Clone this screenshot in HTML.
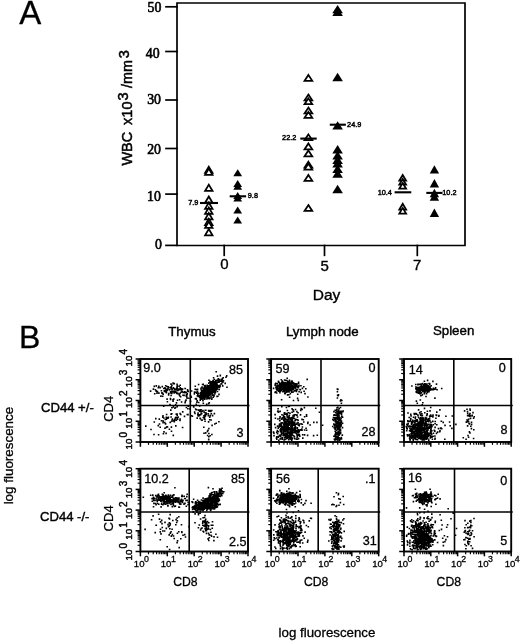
<!DOCTYPE html>
<html><head><meta charset="utf-8"><style>
html,body{margin:0;padding:0;background:#fff;}
svg{display:block;will-change:transform;}
text{fill:#000;stroke:#000;font-family:"Liberation Sans",sans-serif;}
text.sf{font-family:"Liberation Serif",serif;}
</style></head><body>
<svg width="520" height="643" viewBox="0 0 520 643">
<rect width="520" height="643" fill="#fff"/>
<text x="19.3" y="23.8" font-size="33" stroke-width="0.3">A</text>
<g stroke="#000" fill="none" stroke-linecap="square">
<path d="M177,3 H465 V245.5 H177 Z" stroke-width="1.7"/>
<line x1="166" y1="6.8" x2="177" y2="6.8" stroke-width="1.7"/>
<line x1="166" y1="51.5" x2="177" y2="51.5" stroke-width="1.7"/>
<line x1="166" y1="100" x2="177" y2="100" stroke-width="1.7"/>
<line x1="166" y1="148.5" x2="177" y2="148.5" stroke-width="1.7"/>
<line x1="166" y1="194.1" x2="177" y2="194.1" stroke-width="1.7"/>
<line x1="166" y1="245.4" x2="177" y2="245.4" stroke-width="1.7"/>
<line x1="224.2" y1="245.5" x2="224.2" y2="255.3" stroke-width="1.7"/>
<line x1="324.5" y1="245.5" x2="324.5" y2="255.3" stroke-width="1.7"/>
<line x1="417.3" y1="245.5" x2="417.3" y2="255.3" stroke-width="1.7"/>
</g>
<text x="161.3" y="11.6" font-size="13.8" text-anchor="end" class="sf" stroke-width="0.6">50</text>
<text x="159.6" y="57.7" font-size="13.8" text-anchor="end" class="sf" stroke-width="0.6">40</text>
<text x="161" y="103.6" font-size="13.8" text-anchor="end" class="sf" stroke-width="0.6">30</text>
<text x="161" y="153.6" font-size="13.8" text-anchor="end" class="sf" stroke-width="0.6">20</text>
<text x="160.8" y="200.8" font-size="13.8" text-anchor="end" class="sf" stroke-width="0.6">10</text>
<text x="161.8" y="248.5" font-size="13.8" text-anchor="end" class="sf" stroke-width="0.6">0</text>
<text x="224.5" y="268.8" font-size="15" text-anchor="middle" stroke-width="0.35">0</text>
<text x="324.6" y="270.8" font-size="15" text-anchor="middle" stroke-width="0.35">5</text>
<text x="417.2" y="270.4" font-size="15" text-anchor="middle" stroke-width="0.35">7</text>
<text x="326.5" y="300.2" font-size="15.5" text-anchor="middle" stroke-width="0.35">Day</text>
<text transform="translate(132.2,165.6) rotate(-90)" font-size="14.5" stroke-width="0.5">WBC</text>
<text transform="translate(132.2,124.9) rotate(-90)" font-size="14.5" stroke-width="0.5">x10</text>
<text transform="translate(128.3,100.4) rotate(-90)" font-size="14.5" stroke-width="0.5">3</text>
<text transform="translate(132.2,88) rotate(-90)" font-size="14.5" stroke-width="0.5">/mm</text>
<text transform="translate(128.6,58.2) rotate(-90)" font-size="14.5" stroke-width="0.5">3</text>
<path d="M208.8,166.66 L212.53,172.93 L205.07,172.93 Z" fill="#fff" stroke="#000" stroke-width="1.75"/>
<path d="M208.8,168.66 L212.53,174.93 L205.07,174.93 Z" fill="#fff" stroke="#000" stroke-width="1.75"/>
<path d="M208.8,184.66 L212.53,190.93 L205.07,190.93 Z" fill="#fff" stroke="#000" stroke-width="1.75"/>
<path d="M208.8,196.46 L212.53,202.73 L205.07,202.73 Z" fill="#fff" stroke="#000" stroke-width="1.75"/>
<path d="M208.8,202.56 L212.53,208.83 L205.07,208.83 Z" fill="#fff" stroke="#000" stroke-width="1.75"/>
<path d="M208.8,207.56 L212.53,213.83 L205.07,213.83 Z" fill="#fff" stroke="#000" stroke-width="1.75"/>
<path d="M208.8,213.06 L212.53,219.33 L205.07,219.33 Z" fill="#fff" stroke="#000" stroke-width="1.75"/>
<path d="M208.8,218.76 L212.53,225.03 L205.07,225.03 Z" fill="#fff" stroke="#000" stroke-width="1.75"/>
<path d="M208.8,221.66 L212.53,227.93 L205.07,227.93 Z" fill="#fff" stroke="#000" stroke-width="1.75"/>
<path d="M208.8,229.06 L212.53,235.33 L205.07,235.33 Z" fill="#fff" stroke="#000" stroke-width="1.75"/>
<path d="M237.7,169.2 L242.1,176.2 L233.3,176.2 Z" fill="#000"/>
<path d="M237.7,179.9 L242.1,186.9 L233.3,186.9 Z" fill="#000"/>
<path d="M237.7,182.7 L242.1,189.7 L233.3,189.7 Z" fill="#000"/>
<path d="M237.7,192 L242.1,199 L233.3,199 Z" fill="#000"/>
<path d="M237.7,194.5 L242.1,201.5 L233.3,201.5 Z" fill="#000"/>
<path d="M237.7,206.5 L242.1,213.5 L233.3,213.5 Z" fill="#000"/>
<path d="M237.7,216.4 L242.1,223.4 L233.3,223.4 Z" fill="#000"/>
<path d="M308.4,74.96 L312.27,80.83 L304.52,80.83 Z" fill="#fff" stroke="#000" stroke-width="1.75"/>
<path d="M308.4,94.56 L312.27,100.43 L304.52,100.43 Z" fill="#fff" stroke="#000" stroke-width="1.75"/>
<path d="M308.4,98.36 L312.27,104.23 L304.52,104.23 Z" fill="#fff" stroke="#000" stroke-width="1.75"/>
<path d="M308.4,107.56 L312.27,113.43 L304.52,113.43 Z" fill="#fff" stroke="#000" stroke-width="1.75"/>
<path d="M308.4,111.96 L312.27,117.83 L304.52,117.83 Z" fill="#fff" stroke="#000" stroke-width="1.75"/>
<path d="M308.4,134.36 L312.27,140.22 L304.52,140.22 Z" fill="#fff" stroke="#000" stroke-width="1.75"/>
<path d="M308.4,143.46 L312.27,149.33 L304.52,149.33 Z" fill="#fff" stroke="#000" stroke-width="1.75"/>
<path d="M308.4,150.46 L312.27,156.33 L304.52,156.33 Z" fill="#fff" stroke="#000" stroke-width="1.75"/>
<path d="M308.4,161.66 L312.27,167.53 L304.52,167.53 Z" fill="#fff" stroke="#000" stroke-width="1.75"/>
<path d="M308.4,163.66 L312.27,169.53 L304.52,169.53 Z" fill="#fff" stroke="#000" stroke-width="1.75"/>
<path d="M308.4,174.96 L312.27,180.83 L304.52,180.83 Z" fill="#fff" stroke="#000" stroke-width="1.75"/>
<path d="M308.4,205.06 L312.27,210.93 L304.52,210.93 Z" fill="#fff" stroke="#000" stroke-width="1.75"/>
<path d="M337.6,4.9 L342.9,13.3 L332.3,13.3 Z" fill="#000"/>
<path d="M337.6,7.7 L342.9,16.1 L332.3,16.1 Z" fill="#000"/>
<path d="M337.6,72.8 L342.9,81.2 L332.3,81.2 Z" fill="#000"/>
<path d="M337.6,121.2 L342.9,129.6 L332.3,129.6 Z" fill="#000"/>
<path d="M337.6,145.1 L342.9,153.5 L332.3,153.5 Z" fill="#000"/>
<path d="M337.6,151.2 L342.9,159.6 L332.3,159.6 Z" fill="#000"/>
<path d="M337.6,155.5 L342.9,163.9 L332.3,163.9 Z" fill="#000"/>
<path d="M337.6,159.1 L342.9,167.5 L332.3,167.5 Z" fill="#000"/>
<path d="M337.6,164.7 L342.9,173.1 L332.3,173.1 Z" fill="#000"/>
<path d="M337.6,169.4 L342.9,177.8 L332.3,177.8 Z" fill="#000"/>
<path d="M337.6,184.8 L342.9,193.2 L332.3,193.2 Z" fill="#000"/>
<path d="M402.7,174.96 L406.12,180.73 L399.27,180.73 Z" fill="#fff" stroke="#000" stroke-width="1.75"/>
<path d="M402.7,178.96 L406.12,184.73 L399.27,184.73 Z" fill="#fff" stroke="#000" stroke-width="1.75"/>
<path d="M402.7,182.96 L406.12,188.73 L399.27,188.73 Z" fill="#fff" stroke="#000" stroke-width="1.75"/>
<path d="M402.7,203.76 L406.12,209.53 L399.27,209.53 Z" fill="#fff" stroke="#000" stroke-width="1.75"/>
<path d="M402.7,207.86 L406.12,213.62 L399.27,213.62 Z" fill="#fff" stroke="#000" stroke-width="1.75"/>
<path d="M434.4,165.2 L439.1,173.6 L429.7,173.6 Z" fill="#000"/>
<path d="M434.4,179 L439.1,187.4 L429.7,187.4 Z" fill="#000"/>
<path d="M434.4,188.8 L439.1,197.2 L429.7,197.2 Z" fill="#000"/>
<path d="M434.4,192.3 L439.1,200.7 L429.7,200.7 Z" fill="#000"/>
<path d="M434.4,208.5 L439.1,216.9 L429.7,216.9 Z" fill="#000"/>
<g stroke="#000">
<line x1="200" y1="203" x2="218" y2="203" stroke-width="2.1"/>
<line x1="229.7" y1="196.3" x2="246.1" y2="196.3" stroke-width="2.1"/>
<line x1="300.3" y1="138.6" x2="316.7" y2="138.6" stroke-width="2.1"/>
<line x1="329.8" y1="124.7" x2="345.9" y2="124.7" stroke-width="2.1"/>
<line x1="394.6" y1="192.3" x2="411.3" y2="192.3" stroke-width="2.1"/>
<line x1="426.3" y1="192.9" x2="442.5" y2="192.9" stroke-width="2.1"/>
</g>
<text x="198.4" y="204.7" font-size="7.3" text-anchor="end" stroke-width="0.45">7.9</text>
<text x="247.8" y="198.2" font-size="7.3" stroke-width="0.45">9.8</text>
<text x="296.3" y="139.8" font-size="7.3" text-anchor="end" stroke-width="0.45">22.2</text>
<text x="347.1" y="126.6" font-size="7.3" stroke-width="0.45">24.9</text>
<text x="391.9" y="195.3" font-size="7.3" text-anchor="end" stroke-width="0.45">10.4</text>
<text x="442.3" y="195.3" font-size="7.3" stroke-width="0.45">10.2</text>
<text x="19" y="348.3" font-size="32" stroke-width="0.3">B</text>
<text x="191.9" y="336.1" font-size="13.3" text-anchor="middle" stroke-width="0.4">Thymus</text>
<text x="322.3" y="335.7" font-size="13.3" text-anchor="middle" stroke-width="0.4">Lymph node</text>
<text x="453.6" y="335.4" font-size="13.3" text-anchor="middle" stroke-width="0.4">Spleen</text>
<text x="41" y="412.3" font-size="13.1" stroke-width="0.4">CD44 +/-</text>
<text x="40" y="521.3" font-size="13.1" stroke-width="0.4">CD44 -/-</text>
<text transform="translate(13.1,455.6) rotate(-90)" font-size="13.4" text-anchor="middle" stroke-width="0.3">log fluorescence</text>
<text x="327" y="636.6" font-size="13.3" text-anchor="middle" stroke-width="0.3">log fluorescence</text>
<g stroke="#000" fill="none">
<rect x="140.4" y="359" width="107.6" height="83" stroke-width="1.9"/>
<line x1="190.3" y1="359" x2="190.3" y2="442" stroke-width="1.6"/>
<line x1="140.4" y1="405.5" x2="249.5" y2="405.5" stroke-width="1.6"/>
<line x1="135.6" y1="442" x2="140.4" y2="442" stroke-width="1.5"/>
<line x1="137.6" y1="435.75" x2="140.4" y2="435.75" stroke-width="1.2"/>
<line x1="137.6" y1="432.1" x2="140.4" y2="432.1" stroke-width="1.2"/>
<line x1="137.6" y1="429.51" x2="140.4" y2="429.51" stroke-width="1.2"/>
<line x1="137.6" y1="427.5" x2="140.4" y2="427.5" stroke-width="1.2"/>
<line x1="137.6" y1="425.85" x2="140.4" y2="425.85" stroke-width="1.2"/>
<line x1="137.6" y1="424.46" x2="140.4" y2="424.46" stroke-width="1.2"/>
<line x1="137.6" y1="423.26" x2="140.4" y2="423.26" stroke-width="1.2"/>
<line x1="137.6" y1="422.2" x2="140.4" y2="422.2" stroke-width="1.2"/>
<line x1="135.6" y1="421.25" x2="140.4" y2="421.25" stroke-width="1.5"/>
<line x1="137.6" y1="415" x2="140.4" y2="415" stroke-width="1.2"/>
<line x1="137.6" y1="411.35" x2="140.4" y2="411.35" stroke-width="1.2"/>
<line x1="137.6" y1="408.76" x2="140.4" y2="408.76" stroke-width="1.2"/>
<line x1="137.6" y1="406.75" x2="140.4" y2="406.75" stroke-width="1.2"/>
<line x1="137.6" y1="405.1" x2="140.4" y2="405.1" stroke-width="1.2"/>
<line x1="137.6" y1="403.71" x2="140.4" y2="403.71" stroke-width="1.2"/>
<line x1="137.6" y1="402.51" x2="140.4" y2="402.51" stroke-width="1.2"/>
<line x1="137.6" y1="401.45" x2="140.4" y2="401.45" stroke-width="1.2"/>
<line x1="135.6" y1="400.5" x2="140.4" y2="400.5" stroke-width="1.5"/>
<line x1="137.6" y1="394.25" x2="140.4" y2="394.25" stroke-width="1.2"/>
<line x1="137.6" y1="390.6" x2="140.4" y2="390.6" stroke-width="1.2"/>
<line x1="137.6" y1="388.01" x2="140.4" y2="388.01" stroke-width="1.2"/>
<line x1="137.6" y1="386" x2="140.4" y2="386" stroke-width="1.2"/>
<line x1="137.6" y1="384.35" x2="140.4" y2="384.35" stroke-width="1.2"/>
<line x1="137.6" y1="382.96" x2="140.4" y2="382.96" stroke-width="1.2"/>
<line x1="137.6" y1="381.76" x2="140.4" y2="381.76" stroke-width="1.2"/>
<line x1="137.6" y1="380.7" x2="140.4" y2="380.7" stroke-width="1.2"/>
<line x1="135.6" y1="379.75" x2="140.4" y2="379.75" stroke-width="1.5"/>
<line x1="137.6" y1="373.5" x2="140.4" y2="373.5" stroke-width="1.2"/>
<line x1="137.6" y1="369.85" x2="140.4" y2="369.85" stroke-width="1.2"/>
<line x1="137.6" y1="367.26" x2="140.4" y2="367.26" stroke-width="1.2"/>
<line x1="137.6" y1="365.25" x2="140.4" y2="365.25" stroke-width="1.2"/>
<line x1="137.6" y1="363.6" x2="140.4" y2="363.6" stroke-width="1.2"/>
<line x1="137.6" y1="362.21" x2="140.4" y2="362.21" stroke-width="1.2"/>
<line x1="137.6" y1="361.01" x2="140.4" y2="361.01" stroke-width="1.2"/>
<line x1="137.6" y1="359.95" x2="140.4" y2="359.95" stroke-width="1.2"/>
<line x1="135.6" y1="359" x2="140.4" y2="359" stroke-width="1.5"/>
<line x1="140.4" y1="442" x2="140.4" y2="446.8" stroke-width="1.5"/>
<line x1="148.5" y1="442" x2="148.5" y2="444.8" stroke-width="1.2"/>
<line x1="153.23" y1="442" x2="153.23" y2="444.8" stroke-width="1.2"/>
<line x1="156.6" y1="442" x2="156.6" y2="444.8" stroke-width="1.2"/>
<line x1="159.2" y1="442" x2="159.2" y2="444.8" stroke-width="1.2"/>
<line x1="161.33" y1="442" x2="161.33" y2="444.8" stroke-width="1.2"/>
<line x1="163.13" y1="442" x2="163.13" y2="444.8" stroke-width="1.2"/>
<line x1="164.69" y1="442" x2="164.69" y2="444.8" stroke-width="1.2"/>
<line x1="166.07" y1="442" x2="166.07" y2="444.8" stroke-width="1.2"/>
<line x1="167.3" y1="442" x2="167.3" y2="446.8" stroke-width="1.5"/>
<line x1="175.4" y1="442" x2="175.4" y2="444.8" stroke-width="1.2"/>
<line x1="180.13" y1="442" x2="180.13" y2="444.8" stroke-width="1.2"/>
<line x1="183.5" y1="442" x2="183.5" y2="444.8" stroke-width="1.2"/>
<line x1="186.1" y1="442" x2="186.1" y2="444.8" stroke-width="1.2"/>
<line x1="188.23" y1="442" x2="188.23" y2="444.8" stroke-width="1.2"/>
<line x1="190.03" y1="442" x2="190.03" y2="444.8" stroke-width="1.2"/>
<line x1="191.59" y1="442" x2="191.59" y2="444.8" stroke-width="1.2"/>
<line x1="192.97" y1="442" x2="192.97" y2="444.8" stroke-width="1.2"/>
<line x1="194.2" y1="442" x2="194.2" y2="446.8" stroke-width="1.5"/>
<line x1="202.3" y1="442" x2="202.3" y2="444.8" stroke-width="1.2"/>
<line x1="207.03" y1="442" x2="207.03" y2="444.8" stroke-width="1.2"/>
<line x1="210.4" y1="442" x2="210.4" y2="444.8" stroke-width="1.2"/>
<line x1="213" y1="442" x2="213" y2="444.8" stroke-width="1.2"/>
<line x1="215.13" y1="442" x2="215.13" y2="444.8" stroke-width="1.2"/>
<line x1="216.93" y1="442" x2="216.93" y2="444.8" stroke-width="1.2"/>
<line x1="218.49" y1="442" x2="218.49" y2="444.8" stroke-width="1.2"/>
<line x1="219.87" y1="442" x2="219.87" y2="444.8" stroke-width="1.2"/>
<line x1="221.1" y1="442" x2="221.1" y2="446.8" stroke-width="1.5"/>
<line x1="229.2" y1="442" x2="229.2" y2="444.8" stroke-width="1.2"/>
<line x1="233.93" y1="442" x2="233.93" y2="444.8" stroke-width="1.2"/>
<line x1="237.3" y1="442" x2="237.3" y2="444.8" stroke-width="1.2"/>
<line x1="239.9" y1="442" x2="239.9" y2="444.8" stroke-width="1.2"/>
<line x1="242.03" y1="442" x2="242.03" y2="444.8" stroke-width="1.2"/>
<line x1="243.83" y1="442" x2="243.83" y2="444.8" stroke-width="1.2"/>
<line x1="245.39" y1="442" x2="245.39" y2="444.8" stroke-width="1.2"/>
<line x1="246.77" y1="442" x2="246.77" y2="444.8" stroke-width="1.2"/>
<line x1="248" y1="442" x2="248" y2="446.8" stroke-width="1.5"/>
</g>
<g stroke="#000" fill="none">
<rect x="271.1" y="359" width="107.6" height="83" stroke-width="1.9"/>
<line x1="321" y1="359" x2="321" y2="442" stroke-width="1.6"/>
<line x1="271.1" y1="405.5" x2="380.2" y2="405.5" stroke-width="1.6"/>
<line x1="266.3" y1="442" x2="271.1" y2="442" stroke-width="1.5"/>
<line x1="268.3" y1="435.75" x2="271.1" y2="435.75" stroke-width="1.2"/>
<line x1="268.3" y1="432.1" x2="271.1" y2="432.1" stroke-width="1.2"/>
<line x1="268.3" y1="429.51" x2="271.1" y2="429.51" stroke-width="1.2"/>
<line x1="268.3" y1="427.5" x2="271.1" y2="427.5" stroke-width="1.2"/>
<line x1="268.3" y1="425.85" x2="271.1" y2="425.85" stroke-width="1.2"/>
<line x1="268.3" y1="424.46" x2="271.1" y2="424.46" stroke-width="1.2"/>
<line x1="268.3" y1="423.26" x2="271.1" y2="423.26" stroke-width="1.2"/>
<line x1="268.3" y1="422.2" x2="271.1" y2="422.2" stroke-width="1.2"/>
<line x1="266.3" y1="421.25" x2="271.1" y2="421.25" stroke-width="1.5"/>
<line x1="268.3" y1="415" x2="271.1" y2="415" stroke-width="1.2"/>
<line x1="268.3" y1="411.35" x2="271.1" y2="411.35" stroke-width="1.2"/>
<line x1="268.3" y1="408.76" x2="271.1" y2="408.76" stroke-width="1.2"/>
<line x1="268.3" y1="406.75" x2="271.1" y2="406.75" stroke-width="1.2"/>
<line x1="268.3" y1="405.1" x2="271.1" y2="405.1" stroke-width="1.2"/>
<line x1="268.3" y1="403.71" x2="271.1" y2="403.71" stroke-width="1.2"/>
<line x1="268.3" y1="402.51" x2="271.1" y2="402.51" stroke-width="1.2"/>
<line x1="268.3" y1="401.45" x2="271.1" y2="401.45" stroke-width="1.2"/>
<line x1="266.3" y1="400.5" x2="271.1" y2="400.5" stroke-width="1.5"/>
<line x1="268.3" y1="394.25" x2="271.1" y2="394.25" stroke-width="1.2"/>
<line x1="268.3" y1="390.6" x2="271.1" y2="390.6" stroke-width="1.2"/>
<line x1="268.3" y1="388.01" x2="271.1" y2="388.01" stroke-width="1.2"/>
<line x1="268.3" y1="386" x2="271.1" y2="386" stroke-width="1.2"/>
<line x1="268.3" y1="384.35" x2="271.1" y2="384.35" stroke-width="1.2"/>
<line x1="268.3" y1="382.96" x2="271.1" y2="382.96" stroke-width="1.2"/>
<line x1="268.3" y1="381.76" x2="271.1" y2="381.76" stroke-width="1.2"/>
<line x1="268.3" y1="380.7" x2="271.1" y2="380.7" stroke-width="1.2"/>
<line x1="266.3" y1="379.75" x2="271.1" y2="379.75" stroke-width="1.5"/>
<line x1="268.3" y1="373.5" x2="271.1" y2="373.5" stroke-width="1.2"/>
<line x1="268.3" y1="369.85" x2="271.1" y2="369.85" stroke-width="1.2"/>
<line x1="268.3" y1="367.26" x2="271.1" y2="367.26" stroke-width="1.2"/>
<line x1="268.3" y1="365.25" x2="271.1" y2="365.25" stroke-width="1.2"/>
<line x1="268.3" y1="363.6" x2="271.1" y2="363.6" stroke-width="1.2"/>
<line x1="268.3" y1="362.21" x2="271.1" y2="362.21" stroke-width="1.2"/>
<line x1="268.3" y1="361.01" x2="271.1" y2="361.01" stroke-width="1.2"/>
<line x1="268.3" y1="359.95" x2="271.1" y2="359.95" stroke-width="1.2"/>
<line x1="266.3" y1="359" x2="271.1" y2="359" stroke-width="1.5"/>
<line x1="271.1" y1="442" x2="271.1" y2="446.8" stroke-width="1.5"/>
<line x1="279.2" y1="442" x2="279.2" y2="444.8" stroke-width="1.2"/>
<line x1="283.93" y1="442" x2="283.93" y2="444.8" stroke-width="1.2"/>
<line x1="287.3" y1="442" x2="287.3" y2="444.8" stroke-width="1.2"/>
<line x1="289.9" y1="442" x2="289.9" y2="444.8" stroke-width="1.2"/>
<line x1="292.03" y1="442" x2="292.03" y2="444.8" stroke-width="1.2"/>
<line x1="293.83" y1="442" x2="293.83" y2="444.8" stroke-width="1.2"/>
<line x1="295.39" y1="442" x2="295.39" y2="444.8" stroke-width="1.2"/>
<line x1="296.77" y1="442" x2="296.77" y2="444.8" stroke-width="1.2"/>
<line x1="298" y1="442" x2="298" y2="446.8" stroke-width="1.5"/>
<line x1="306.1" y1="442" x2="306.1" y2="444.8" stroke-width="1.2"/>
<line x1="310.83" y1="442" x2="310.83" y2="444.8" stroke-width="1.2"/>
<line x1="314.2" y1="442" x2="314.2" y2="444.8" stroke-width="1.2"/>
<line x1="316.8" y1="442" x2="316.8" y2="444.8" stroke-width="1.2"/>
<line x1="318.93" y1="442" x2="318.93" y2="444.8" stroke-width="1.2"/>
<line x1="320.73" y1="442" x2="320.73" y2="444.8" stroke-width="1.2"/>
<line x1="322.29" y1="442" x2="322.29" y2="444.8" stroke-width="1.2"/>
<line x1="323.67" y1="442" x2="323.67" y2="444.8" stroke-width="1.2"/>
<line x1="324.9" y1="442" x2="324.9" y2="446.8" stroke-width="1.5"/>
<line x1="333" y1="442" x2="333" y2="444.8" stroke-width="1.2"/>
<line x1="337.73" y1="442" x2="337.73" y2="444.8" stroke-width="1.2"/>
<line x1="341.1" y1="442" x2="341.1" y2="444.8" stroke-width="1.2"/>
<line x1="343.7" y1="442" x2="343.7" y2="444.8" stroke-width="1.2"/>
<line x1="345.83" y1="442" x2="345.83" y2="444.8" stroke-width="1.2"/>
<line x1="347.63" y1="442" x2="347.63" y2="444.8" stroke-width="1.2"/>
<line x1="349.19" y1="442" x2="349.19" y2="444.8" stroke-width="1.2"/>
<line x1="350.57" y1="442" x2="350.57" y2="444.8" stroke-width="1.2"/>
<line x1="351.8" y1="442" x2="351.8" y2="446.8" stroke-width="1.5"/>
<line x1="359.9" y1="442" x2="359.9" y2="444.8" stroke-width="1.2"/>
<line x1="364.63" y1="442" x2="364.63" y2="444.8" stroke-width="1.2"/>
<line x1="368" y1="442" x2="368" y2="444.8" stroke-width="1.2"/>
<line x1="370.6" y1="442" x2="370.6" y2="444.8" stroke-width="1.2"/>
<line x1="372.73" y1="442" x2="372.73" y2="444.8" stroke-width="1.2"/>
<line x1="374.53" y1="442" x2="374.53" y2="444.8" stroke-width="1.2"/>
<line x1="376.09" y1="442" x2="376.09" y2="444.8" stroke-width="1.2"/>
<line x1="377.47" y1="442" x2="377.47" y2="444.8" stroke-width="1.2"/>
<line x1="378.7" y1="442" x2="378.7" y2="446.8" stroke-width="1.5"/>
</g>
<g stroke="#000" fill="none">
<rect x="404" y="359" width="107.2" height="83" stroke-width="1.9"/>
<line x1="453.8" y1="359" x2="453.8" y2="442" stroke-width="1.6"/>
<line x1="404" y1="405.5" x2="512.7" y2="405.5" stroke-width="1.6"/>
<line x1="399.2" y1="442" x2="404" y2="442" stroke-width="1.5"/>
<line x1="401.2" y1="435.75" x2="404" y2="435.75" stroke-width="1.2"/>
<line x1="401.2" y1="432.1" x2="404" y2="432.1" stroke-width="1.2"/>
<line x1="401.2" y1="429.51" x2="404" y2="429.51" stroke-width="1.2"/>
<line x1="401.2" y1="427.5" x2="404" y2="427.5" stroke-width="1.2"/>
<line x1="401.2" y1="425.85" x2="404" y2="425.85" stroke-width="1.2"/>
<line x1="401.2" y1="424.46" x2="404" y2="424.46" stroke-width="1.2"/>
<line x1="401.2" y1="423.26" x2="404" y2="423.26" stroke-width="1.2"/>
<line x1="401.2" y1="422.2" x2="404" y2="422.2" stroke-width="1.2"/>
<line x1="399.2" y1="421.25" x2="404" y2="421.25" stroke-width="1.5"/>
<line x1="401.2" y1="415" x2="404" y2="415" stroke-width="1.2"/>
<line x1="401.2" y1="411.35" x2="404" y2="411.35" stroke-width="1.2"/>
<line x1="401.2" y1="408.76" x2="404" y2="408.76" stroke-width="1.2"/>
<line x1="401.2" y1="406.75" x2="404" y2="406.75" stroke-width="1.2"/>
<line x1="401.2" y1="405.1" x2="404" y2="405.1" stroke-width="1.2"/>
<line x1="401.2" y1="403.71" x2="404" y2="403.71" stroke-width="1.2"/>
<line x1="401.2" y1="402.51" x2="404" y2="402.51" stroke-width="1.2"/>
<line x1="401.2" y1="401.45" x2="404" y2="401.45" stroke-width="1.2"/>
<line x1="399.2" y1="400.5" x2="404" y2="400.5" stroke-width="1.5"/>
<line x1="401.2" y1="394.25" x2="404" y2="394.25" stroke-width="1.2"/>
<line x1="401.2" y1="390.6" x2="404" y2="390.6" stroke-width="1.2"/>
<line x1="401.2" y1="388.01" x2="404" y2="388.01" stroke-width="1.2"/>
<line x1="401.2" y1="386" x2="404" y2="386" stroke-width="1.2"/>
<line x1="401.2" y1="384.35" x2="404" y2="384.35" stroke-width="1.2"/>
<line x1="401.2" y1="382.96" x2="404" y2="382.96" stroke-width="1.2"/>
<line x1="401.2" y1="381.76" x2="404" y2="381.76" stroke-width="1.2"/>
<line x1="401.2" y1="380.7" x2="404" y2="380.7" stroke-width="1.2"/>
<line x1="399.2" y1="379.75" x2="404" y2="379.75" stroke-width="1.5"/>
<line x1="401.2" y1="373.5" x2="404" y2="373.5" stroke-width="1.2"/>
<line x1="401.2" y1="369.85" x2="404" y2="369.85" stroke-width="1.2"/>
<line x1="401.2" y1="367.26" x2="404" y2="367.26" stroke-width="1.2"/>
<line x1="401.2" y1="365.25" x2="404" y2="365.25" stroke-width="1.2"/>
<line x1="401.2" y1="363.6" x2="404" y2="363.6" stroke-width="1.2"/>
<line x1="401.2" y1="362.21" x2="404" y2="362.21" stroke-width="1.2"/>
<line x1="401.2" y1="361.01" x2="404" y2="361.01" stroke-width="1.2"/>
<line x1="401.2" y1="359.95" x2="404" y2="359.95" stroke-width="1.2"/>
<line x1="399.2" y1="359" x2="404" y2="359" stroke-width="1.5"/>
<line x1="404" y1="442" x2="404" y2="446.8" stroke-width="1.5"/>
<line x1="412.07" y1="442" x2="412.07" y2="444.8" stroke-width="1.2"/>
<line x1="416.79" y1="442" x2="416.79" y2="444.8" stroke-width="1.2"/>
<line x1="420.14" y1="442" x2="420.14" y2="444.8" stroke-width="1.2"/>
<line x1="422.73" y1="442" x2="422.73" y2="444.8" stroke-width="1.2"/>
<line x1="424.85" y1="442" x2="424.85" y2="444.8" stroke-width="1.2"/>
<line x1="426.65" y1="442" x2="426.65" y2="444.8" stroke-width="1.2"/>
<line x1="428.2" y1="442" x2="428.2" y2="444.8" stroke-width="1.2"/>
<line x1="429.57" y1="442" x2="429.57" y2="444.8" stroke-width="1.2"/>
<line x1="430.8" y1="442" x2="430.8" y2="446.8" stroke-width="1.5"/>
<line x1="438.87" y1="442" x2="438.87" y2="444.8" stroke-width="1.2"/>
<line x1="443.59" y1="442" x2="443.59" y2="444.8" stroke-width="1.2"/>
<line x1="446.94" y1="442" x2="446.94" y2="444.8" stroke-width="1.2"/>
<line x1="449.53" y1="442" x2="449.53" y2="444.8" stroke-width="1.2"/>
<line x1="451.65" y1="442" x2="451.65" y2="444.8" stroke-width="1.2"/>
<line x1="453.45" y1="442" x2="453.45" y2="444.8" stroke-width="1.2"/>
<line x1="455" y1="442" x2="455" y2="444.8" stroke-width="1.2"/>
<line x1="456.37" y1="442" x2="456.37" y2="444.8" stroke-width="1.2"/>
<line x1="457.6" y1="442" x2="457.6" y2="446.8" stroke-width="1.5"/>
<line x1="465.67" y1="442" x2="465.67" y2="444.8" stroke-width="1.2"/>
<line x1="470.39" y1="442" x2="470.39" y2="444.8" stroke-width="1.2"/>
<line x1="473.74" y1="442" x2="473.74" y2="444.8" stroke-width="1.2"/>
<line x1="476.33" y1="442" x2="476.33" y2="444.8" stroke-width="1.2"/>
<line x1="478.45" y1="442" x2="478.45" y2="444.8" stroke-width="1.2"/>
<line x1="480.25" y1="442" x2="480.25" y2="444.8" stroke-width="1.2"/>
<line x1="481.8" y1="442" x2="481.8" y2="444.8" stroke-width="1.2"/>
<line x1="483.17" y1="442" x2="483.17" y2="444.8" stroke-width="1.2"/>
<line x1="484.4" y1="442" x2="484.4" y2="446.8" stroke-width="1.5"/>
<line x1="492.47" y1="442" x2="492.47" y2="444.8" stroke-width="1.2"/>
<line x1="497.19" y1="442" x2="497.19" y2="444.8" stroke-width="1.2"/>
<line x1="500.54" y1="442" x2="500.54" y2="444.8" stroke-width="1.2"/>
<line x1="503.13" y1="442" x2="503.13" y2="444.8" stroke-width="1.2"/>
<line x1="505.25" y1="442" x2="505.25" y2="444.8" stroke-width="1.2"/>
<line x1="507.05" y1="442" x2="507.05" y2="444.8" stroke-width="1.2"/>
<line x1="508.6" y1="442" x2="508.6" y2="444.8" stroke-width="1.2"/>
<line x1="509.97" y1="442" x2="509.97" y2="444.8" stroke-width="1.2"/>
<line x1="511.2" y1="442" x2="511.2" y2="446.8" stroke-width="1.5"/>
</g>
<g stroke="#000" fill="none">
<rect x="140.4" y="468.7" width="107.6" height="82.8" stroke-width="1.9"/>
<line x1="189.2" y1="468.7" x2="189.2" y2="551.5" stroke-width="1.6"/>
<line x1="140.4" y1="512" x2="249.5" y2="512" stroke-width="1.6"/>
<line x1="135.6" y1="551.5" x2="140.4" y2="551.5" stroke-width="1.5"/>
<line x1="137.6" y1="545.27" x2="140.4" y2="545.27" stroke-width="1.2"/>
<line x1="137.6" y1="541.62" x2="140.4" y2="541.62" stroke-width="1.2"/>
<line x1="137.6" y1="539.04" x2="140.4" y2="539.04" stroke-width="1.2"/>
<line x1="137.6" y1="537.03" x2="140.4" y2="537.03" stroke-width="1.2"/>
<line x1="137.6" y1="535.39" x2="140.4" y2="535.39" stroke-width="1.2"/>
<line x1="137.6" y1="534.01" x2="140.4" y2="534.01" stroke-width="1.2"/>
<line x1="137.6" y1="532.81" x2="140.4" y2="532.81" stroke-width="1.2"/>
<line x1="137.6" y1="531.75" x2="140.4" y2="531.75" stroke-width="1.2"/>
<line x1="135.6" y1="530.8" x2="140.4" y2="530.8" stroke-width="1.5"/>
<line x1="137.6" y1="524.57" x2="140.4" y2="524.57" stroke-width="1.2"/>
<line x1="137.6" y1="520.92" x2="140.4" y2="520.92" stroke-width="1.2"/>
<line x1="137.6" y1="518.34" x2="140.4" y2="518.34" stroke-width="1.2"/>
<line x1="137.6" y1="516.33" x2="140.4" y2="516.33" stroke-width="1.2"/>
<line x1="137.6" y1="514.69" x2="140.4" y2="514.69" stroke-width="1.2"/>
<line x1="137.6" y1="513.31" x2="140.4" y2="513.31" stroke-width="1.2"/>
<line x1="137.6" y1="512.11" x2="140.4" y2="512.11" stroke-width="1.2"/>
<line x1="137.6" y1="511.05" x2="140.4" y2="511.05" stroke-width="1.2"/>
<line x1="135.6" y1="510.1" x2="140.4" y2="510.1" stroke-width="1.5"/>
<line x1="137.6" y1="503.87" x2="140.4" y2="503.87" stroke-width="1.2"/>
<line x1="137.6" y1="500.22" x2="140.4" y2="500.22" stroke-width="1.2"/>
<line x1="137.6" y1="497.64" x2="140.4" y2="497.64" stroke-width="1.2"/>
<line x1="137.6" y1="495.63" x2="140.4" y2="495.63" stroke-width="1.2"/>
<line x1="137.6" y1="493.99" x2="140.4" y2="493.99" stroke-width="1.2"/>
<line x1="137.6" y1="492.61" x2="140.4" y2="492.61" stroke-width="1.2"/>
<line x1="137.6" y1="491.41" x2="140.4" y2="491.41" stroke-width="1.2"/>
<line x1="137.6" y1="490.35" x2="140.4" y2="490.35" stroke-width="1.2"/>
<line x1="135.6" y1="489.4" x2="140.4" y2="489.4" stroke-width="1.5"/>
<line x1="137.6" y1="483.17" x2="140.4" y2="483.17" stroke-width="1.2"/>
<line x1="137.6" y1="479.52" x2="140.4" y2="479.52" stroke-width="1.2"/>
<line x1="137.6" y1="476.94" x2="140.4" y2="476.94" stroke-width="1.2"/>
<line x1="137.6" y1="474.93" x2="140.4" y2="474.93" stroke-width="1.2"/>
<line x1="137.6" y1="473.29" x2="140.4" y2="473.29" stroke-width="1.2"/>
<line x1="137.6" y1="471.91" x2="140.4" y2="471.91" stroke-width="1.2"/>
<line x1="137.6" y1="470.71" x2="140.4" y2="470.71" stroke-width="1.2"/>
<line x1="137.6" y1="469.65" x2="140.4" y2="469.65" stroke-width="1.2"/>
<line x1="135.6" y1="468.7" x2="140.4" y2="468.7" stroke-width="1.5"/>
<line x1="140.4" y1="551.5" x2="140.4" y2="556.3" stroke-width="1.5"/>
<line x1="148.5" y1="551.5" x2="148.5" y2="554.3" stroke-width="1.2"/>
<line x1="153.23" y1="551.5" x2="153.23" y2="554.3" stroke-width="1.2"/>
<line x1="156.6" y1="551.5" x2="156.6" y2="554.3" stroke-width="1.2"/>
<line x1="159.2" y1="551.5" x2="159.2" y2="554.3" stroke-width="1.2"/>
<line x1="161.33" y1="551.5" x2="161.33" y2="554.3" stroke-width="1.2"/>
<line x1="163.13" y1="551.5" x2="163.13" y2="554.3" stroke-width="1.2"/>
<line x1="164.69" y1="551.5" x2="164.69" y2="554.3" stroke-width="1.2"/>
<line x1="166.07" y1="551.5" x2="166.07" y2="554.3" stroke-width="1.2"/>
<line x1="167.3" y1="551.5" x2="167.3" y2="556.3" stroke-width="1.5"/>
<line x1="175.4" y1="551.5" x2="175.4" y2="554.3" stroke-width="1.2"/>
<line x1="180.13" y1="551.5" x2="180.13" y2="554.3" stroke-width="1.2"/>
<line x1="183.5" y1="551.5" x2="183.5" y2="554.3" stroke-width="1.2"/>
<line x1="186.1" y1="551.5" x2="186.1" y2="554.3" stroke-width="1.2"/>
<line x1="188.23" y1="551.5" x2="188.23" y2="554.3" stroke-width="1.2"/>
<line x1="190.03" y1="551.5" x2="190.03" y2="554.3" stroke-width="1.2"/>
<line x1="191.59" y1="551.5" x2="191.59" y2="554.3" stroke-width="1.2"/>
<line x1="192.97" y1="551.5" x2="192.97" y2="554.3" stroke-width="1.2"/>
<line x1="194.2" y1="551.5" x2="194.2" y2="556.3" stroke-width="1.5"/>
<line x1="202.3" y1="551.5" x2="202.3" y2="554.3" stroke-width="1.2"/>
<line x1="207.03" y1="551.5" x2="207.03" y2="554.3" stroke-width="1.2"/>
<line x1="210.4" y1="551.5" x2="210.4" y2="554.3" stroke-width="1.2"/>
<line x1="213" y1="551.5" x2="213" y2="554.3" stroke-width="1.2"/>
<line x1="215.13" y1="551.5" x2="215.13" y2="554.3" stroke-width="1.2"/>
<line x1="216.93" y1="551.5" x2="216.93" y2="554.3" stroke-width="1.2"/>
<line x1="218.49" y1="551.5" x2="218.49" y2="554.3" stroke-width="1.2"/>
<line x1="219.87" y1="551.5" x2="219.87" y2="554.3" stroke-width="1.2"/>
<line x1="221.1" y1="551.5" x2="221.1" y2="556.3" stroke-width="1.5"/>
<line x1="229.2" y1="551.5" x2="229.2" y2="554.3" stroke-width="1.2"/>
<line x1="233.93" y1="551.5" x2="233.93" y2="554.3" stroke-width="1.2"/>
<line x1="237.3" y1="551.5" x2="237.3" y2="554.3" stroke-width="1.2"/>
<line x1="239.9" y1="551.5" x2="239.9" y2="554.3" stroke-width="1.2"/>
<line x1="242.03" y1="551.5" x2="242.03" y2="554.3" stroke-width="1.2"/>
<line x1="243.83" y1="551.5" x2="243.83" y2="554.3" stroke-width="1.2"/>
<line x1="245.39" y1="551.5" x2="245.39" y2="554.3" stroke-width="1.2"/>
<line x1="246.77" y1="551.5" x2="246.77" y2="554.3" stroke-width="1.2"/>
<line x1="248" y1="551.5" x2="248" y2="556.3" stroke-width="1.5"/>
</g>
<g stroke="#000" fill="none">
<rect x="271.1" y="468.7" width="107.6" height="82.8" stroke-width="1.9"/>
<line x1="318.2" y1="468.7" x2="318.2" y2="551.5" stroke-width="1.6"/>
<line x1="271.1" y1="512" x2="380.2" y2="512" stroke-width="1.6"/>
<line x1="266.3" y1="551.5" x2="271.1" y2="551.5" stroke-width="1.5"/>
<line x1="268.3" y1="545.27" x2="271.1" y2="545.27" stroke-width="1.2"/>
<line x1="268.3" y1="541.62" x2="271.1" y2="541.62" stroke-width="1.2"/>
<line x1="268.3" y1="539.04" x2="271.1" y2="539.04" stroke-width="1.2"/>
<line x1="268.3" y1="537.03" x2="271.1" y2="537.03" stroke-width="1.2"/>
<line x1="268.3" y1="535.39" x2="271.1" y2="535.39" stroke-width="1.2"/>
<line x1="268.3" y1="534.01" x2="271.1" y2="534.01" stroke-width="1.2"/>
<line x1="268.3" y1="532.81" x2="271.1" y2="532.81" stroke-width="1.2"/>
<line x1="268.3" y1="531.75" x2="271.1" y2="531.75" stroke-width="1.2"/>
<line x1="266.3" y1="530.8" x2="271.1" y2="530.8" stroke-width="1.5"/>
<line x1="268.3" y1="524.57" x2="271.1" y2="524.57" stroke-width="1.2"/>
<line x1="268.3" y1="520.92" x2="271.1" y2="520.92" stroke-width="1.2"/>
<line x1="268.3" y1="518.34" x2="271.1" y2="518.34" stroke-width="1.2"/>
<line x1="268.3" y1="516.33" x2="271.1" y2="516.33" stroke-width="1.2"/>
<line x1="268.3" y1="514.69" x2="271.1" y2="514.69" stroke-width="1.2"/>
<line x1="268.3" y1="513.31" x2="271.1" y2="513.31" stroke-width="1.2"/>
<line x1="268.3" y1="512.11" x2="271.1" y2="512.11" stroke-width="1.2"/>
<line x1="268.3" y1="511.05" x2="271.1" y2="511.05" stroke-width="1.2"/>
<line x1="266.3" y1="510.1" x2="271.1" y2="510.1" stroke-width="1.5"/>
<line x1="268.3" y1="503.87" x2="271.1" y2="503.87" stroke-width="1.2"/>
<line x1="268.3" y1="500.22" x2="271.1" y2="500.22" stroke-width="1.2"/>
<line x1="268.3" y1="497.64" x2="271.1" y2="497.64" stroke-width="1.2"/>
<line x1="268.3" y1="495.63" x2="271.1" y2="495.63" stroke-width="1.2"/>
<line x1="268.3" y1="493.99" x2="271.1" y2="493.99" stroke-width="1.2"/>
<line x1="268.3" y1="492.61" x2="271.1" y2="492.61" stroke-width="1.2"/>
<line x1="268.3" y1="491.41" x2="271.1" y2="491.41" stroke-width="1.2"/>
<line x1="268.3" y1="490.35" x2="271.1" y2="490.35" stroke-width="1.2"/>
<line x1="266.3" y1="489.4" x2="271.1" y2="489.4" stroke-width="1.5"/>
<line x1="268.3" y1="483.17" x2="271.1" y2="483.17" stroke-width="1.2"/>
<line x1="268.3" y1="479.52" x2="271.1" y2="479.52" stroke-width="1.2"/>
<line x1="268.3" y1="476.94" x2="271.1" y2="476.94" stroke-width="1.2"/>
<line x1="268.3" y1="474.93" x2="271.1" y2="474.93" stroke-width="1.2"/>
<line x1="268.3" y1="473.29" x2="271.1" y2="473.29" stroke-width="1.2"/>
<line x1="268.3" y1="471.91" x2="271.1" y2="471.91" stroke-width="1.2"/>
<line x1="268.3" y1="470.71" x2="271.1" y2="470.71" stroke-width="1.2"/>
<line x1="268.3" y1="469.65" x2="271.1" y2="469.65" stroke-width="1.2"/>
<line x1="266.3" y1="468.7" x2="271.1" y2="468.7" stroke-width="1.5"/>
<line x1="271.1" y1="551.5" x2="271.1" y2="556.3" stroke-width="1.5"/>
<line x1="279.2" y1="551.5" x2="279.2" y2="554.3" stroke-width="1.2"/>
<line x1="283.93" y1="551.5" x2="283.93" y2="554.3" stroke-width="1.2"/>
<line x1="287.3" y1="551.5" x2="287.3" y2="554.3" stroke-width="1.2"/>
<line x1="289.9" y1="551.5" x2="289.9" y2="554.3" stroke-width="1.2"/>
<line x1="292.03" y1="551.5" x2="292.03" y2="554.3" stroke-width="1.2"/>
<line x1="293.83" y1="551.5" x2="293.83" y2="554.3" stroke-width="1.2"/>
<line x1="295.39" y1="551.5" x2="295.39" y2="554.3" stroke-width="1.2"/>
<line x1="296.77" y1="551.5" x2="296.77" y2="554.3" stroke-width="1.2"/>
<line x1="298" y1="551.5" x2="298" y2="556.3" stroke-width="1.5"/>
<line x1="306.1" y1="551.5" x2="306.1" y2="554.3" stroke-width="1.2"/>
<line x1="310.83" y1="551.5" x2="310.83" y2="554.3" stroke-width="1.2"/>
<line x1="314.2" y1="551.5" x2="314.2" y2="554.3" stroke-width="1.2"/>
<line x1="316.8" y1="551.5" x2="316.8" y2="554.3" stroke-width="1.2"/>
<line x1="318.93" y1="551.5" x2="318.93" y2="554.3" stroke-width="1.2"/>
<line x1="320.73" y1="551.5" x2="320.73" y2="554.3" stroke-width="1.2"/>
<line x1="322.29" y1="551.5" x2="322.29" y2="554.3" stroke-width="1.2"/>
<line x1="323.67" y1="551.5" x2="323.67" y2="554.3" stroke-width="1.2"/>
<line x1="324.9" y1="551.5" x2="324.9" y2="556.3" stroke-width="1.5"/>
<line x1="333" y1="551.5" x2="333" y2="554.3" stroke-width="1.2"/>
<line x1="337.73" y1="551.5" x2="337.73" y2="554.3" stroke-width="1.2"/>
<line x1="341.1" y1="551.5" x2="341.1" y2="554.3" stroke-width="1.2"/>
<line x1="343.7" y1="551.5" x2="343.7" y2="554.3" stroke-width="1.2"/>
<line x1="345.83" y1="551.5" x2="345.83" y2="554.3" stroke-width="1.2"/>
<line x1="347.63" y1="551.5" x2="347.63" y2="554.3" stroke-width="1.2"/>
<line x1="349.19" y1="551.5" x2="349.19" y2="554.3" stroke-width="1.2"/>
<line x1="350.57" y1="551.5" x2="350.57" y2="554.3" stroke-width="1.2"/>
<line x1="351.8" y1="551.5" x2="351.8" y2="556.3" stroke-width="1.5"/>
<line x1="359.9" y1="551.5" x2="359.9" y2="554.3" stroke-width="1.2"/>
<line x1="364.63" y1="551.5" x2="364.63" y2="554.3" stroke-width="1.2"/>
<line x1="368" y1="551.5" x2="368" y2="554.3" stroke-width="1.2"/>
<line x1="370.6" y1="551.5" x2="370.6" y2="554.3" stroke-width="1.2"/>
<line x1="372.73" y1="551.5" x2="372.73" y2="554.3" stroke-width="1.2"/>
<line x1="374.53" y1="551.5" x2="374.53" y2="554.3" stroke-width="1.2"/>
<line x1="376.09" y1="551.5" x2="376.09" y2="554.3" stroke-width="1.2"/>
<line x1="377.47" y1="551.5" x2="377.47" y2="554.3" stroke-width="1.2"/>
<line x1="378.7" y1="551.5" x2="378.7" y2="556.3" stroke-width="1.5"/>
</g>
<g stroke="#000" fill="none">
<rect x="404" y="468.7" width="107.2" height="82.8" stroke-width="1.9"/>
<line x1="454.5" y1="468.7" x2="454.5" y2="551.5" stroke-width="1.6"/>
<line x1="404" y1="512" x2="512.7" y2="512" stroke-width="1.6"/>
<line x1="399.2" y1="551.5" x2="404" y2="551.5" stroke-width="1.5"/>
<line x1="401.2" y1="545.27" x2="404" y2="545.27" stroke-width="1.2"/>
<line x1="401.2" y1="541.62" x2="404" y2="541.62" stroke-width="1.2"/>
<line x1="401.2" y1="539.04" x2="404" y2="539.04" stroke-width="1.2"/>
<line x1="401.2" y1="537.03" x2="404" y2="537.03" stroke-width="1.2"/>
<line x1="401.2" y1="535.39" x2="404" y2="535.39" stroke-width="1.2"/>
<line x1="401.2" y1="534.01" x2="404" y2="534.01" stroke-width="1.2"/>
<line x1="401.2" y1="532.81" x2="404" y2="532.81" stroke-width="1.2"/>
<line x1="401.2" y1="531.75" x2="404" y2="531.75" stroke-width="1.2"/>
<line x1="399.2" y1="530.8" x2="404" y2="530.8" stroke-width="1.5"/>
<line x1="401.2" y1="524.57" x2="404" y2="524.57" stroke-width="1.2"/>
<line x1="401.2" y1="520.92" x2="404" y2="520.92" stroke-width="1.2"/>
<line x1="401.2" y1="518.34" x2="404" y2="518.34" stroke-width="1.2"/>
<line x1="401.2" y1="516.33" x2="404" y2="516.33" stroke-width="1.2"/>
<line x1="401.2" y1="514.69" x2="404" y2="514.69" stroke-width="1.2"/>
<line x1="401.2" y1="513.31" x2="404" y2="513.31" stroke-width="1.2"/>
<line x1="401.2" y1="512.11" x2="404" y2="512.11" stroke-width="1.2"/>
<line x1="401.2" y1="511.05" x2="404" y2="511.05" stroke-width="1.2"/>
<line x1="399.2" y1="510.1" x2="404" y2="510.1" stroke-width="1.5"/>
<line x1="401.2" y1="503.87" x2="404" y2="503.87" stroke-width="1.2"/>
<line x1="401.2" y1="500.22" x2="404" y2="500.22" stroke-width="1.2"/>
<line x1="401.2" y1="497.64" x2="404" y2="497.64" stroke-width="1.2"/>
<line x1="401.2" y1="495.63" x2="404" y2="495.63" stroke-width="1.2"/>
<line x1="401.2" y1="493.99" x2="404" y2="493.99" stroke-width="1.2"/>
<line x1="401.2" y1="492.61" x2="404" y2="492.61" stroke-width="1.2"/>
<line x1="401.2" y1="491.41" x2="404" y2="491.41" stroke-width="1.2"/>
<line x1="401.2" y1="490.35" x2="404" y2="490.35" stroke-width="1.2"/>
<line x1="399.2" y1="489.4" x2="404" y2="489.4" stroke-width="1.5"/>
<line x1="401.2" y1="483.17" x2="404" y2="483.17" stroke-width="1.2"/>
<line x1="401.2" y1="479.52" x2="404" y2="479.52" stroke-width="1.2"/>
<line x1="401.2" y1="476.94" x2="404" y2="476.94" stroke-width="1.2"/>
<line x1="401.2" y1="474.93" x2="404" y2="474.93" stroke-width="1.2"/>
<line x1="401.2" y1="473.29" x2="404" y2="473.29" stroke-width="1.2"/>
<line x1="401.2" y1="471.91" x2="404" y2="471.91" stroke-width="1.2"/>
<line x1="401.2" y1="470.71" x2="404" y2="470.71" stroke-width="1.2"/>
<line x1="401.2" y1="469.65" x2="404" y2="469.65" stroke-width="1.2"/>
<line x1="399.2" y1="468.7" x2="404" y2="468.7" stroke-width="1.5"/>
<line x1="404" y1="551.5" x2="404" y2="556.3" stroke-width="1.5"/>
<line x1="412.07" y1="551.5" x2="412.07" y2="554.3" stroke-width="1.2"/>
<line x1="416.79" y1="551.5" x2="416.79" y2="554.3" stroke-width="1.2"/>
<line x1="420.14" y1="551.5" x2="420.14" y2="554.3" stroke-width="1.2"/>
<line x1="422.73" y1="551.5" x2="422.73" y2="554.3" stroke-width="1.2"/>
<line x1="424.85" y1="551.5" x2="424.85" y2="554.3" stroke-width="1.2"/>
<line x1="426.65" y1="551.5" x2="426.65" y2="554.3" stroke-width="1.2"/>
<line x1="428.2" y1="551.5" x2="428.2" y2="554.3" stroke-width="1.2"/>
<line x1="429.57" y1="551.5" x2="429.57" y2="554.3" stroke-width="1.2"/>
<line x1="430.8" y1="551.5" x2="430.8" y2="556.3" stroke-width="1.5"/>
<line x1="438.87" y1="551.5" x2="438.87" y2="554.3" stroke-width="1.2"/>
<line x1="443.59" y1="551.5" x2="443.59" y2="554.3" stroke-width="1.2"/>
<line x1="446.94" y1="551.5" x2="446.94" y2="554.3" stroke-width="1.2"/>
<line x1="449.53" y1="551.5" x2="449.53" y2="554.3" stroke-width="1.2"/>
<line x1="451.65" y1="551.5" x2="451.65" y2="554.3" stroke-width="1.2"/>
<line x1="453.45" y1="551.5" x2="453.45" y2="554.3" stroke-width="1.2"/>
<line x1="455" y1="551.5" x2="455" y2="554.3" stroke-width="1.2"/>
<line x1="456.37" y1="551.5" x2="456.37" y2="554.3" stroke-width="1.2"/>
<line x1="457.6" y1="551.5" x2="457.6" y2="556.3" stroke-width="1.5"/>
<line x1="465.67" y1="551.5" x2="465.67" y2="554.3" stroke-width="1.2"/>
<line x1="470.39" y1="551.5" x2="470.39" y2="554.3" stroke-width="1.2"/>
<line x1="473.74" y1="551.5" x2="473.74" y2="554.3" stroke-width="1.2"/>
<line x1="476.33" y1="551.5" x2="476.33" y2="554.3" stroke-width="1.2"/>
<line x1="478.45" y1="551.5" x2="478.45" y2="554.3" stroke-width="1.2"/>
<line x1="480.25" y1="551.5" x2="480.25" y2="554.3" stroke-width="1.2"/>
<line x1="481.8" y1="551.5" x2="481.8" y2="554.3" stroke-width="1.2"/>
<line x1="483.17" y1="551.5" x2="483.17" y2="554.3" stroke-width="1.2"/>
<line x1="484.4" y1="551.5" x2="484.4" y2="556.3" stroke-width="1.5"/>
<line x1="492.47" y1="551.5" x2="492.47" y2="554.3" stroke-width="1.2"/>
<line x1="497.19" y1="551.5" x2="497.19" y2="554.3" stroke-width="1.2"/>
<line x1="500.54" y1="551.5" x2="500.54" y2="554.3" stroke-width="1.2"/>
<line x1="503.13" y1="551.5" x2="503.13" y2="554.3" stroke-width="1.2"/>
<line x1="505.25" y1="551.5" x2="505.25" y2="554.3" stroke-width="1.2"/>
<line x1="507.05" y1="551.5" x2="507.05" y2="554.3" stroke-width="1.2"/>
<line x1="508.6" y1="551.5" x2="508.6" y2="554.3" stroke-width="1.2"/>
<line x1="509.97" y1="551.5" x2="509.97" y2="554.3" stroke-width="1.2"/>
<line x1="511.2" y1="551.5" x2="511.2" y2="556.3" stroke-width="1.5"/>
</g>
<text transform="translate(131.9,444) rotate(-90)" font-size="9.8" text-anchor="middle" stroke-width="0.45">10</text>
<text transform="translate(126.6,437.4) rotate(-90)" font-size="10" stroke-width="0.45">0</text>
<text transform="translate(131.9,423.25) rotate(-90)" font-size="9.8" text-anchor="middle" stroke-width="0.45">10</text>
<text transform="translate(126.6,416.65) rotate(-90)" font-size="10" stroke-width="0.45">1</text>
<text transform="translate(131.9,402.5) rotate(-90)" font-size="9.8" text-anchor="middle" stroke-width="0.45">10</text>
<text transform="translate(126.6,395.9) rotate(-90)" font-size="10" stroke-width="0.45">2</text>
<text transform="translate(131.9,381.75) rotate(-90)" font-size="9.8" text-anchor="middle" stroke-width="0.45">10</text>
<text transform="translate(126.6,375.15) rotate(-90)" font-size="10" stroke-width="0.45">3</text>
<text transform="translate(131.9,361) rotate(-90)" font-size="9.8" text-anchor="middle" stroke-width="0.45">10</text>
<text transform="translate(126.6,354.4) rotate(-90)" font-size="10" stroke-width="0.45">4</text>
<text transform="translate(112.7,421.8) rotate(-90)" font-size="13" stroke-width="0.25">CD4</text>
<text transform="translate(131.9,555) rotate(-90)" font-size="9.8" text-anchor="middle" stroke-width="0.45">10</text>
<text transform="translate(126.6,548.4) rotate(-90)" font-size="10" stroke-width="0.45">0</text>
<text transform="translate(131.9,534.3) rotate(-90)" font-size="9.8" text-anchor="middle" stroke-width="0.45">10</text>
<text transform="translate(126.6,527.7) rotate(-90)" font-size="10" stroke-width="0.45">1</text>
<text transform="translate(131.9,513.6) rotate(-90)" font-size="9.8" text-anchor="middle" stroke-width="0.45">10</text>
<text transform="translate(126.6,507) rotate(-90)" font-size="10" stroke-width="0.45">2</text>
<text transform="translate(131.9,492.9) rotate(-90)" font-size="9.8" text-anchor="middle" stroke-width="0.45">10</text>
<text transform="translate(126.6,486.3) rotate(-90)" font-size="10" stroke-width="0.45">3</text>
<text transform="translate(131.9,472.2) rotate(-90)" font-size="9.8" text-anchor="middle" stroke-width="0.45">10</text>
<text transform="translate(126.6,465.6) rotate(-90)" font-size="10" stroke-width="0.45">4</text>
<text transform="translate(112.7,531.4) rotate(-90)" font-size="13" stroke-width="0.25">CD4</text>
<text x="139.2" y="567.4" font-size="9.6" text-anchor="middle" stroke-width="0.3">10</text>
<text x="144" y="562.4" font-size="8.8" stroke-width="0.3">0</text>
<text x="166.1" y="567.4" font-size="9.6" text-anchor="middle" stroke-width="0.3">10</text>
<text x="170.9" y="562.4" font-size="8.8" stroke-width="0.3">1</text>
<text x="193" y="567.4" font-size="9.6" text-anchor="middle" stroke-width="0.3">10</text>
<text x="197.8" y="562.4" font-size="8.8" stroke-width="0.3">2</text>
<text x="219.9" y="567.4" font-size="9.6" text-anchor="middle" stroke-width="0.3">10</text>
<text x="224.7" y="562.4" font-size="8.8" stroke-width="0.3">3</text>
<text x="246.8" y="567.4" font-size="9.6" text-anchor="middle" stroke-width="0.3">10</text>
<text x="251.6" y="562.4" font-size="8.8" stroke-width="0.3">4</text>
<text x="185.4" y="585.6" font-size="12.2" text-anchor="middle" stroke-width="0.3">CD8</text>
<text x="269.9" y="567.4" font-size="9.6" text-anchor="middle" stroke-width="0.3">10</text>
<text x="274.7" y="562.4" font-size="8.8" stroke-width="0.3">0</text>
<text x="296.8" y="567.4" font-size="9.6" text-anchor="middle" stroke-width="0.3">10</text>
<text x="301.6" y="562.4" font-size="8.8" stroke-width="0.3">1</text>
<text x="323.7" y="567.4" font-size="9.6" text-anchor="middle" stroke-width="0.3">10</text>
<text x="328.5" y="562.4" font-size="8.8" stroke-width="0.3">2</text>
<text x="350.6" y="567.4" font-size="9.6" text-anchor="middle" stroke-width="0.3">10</text>
<text x="355.4" y="562.4" font-size="8.8" stroke-width="0.3">3</text>
<text x="377.5" y="567.4" font-size="9.6" text-anchor="middle" stroke-width="0.3">10</text>
<text x="382.3" y="562.4" font-size="8.8" stroke-width="0.3">4</text>
<text x="316.1" y="585.6" font-size="12.2" text-anchor="middle" stroke-width="0.3">CD8</text>
<text x="402.8" y="567.4" font-size="9.6" text-anchor="middle" stroke-width="0.3">10</text>
<text x="407.6" y="562.4" font-size="8.8" stroke-width="0.3">0</text>
<text x="429.6" y="567.4" font-size="9.6" text-anchor="middle" stroke-width="0.3">10</text>
<text x="434.4" y="562.4" font-size="8.8" stroke-width="0.3">1</text>
<text x="456.4" y="567.4" font-size="9.6" text-anchor="middle" stroke-width="0.3">10</text>
<text x="461.2" y="562.4" font-size="8.8" stroke-width="0.3">2</text>
<text x="483.2" y="567.4" font-size="9.6" text-anchor="middle" stroke-width="0.3">10</text>
<text x="488" y="562.4" font-size="8.8" stroke-width="0.3">3</text>
<text x="510" y="567.4" font-size="9.6" text-anchor="middle" stroke-width="0.3">10</text>
<text x="514.8" y="562.4" font-size="8.8" stroke-width="0.3">4</text>
<text x="448.8" y="585.6" font-size="12.2" text-anchor="middle" stroke-width="0.3">CD8</text>
<text x="143.2" y="372.3" font-size="12.6" stroke-width="0.3">9.0</text>
<text x="243" y="373.9" font-size="12.6" text-anchor="end" stroke-width="0.3">85</text>
<text x="243.6" y="437" font-size="12.6" text-anchor="end" stroke-width="0.3">3</text>
<text x="275.4" y="372.7" font-size="12.6" stroke-width="0.3">59</text>
<text x="375.4" y="371.5" font-size="12.6" text-anchor="end" stroke-width="0.3">0</text>
<text x="375.6" y="436.1" font-size="12.6" text-anchor="end" stroke-width="0.3">28</text>
<text x="408.8" y="373.5" font-size="12.6" stroke-width="0.3">14</text>
<text x="505.8" y="372.3" font-size="12.6" text-anchor="end" stroke-width="0.3">0</text>
<text x="507.6" y="434" font-size="12.6" text-anchor="end" stroke-width="0.3">8</text>
<text x="144.2" y="482.8" font-size="12.6" stroke-width="0.3">10.2</text>
<text x="245" y="482.8" font-size="12.6" text-anchor="end" stroke-width="0.3">85</text>
<text x="246.6" y="546.4" font-size="12.6" text-anchor="end" stroke-width="0.3">2.5</text>
<text x="275.9" y="482.5" font-size="12.6" stroke-width="0.3">56</text>
<text x="375.6" y="483" font-size="12.6" text-anchor="end" stroke-width="0.3">.1</text>
<text x="376.7" y="545" font-size="12.6" text-anchor="end" stroke-width="0.3">31</text>
<text x="408" y="482.3" font-size="12.6" stroke-width="0.3">16</text>
<text x="507.2" y="484.9" font-size="12.6" text-anchor="end" stroke-width="0.3">0</text>
<text x="507.2" y="544.6" font-size="12.6" text-anchor="end" stroke-width="0.3">5</text>
<path d="M202.7,395.3h1.6v1.6h-1.6zM212.9,384.0h1.6v1.6h-1.6zM201.4,394.8h1.6v1.6h-1.6zM212.9,389.6h1.6v1.6h-1.6zM199.9,391.8h1.6v1.6h-1.6zM213.0,387.3h1.6v1.6h-1.6zM218.3,384.8h1.6v1.6h-1.6zM207.5,389.2h1.6v1.6h-1.6zM221.6,377.7h1.6v1.6h-1.6zM202.4,390.3h1.6v1.6h-1.6zM209.3,389.2h1.6v1.6h-1.6zM206.6,390.6h1.6v1.6h-1.6zM211.1,389.6h1.6v1.6h-1.6zM214.7,385.1h1.6v1.6h-1.6zM200.2,398.4h1.6v1.6h-1.6zM200.7,395.0h1.6v1.6h-1.6zM200.7,395.6h1.6v1.6h-1.6zM204.7,393.1h1.6v1.6h-1.6zM225.9,375.1h1.6v1.6h-1.6zM210.7,382.9h1.6v1.6h-1.6zM208.1,391.9h1.6v1.6h-1.6zM208.6,390.5h1.6v1.6h-1.6zM207.3,386.7h1.6v1.6h-1.6zM210.1,385.2h1.6v1.6h-1.6zM217.5,380.2h1.6v1.6h-1.6zM212.1,386.4h1.6v1.6h-1.6zM212.5,384.0h1.6v1.6h-1.6zM213.6,384.8h1.6v1.6h-1.6zM216.2,385.2h1.6v1.6h-1.6zM207.9,387.1h1.6v1.6h-1.6zM213.4,387.0h1.6v1.6h-1.6zM216.5,381.5h1.6v1.6h-1.6zM212.3,388.0h1.6v1.6h-1.6zM210.4,388.5h1.6v1.6h-1.6zM208.4,387.3h1.6v1.6h-1.6zM202.5,392.8h1.6v1.6h-1.6zM214.2,389.9h1.6v1.6h-1.6zM215.5,387.3h1.6v1.6h-1.6zM213.8,387.4h1.6v1.6h-1.6zM210.8,390.1h1.6v1.6h-1.6zM217.3,381.0h1.6v1.6h-1.6zM208.2,396.4h1.6v1.6h-1.6zM211.4,390.3h1.6v1.6h-1.6zM211.2,383.2h1.6v1.6h-1.6zM224.4,382.6h1.6v1.6h-1.6zM210.7,390.1h1.6v1.6h-1.6zM207.7,386.9h1.6v1.6h-1.6zM208.5,390.6h1.6v1.6h-1.6zM215.6,386.0h1.6v1.6h-1.6zM211.1,391.9h1.6v1.6h-1.6zM205.8,394.2h1.6v1.6h-1.6zM213.9,383.9h1.6v1.6h-1.6zM197.5,395.1h1.6v1.6h-1.6zM210.6,389.4h1.6v1.6h-1.6zM215.0,380.6h1.6v1.6h-1.6zM209.6,390.7h1.6v1.6h-1.6zM203.6,385.0h1.6v1.6h-1.6zM216.7,390.7h1.6v1.6h-1.6zM212.3,383.1h1.6v1.6h-1.6zM206.7,391.5h1.6v1.6h-1.6zM222.7,380.0h1.6v1.6h-1.6zM211.7,392.1h1.6v1.6h-1.6zM211.2,393.6h1.6v1.6h-1.6zM204.1,391.2h1.6v1.6h-1.6zM214.7,389.2h1.6v1.6h-1.6zM212.5,387.1h1.6v1.6h-1.6zM197.7,395.6h1.6v1.6h-1.6zM204.4,390.8h1.6v1.6h-1.6zM211.0,386.1h1.6v1.6h-1.6zM212.8,386.1h1.6v1.6h-1.6zM206.9,391.0h1.6v1.6h-1.6zM212.2,389.3h1.6v1.6h-1.6zM205.6,390.9h1.6v1.6h-1.6zM204.0,398.5h1.6v1.6h-1.6zM215.9,382.7h1.6v1.6h-1.6zM203.9,388.8h1.6v1.6h-1.6zM209.7,389.0h1.6v1.6h-1.6zM220.5,380.5h1.6v1.6h-1.6zM200.2,387.5h1.6v1.6h-1.6zM216.3,383.7h1.6v1.6h-1.6zM200.3,396.6h1.6v1.6h-1.6zM205.9,403.5h1.6v1.6h-1.6zM215.4,385.7h1.6v1.6h-1.6zM203.9,385.6h1.6v1.6h-1.6zM205.2,386.6h1.6v1.6h-1.6zM208.0,382.3h1.6v1.6h-1.6zM205.8,395.7h1.6v1.6h-1.6zM215.2,379.8h1.6v1.6h-1.6zM201.9,397.7h1.6v1.6h-1.6zM211.3,383.6h1.6v1.6h-1.6zM203.7,390.8h1.6v1.6h-1.6zM201.1,393.0h1.6v1.6h-1.6zM216.3,385.4h1.6v1.6h-1.6zM219.2,380.3h1.6v1.6h-1.6zM206.1,387.8h1.6v1.6h-1.6zM205.6,387.1h1.6v1.6h-1.6zM200.3,398.4h1.6v1.6h-1.6zM217.5,384.9h1.6v1.6h-1.6zM216.0,384.1h1.6v1.6h-1.6zM204.8,392.6h1.6v1.6h-1.6zM204.6,388.6h1.6v1.6h-1.6zM197.0,393.4h1.6v1.6h-1.6zM208.7,389.6h1.6v1.6h-1.6zM208.4,394.3h1.6v1.6h-1.6zM210.4,389.8h1.6v1.6h-1.6zM213.6,382.4h1.6v1.6h-1.6zM199.4,399.3h1.6v1.6h-1.6zM207.1,395.0h1.6v1.6h-1.6zM212.0,390.0h1.6v1.6h-1.6zM209.0,381.7h1.6v1.6h-1.6zM211.2,384.8h1.6v1.6h-1.6zM203.8,391.6h1.6v1.6h-1.6zM214.1,387.9h1.6v1.6h-1.6zM211.0,381.5h1.6v1.6h-1.6zM201.3,386.8h1.6v1.6h-1.6zM209.0,391.0h1.6v1.6h-1.6zM204.9,393.1h1.6v1.6h-1.6zM211.4,390.4h1.6v1.6h-1.6zM202.7,391.1h1.6v1.6h-1.6zM207.4,396.2h1.6v1.6h-1.6zM214.1,384.4h1.6v1.6h-1.6zM209.9,388.6h1.6v1.6h-1.6zM209.2,388.0h1.6v1.6h-1.6zM204.6,388.1h1.6v1.6h-1.6zM207.9,395.5h1.6v1.6h-1.6zM211.4,387.1h1.6v1.6h-1.6zM207.5,390.4h1.6v1.6h-1.6zM209.3,386.4h1.6v1.6h-1.6zM209.9,389.0h1.6v1.6h-1.6zM203.2,390.8h1.6v1.6h-1.6zM201.4,391.3h1.6v1.6h-1.6zM209.2,380.5h1.6v1.6h-1.6zM206.1,389.2h1.6v1.6h-1.6zM205.4,392.2h1.6v1.6h-1.6zM214.6,384.6h1.6v1.6h-1.6zM206.7,388.6h1.6v1.6h-1.6zM209.4,391.8h1.6v1.6h-1.6zM204.5,388.6h1.6v1.6h-1.6zM199.9,392.4h1.6v1.6h-1.6zM203.0,397.6h1.6v1.6h-1.6zM210.0,387.3h1.6v1.6h-1.6zM215.1,381.7h1.6v1.6h-1.6zM213.8,387.8h1.6v1.6h-1.6zM197.7,392.6h1.6v1.6h-1.6zM205.1,395.2h1.6v1.6h-1.6zM213.3,381.2h1.6v1.6h-1.6zM213.4,384.0h1.6v1.6h-1.6zM205.5,389.8h1.6v1.6h-1.6zM203.7,386.9h1.6v1.6h-1.6zM201.1,391.0h1.6v1.6h-1.6zM214.6,391.6h1.6v1.6h-1.6zM222.4,376.9h1.6v1.6h-1.6zM198.7,395.8h1.6v1.6h-1.6zM206.9,397.5h1.6v1.6h-1.6zM210.3,385.3h1.6v1.6h-1.6zM214.4,386.4h1.6v1.6h-1.6zM199.0,395.1h1.6v1.6h-1.6zM207.3,390.4h1.6v1.6h-1.6zM208.6,388.0h1.6v1.6h-1.6zM208.5,387.3h1.6v1.6h-1.6zM206.3,396.3h1.6v1.6h-1.6zM211.1,388.7h1.6v1.6h-1.6zM199.8,395.8h1.6v1.6h-1.6zM210.6,383.1h1.6v1.6h-1.6zM213.6,383.8h1.6v1.6h-1.6zM210.4,387.3h1.6v1.6h-1.6zM211.7,390.9h1.6v1.6h-1.6zM209.0,394.3h1.6v1.6h-1.6zM202.8,390.7h1.6v1.6h-1.6zM210.4,384.0h1.6v1.6h-1.6zM208.1,392.8h1.6v1.6h-1.6zM211.9,380.4h1.6v1.6h-1.6zM214.4,391.1h1.6v1.6h-1.6zM214.4,383.7h1.6v1.6h-1.6zM204.8,391.2h1.6v1.6h-1.6zM202.0,393.7h1.6v1.6h-1.6zM207.3,389.8h1.6v1.6h-1.6zM214.4,383.8h1.6v1.6h-1.6zM202.6,397.7h1.6v1.6h-1.6zM202.1,392.9h1.6v1.6h-1.6zM207.2,389.1h1.6v1.6h-1.6zM202.8,393.1h1.6v1.6h-1.6zM219.0,378.7h1.6v1.6h-1.6zM209.7,392.2h1.6v1.6h-1.6zM213.7,387.7h1.6v1.6h-1.6zM209.7,381.5h1.6v1.6h-1.6zM204.1,393.3h1.6v1.6h-1.6zM213.3,389.9h1.6v1.6h-1.6zM210.6,386.8h1.6v1.6h-1.6zM208.3,388.7h1.6v1.6h-1.6zM211.0,389.7h1.6v1.6h-1.6zM205.3,389.0h1.6v1.6h-1.6zM205.8,395.3h1.6v1.6h-1.6zM217.0,385.9h1.6v1.6h-1.6zM214.4,387.4h1.6v1.6h-1.6zM209.6,390.7h1.6v1.6h-1.6zM202.6,393.4h1.6v1.6h-1.6zM205.9,394.0h1.6v1.6h-1.6zM205.2,391.6h1.6v1.6h-1.6zM212.9,390.4h1.6v1.6h-1.6zM202.7,390.7h1.6v1.6h-1.6zM210.9,383.5h1.6v1.6h-1.6zM209.9,386.2h1.6v1.6h-1.6zM204.8,385.9h1.6v1.6h-1.6zM211.4,385.2h1.6v1.6h-1.6zM207.3,397.5h1.6v1.6h-1.6zM218.2,393.6h1.6v1.6h-1.6zM210.1,386.8h1.6v1.6h-1.6zM211.8,392.2h1.6v1.6h-1.6zM209.1,390.4h1.6v1.6h-1.6zM209.7,385.2h1.6v1.6h-1.6zM208.3,387.7h1.6v1.6h-1.6zM203.4,396.5h1.6v1.6h-1.6zM212.1,386.6h1.6v1.6h-1.6zM200.3,389.0h1.6v1.6h-1.6zM210.9,387.0h1.6v1.6h-1.6zM199.5,396.4h1.6v1.6h-1.6zM200.4,395.7h1.6v1.6h-1.6zM209.9,389.4h1.6v1.6h-1.6zM209.9,388.7h1.6v1.6h-1.6zM201.8,393.4h1.6v1.6h-1.6zM205.4,391.0h1.6v1.6h-1.6zM211.0,389.4h1.6v1.6h-1.6zM212.8,376.9h1.6v1.6h-1.6zM210.3,387.2h1.6v1.6h-1.6zM222.1,381.5h1.6v1.6h-1.6zM200.4,397.2h1.6v1.6h-1.6zM207.4,393.6h1.6v1.6h-1.6zM202.7,393.6h1.6v1.6h-1.6zM207.6,389.7h1.6v1.6h-1.6zM202.3,387.9h1.6v1.6h-1.6zM212.6,389.4h1.6v1.6h-1.6zM206.4,387.5h1.6v1.6h-1.6zM210.5,389.6h1.6v1.6h-1.6zM207.5,390.0h1.6v1.6h-1.6zM214.0,380.9h1.6v1.6h-1.6zM202.3,387.7h1.6v1.6h-1.6zM203.5,390.7h1.6v1.6h-1.6zM202.2,391.9h1.6v1.6h-1.6zM217.7,381.2h1.6v1.6h-1.6zM211.6,394.4h1.6v1.6h-1.6zM205.2,385.9h1.6v1.6h-1.6zM209.0,385.6h1.6v1.6h-1.6zM215.0,379.7h1.6v1.6h-1.6zM202.7,388.4h1.6v1.6h-1.6zM207.3,386.8h1.6v1.6h-1.6zM207.5,388.8h1.6v1.6h-1.6zM206.9,393.9h1.6v1.6h-1.6zM213.6,385.4h1.6v1.6h-1.6zM201.9,390.9h1.6v1.6h-1.6zM214.0,393.2h1.6v1.6h-1.6zM204.8,389.6h1.6v1.6h-1.6zM203.0,390.0h1.6v1.6h-1.6zM203.0,393.0h1.6v1.6h-1.6zM216.1,383.2h1.6v1.6h-1.6zM203.1,388.1h1.6v1.6h-1.6zM209.6,388.3h1.6v1.6h-1.6zM200.2,392.3h1.6v1.6h-1.6zM210.0,391.6h1.6v1.6h-1.6zM212.2,387.1h1.6v1.6h-1.6zM207.3,391.4h1.6v1.6h-1.6zM212.1,393.9h1.6v1.6h-1.6zM201.9,393.4h1.6v1.6h-1.6zM214.8,383.3h1.6v1.6h-1.6zM216.0,383.1h1.6v1.6h-1.6zM208.6,387.9h1.6v1.6h-1.6zM199.6,393.2h1.6v1.6h-1.6zM221.3,381.2h1.6v1.6h-1.6zM213.3,388.7h1.6v1.6h-1.6zM213.2,389.0h1.6v1.6h-1.6zM206.7,390.0h1.6v1.6h-1.6zM213.1,384.4h1.6v1.6h-1.6zM201.1,394.5h1.6v1.6h-1.6zM206.7,392.9h1.6v1.6h-1.6zM202.9,390.2h1.6v1.6h-1.6zM209.4,394.0h1.6v1.6h-1.6zM208.5,389.8h1.6v1.6h-1.6zM209.1,389.9h1.6v1.6h-1.6zM215.8,388.3h1.6v1.6h-1.6zM202.1,399.2h1.6v1.6h-1.6zM207.9,388.6h1.6v1.6h-1.6zM220.9,378.7h1.6v1.6h-1.6zM220.4,383.0h1.6v1.6h-1.6zM203.9,394.7h1.6v1.6h-1.6zM212.2,385.9h1.6v1.6h-1.6zM195.6,398.5h1.6v1.6h-1.6zM205.6,387.8h1.6v1.6h-1.6zM217.7,381.0h1.6v1.6h-1.6zM205.9,390.4h1.6v1.6h-1.6zM203.0,391.0h1.6v1.6h-1.6zM209.5,389.6h1.6v1.6h-1.6zM205.7,391.3h1.6v1.6h-1.6zM202.0,396.3h1.6v1.6h-1.6zM204.9,393.0h1.6v1.6h-1.6zM202.8,392.1h1.6v1.6h-1.6zM207.6,385.8h1.6v1.6h-1.6zM221.5,378.7h1.6v1.6h-1.6zM206.9,388.1h1.6v1.6h-1.6zM219.3,385.4h1.6v1.6h-1.6zM207.8,385.1h1.6v1.6h-1.6zM206.9,392.7h1.6v1.6h-1.6zM203.8,389.0h1.6v1.6h-1.6zM200.9,392.8h1.6v1.6h-1.6zM207.5,387.9h1.6v1.6h-1.6zM213.3,395.1h1.6v1.6h-1.6zM216.1,379.5h1.6v1.6h-1.6zM210.5,388.0h1.6v1.6h-1.6zM209.5,392.1h1.6v1.6h-1.6zM206.2,390.0h1.6v1.6h-1.6zM206.3,390.7h1.6v1.6h-1.6zM216.6,385.4h1.6v1.6h-1.6zM200.7,394.1h1.6v1.6h-1.6zM205.7,394.4h1.6v1.6h-1.6zM211.2,390.2h1.6v1.6h-1.6zM204.9,385.6h1.6v1.6h-1.6zM211.3,387.8h1.6v1.6h-1.6zM209.0,384.4h1.6v1.6h-1.6zM207.8,387.5h1.6v1.6h-1.6zM205.5,393.0h1.6v1.6h-1.6zM208.8,385.9h1.6v1.6h-1.6zM195.2,391.4h1.6v1.6h-1.6zM207.4,394.1h1.6v1.6h-1.6zM204.4,384.8h1.6v1.6h-1.6zM204.7,393.9h1.6v1.6h-1.6zM219.3,384.6h1.6v1.6h-1.6zM210.8,388.1h1.6v1.6h-1.6zM202.1,392.9h1.6v1.6h-1.6zM205.4,389.1h1.6v1.6h-1.6zM208.2,388.2h1.6v1.6h-1.6zM212.7,390.9h1.6v1.6h-1.6zM213.1,387.0h1.6v1.6h-1.6zM204.6,387.1h1.6v1.6h-1.6zM208.8,390.9h1.6v1.6h-1.6zM205.3,396.2h1.6v1.6h-1.6zM207.4,391.5h1.6v1.6h-1.6zM204.6,388.1h1.6v1.6h-1.6zM217.5,378.0h1.6v1.6h-1.6zM212.4,384.2h1.6v1.6h-1.6zM208.6,386.4h1.6v1.6h-1.6zM207.9,393.0h1.6v1.6h-1.6zM217.3,379.2h1.6v1.6h-1.6zM210.2,391.2h1.6v1.6h-1.6zM206.4,393.5h1.6v1.6h-1.6zM205.4,393.9h1.6v1.6h-1.6zM212.9,390.0h1.6v1.6h-1.6zM208.4,385.2h1.6v1.6h-1.6zM210.1,384.1h1.6v1.6h-1.6zM215.0,389.3h1.6v1.6h-1.6zM210.7,385.6h1.6v1.6h-1.6zM215.1,384.6h1.6v1.6h-1.6zM201.3,393.9h1.6v1.6h-1.6zM215.5,382.6h1.6v1.6h-1.6zM208.6,388.1h1.6v1.6h-1.6zM198.7,395.4h1.6v1.6h-1.6zM210.7,388.2h1.6v1.6h-1.6zM204.0,385.6h1.6v1.6h-1.6zM216.2,385.6h1.6v1.6h-1.6zM216.1,387.7h1.6v1.6h-1.6zM205.1,389.9h1.6v1.6h-1.6zM213.0,391.5h1.6v1.6h-1.6zM199.2,396.0h1.6v1.6h-1.6zM205.7,393.5h1.6v1.6h-1.6zM215.7,382.4h1.6v1.6h-1.6zM202.0,394.7h1.6v1.6h-1.6zM204.4,387.3h1.6v1.6h-1.6zM212.3,384.4h1.6v1.6h-1.6zM209.9,383.6h1.6v1.6h-1.6zM211.9,381.6h1.6v1.6h-1.6zM211.0,381.0h1.6v1.6h-1.6zM215.2,382.6h1.6v1.6h-1.6zM199.9,395.5h1.6v1.6h-1.6zM208.6,385.8h1.6v1.6h-1.6zM206.3,392.0h1.6v1.6h-1.6zM202.4,383.6h1.6v1.6h-1.6zM207.0,392.0h1.6v1.6h-1.6zM211.8,390.1h1.6v1.6h-1.6zM209.2,397.6h1.6v1.6h-1.6zM213.3,386.5h1.6v1.6h-1.6zM215.9,386.7h1.6v1.6h-1.6zM208.0,387.6h1.6v1.6h-1.6zM214.6,385.8h1.6v1.6h-1.6zM196.6,395.1h1.6v1.6h-1.6zM211.2,387.5h1.6v1.6h-1.6zM211.1,389.5h1.6v1.6h-1.6zM212.0,392.0h1.6v1.6h-1.6zM204.7,391.0h1.6v1.6h-1.6zM211.5,389.5h1.6v1.6h-1.6zM215.2,389.1h1.6v1.6h-1.6zM208.0,393.8h1.6v1.6h-1.6zM209.2,385.1h1.6v1.6h-1.6zM211.3,394.3h1.6v1.6h-1.6zM211.9,385.0h1.6v1.6h-1.6zM194.6,398.0h1.6v1.6h-1.6zM204.9,392.5h1.6v1.6h-1.6zM222.0,381.0h1.6v1.6h-1.6zM208.6,386.0h1.6v1.6h-1.6zM201.9,393.9h1.6v1.6h-1.6zM211.1,397.6h1.6v1.6h-1.6zM205.3,389.7h1.6v1.6h-1.6zM214.6,384.6h1.6v1.6h-1.6zM204.2,397.3h1.6v1.6h-1.6zM204.6,387.8h1.6v1.6h-1.6zM211.0,389.0h1.6v1.6h-1.6zM207.9,392.2h1.6v1.6h-1.6zM211.3,383.9h1.6v1.6h-1.6zM193.6,393.1h1.6v1.6h-1.6zM209.9,392.4h1.6v1.6h-1.6zM216.2,387.9h1.6v1.6h-1.6zM218.3,381.4h1.6v1.6h-1.6zM211.5,381.6h1.6v1.6h-1.6zM212.8,387.2h1.6v1.6h-1.6zM207.3,388.8h1.6v1.6h-1.6zM202.8,394.4h1.6v1.6h-1.6zM214.6,383.1h1.6v1.6h-1.6zM210.2,385.6h1.6v1.6h-1.6zM208.1,386.1h1.6v1.6h-1.6zM210.1,387.2h1.6v1.6h-1.6zM209.1,386.7h1.6v1.6h-1.6zM201.7,393.6h1.6v1.6h-1.6zM216.7,388.2h1.6v1.6h-1.6zM208.1,392.4h1.6v1.6h-1.6zM213.2,386.9h1.6v1.6h-1.6zM200.8,396.6h1.6v1.6h-1.6zM205.4,395.9h1.6v1.6h-1.6zM213.7,387.2h1.6v1.6h-1.6zM196.1,401.4h1.6v1.6h-1.6zM210.0,383.6h1.6v1.6h-1.6zM213.8,385.3h1.6v1.6h-1.6zM206.3,388.6h1.6v1.6h-1.6zM202.4,392.7h1.6v1.6h-1.6zM225.2,376.5h1.6v1.6h-1.6zM208.5,387.0h1.6v1.6h-1.6zM204.3,390.8h1.6v1.6h-1.6zM205.3,394.9h1.6v1.6h-1.6zM208.5,392.3h1.6v1.6h-1.6zM204.0,396.2h1.6v1.6h-1.6zM209.5,390.8h1.6v1.6h-1.6zM206.4,387.9h1.6v1.6h-1.6zM214.2,383.2h1.6v1.6h-1.6zM206.2,388.1h1.6v1.6h-1.6zM208.9,387.6h1.6v1.6h-1.6zM210.6,388.8h1.6v1.6h-1.6zM202.5,389.3h1.6v1.6h-1.6zM212.3,389.4h1.6v1.6h-1.6zM210.2,383.9h1.6v1.6h-1.6zM212.4,387.5h1.6v1.6h-1.6zM210.7,389.0h1.6v1.6h-1.6zM207.2,391.1h1.6v1.6h-1.6zM212.5,384.3h1.6v1.6h-1.6zM200.7,395.2h1.6v1.6h-1.6zM206.4,384.6h1.6v1.6h-1.6zM205.9,393.4h1.6v1.6h-1.6zM207.9,390.1h1.6v1.6h-1.6zM203.4,396.6h1.6v1.6h-1.6zM217.4,381.4h1.6v1.6h-1.6zM202.7,390.0h1.6v1.6h-1.6zM213.4,385.7h1.6v1.6h-1.6zM206.4,395.2h1.6v1.6h-1.6zM213.6,387.3h1.6v1.6h-1.6zM199.0,396.6h1.6v1.6h-1.6zM209.7,384.1h1.6v1.6h-1.6zM215.8,388.3h1.6v1.6h-1.6zM212.7,383.4h1.6v1.6h-1.6zM206.4,394.3h1.6v1.6h-1.6zM215.8,387.6h1.6v1.6h-1.6zM214.7,384.0h1.6v1.6h-1.6zM203.2,387.2h1.6v1.6h-1.6zM216.5,390.7h1.6v1.6h-1.6zM205.2,390.3h1.6v1.6h-1.6zM212.6,387.3h1.6v1.6h-1.6zM200.0,393.7h1.6v1.6h-1.6zM206.1,398.2h1.6v1.6h-1.6zM206.2,394.2h1.6v1.6h-1.6zM221.9,385.1h1.6v1.6h-1.6zM218.8,386.6h1.6v1.6h-1.6zM201.4,393.9h1.6v1.6h-1.6zM204.2,391.8h1.6v1.6h-1.6zM219.5,374.6h1.6v1.6h-1.6zM209.4,384.3h1.6v1.6h-1.6zM217.8,386.3h1.6v1.6h-1.6zM208.5,401.9h1.6v1.6h-1.6zM210.2,396.0h1.6v1.6h-1.6zM206.5,387.3h1.6v1.6h-1.6zM203.2,392.2h1.6v1.6h-1.6zM210.4,388.7h1.6v1.6h-1.6zM221.0,379.5h1.6v1.6h-1.6zM200.9,390.1h1.6v1.6h-1.6zM196.8,388.6h1.6v1.6h-1.6zM202.1,399.2h1.6v1.6h-1.6zM205.9,390.0h1.6v1.6h-1.6zM211.3,393.8h1.6v1.6h-1.6zM212.2,391.4h1.6v1.6h-1.6zM201.6,392.4h1.6v1.6h-1.6zM200.6,394.1h1.6v1.6h-1.6zM199.5,393.2h1.6v1.6h-1.6zM204.2,390.9h1.6v1.6h-1.6zM202.9,390.2h1.6v1.6h-1.6zM213.7,383.7h1.6v1.6h-1.6zM199.9,396.4h1.6v1.6h-1.6zM195.8,391.5h1.6v1.6h-1.6zM201.8,383.7h1.6v1.6h-1.6zM185.6,406.7h1.6v1.6h-1.6zM208.1,379.4h1.6v1.6h-1.6zM201.7,397.4h1.6v1.6h-1.6zM190.4,396.4h1.6v1.6h-1.6zM197.5,395.6h1.6v1.6h-1.6zM195.5,403.6h1.6v1.6h-1.6zM205.9,392.9h1.6v1.6h-1.6zM197.8,383.7h1.6v1.6h-1.6zM201.2,386.2h1.6v1.6h-1.6zM203.7,387.4h1.6v1.6h-1.6zM203.3,391.6h1.6v1.6h-1.6zM213.3,390.7h1.6v1.6h-1.6zM199.3,395.5h1.6v1.6h-1.6zM217.0,386.4h1.6v1.6h-1.6zM200.8,393.8h1.6v1.6h-1.6zM206.4,396.5h1.6v1.6h-1.6zM207.3,392.4h1.6v1.6h-1.6zM216.7,375.3h1.6v1.6h-1.6zM194.4,388.4h1.6v1.6h-1.6zM197.9,401.7h1.6v1.6h-1.6zM212.5,396.4h1.6v1.6h-1.6zM190.5,396.3h1.6v1.6h-1.6zM218.4,388.7h1.6v1.6h-1.6zM214.3,390.6h1.6v1.6h-1.6zM206.2,390.8h1.6v1.6h-1.6zM208.6,394.3h1.6v1.6h-1.6zM205.8,393.1h1.6v1.6h-1.6zM212.4,379.8h1.6v1.6h-1.6zM202.6,396.7h1.6v1.6h-1.6zM203.8,391.5h1.6v1.6h-1.6zM221.0,383.2h1.6v1.6h-1.6zM206.3,397.4h1.6v1.6h-1.6zM219.5,375.0h1.6v1.6h-1.6zM201.9,394.5h1.6v1.6h-1.6zM207.9,402.8h1.6v1.6h-1.6zM208.3,387.0h1.6v1.6h-1.6zM207.0,385.5h1.6v1.6h-1.6zM202.3,394.2h1.6v1.6h-1.6zM215.4,370.9h1.6v1.6h-1.6zM212.6,394.7h1.6v1.6h-1.6zM216.3,395.6h1.6v1.6h-1.6zM209.4,389.6h1.6v1.6h-1.6zM202.7,388.1h1.6v1.6h-1.6zM213.5,378.7h1.6v1.6h-1.6zM203.7,389.4h1.6v1.6h-1.6zM194.5,385.4h1.6v1.6h-1.6zM203.9,393.3h1.6v1.6h-1.6zM209.3,393.8h1.6v1.6h-1.6zM203.1,389.1h1.6v1.6h-1.6zM209.9,392.4h1.6v1.6h-1.6zM195.7,388.8h1.6v1.6h-1.6zM202.2,400.0h1.6v1.6h-1.6zM210.1,382.8h1.6v1.6h-1.6zM209.1,394.0h1.6v1.6h-1.6zM212.9,382.3h1.6v1.6h-1.6zM208.4,397.9h1.6v1.6h-1.6zM226.2,386.4h1.6v1.6h-1.6zM199.7,398.0h1.6v1.6h-1.6zM203.9,392.1h1.6v1.6h-1.6zM200.3,392.0h1.6v1.6h-1.6zM211.0,398.5h1.6v1.6h-1.6zM211.8,389.6h1.6v1.6h-1.6zM204.1,387.8h1.6v1.6h-1.6zM208.0,397.1h1.6v1.6h-1.6zM217.0,395.4h1.6v1.6h-1.6zM207.7,389.7h1.6v1.6h-1.6zM196.4,400.0h1.6v1.6h-1.6zM198.9,405.1h1.6v1.6h-1.6zM201.8,393.8h1.6v1.6h-1.6zM157.5,386.9h1.6v1.6h-1.6zM161.1,392.1h1.6v1.6h-1.6zM171.1,384.7h1.6v1.6h-1.6zM152.6,388.3h1.6v1.6h-1.6zM164.9,384.9h1.6v1.6h-1.6zM174.0,387.9h1.6v1.6h-1.6zM169.9,386.6h1.6v1.6h-1.6zM164.2,387.0h1.6v1.6h-1.6zM155.4,390.5h1.6v1.6h-1.6zM172.4,383.0h1.6v1.6h-1.6zM169.9,392.2h1.6v1.6h-1.6zM171.0,392.6h1.6v1.6h-1.6zM166.7,388.5h1.6v1.6h-1.6zM158.0,385.6h1.6v1.6h-1.6zM153.5,385.6h1.6v1.6h-1.6zM171.1,390.2h1.6v1.6h-1.6zM178.9,388.9h1.6v1.6h-1.6zM160.6,389.9h1.6v1.6h-1.6zM167.8,394.2h1.6v1.6h-1.6zM185.6,391.6h1.6v1.6h-1.6zM159.3,386.8h1.6v1.6h-1.6zM170.6,386.2h1.6v1.6h-1.6zM173.5,390.7h1.6v1.6h-1.6zM176.1,389.2h1.6v1.6h-1.6zM161.5,385.8h1.6v1.6h-1.6zM168.0,392.7h1.6v1.6h-1.6zM182.4,391.6h1.6v1.6h-1.6zM172.1,390.7h1.6v1.6h-1.6zM176.0,392.6h1.6v1.6h-1.6zM176.3,383.6h1.6v1.6h-1.6zM177.1,389.7h1.6v1.6h-1.6zM165.1,390.2h1.6v1.6h-1.6zM171.5,388.3h1.6v1.6h-1.6zM154.6,388.9h1.6v1.6h-1.6zM173.7,388.3h1.6v1.6h-1.6zM155.5,390.0h1.6v1.6h-1.6zM175.1,389.1h1.6v1.6h-1.6zM172.6,387.4h1.6v1.6h-1.6zM163.4,390.2h1.6v1.6h-1.6zM166.0,389.1h1.6v1.6h-1.6zM196.7,390.8h1.6v1.6h-1.6zM170.2,383.3h1.6v1.6h-1.6zM169.8,390.9h1.6v1.6h-1.6zM163.0,387.7h1.6v1.6h-1.6zM149.8,390.3h1.6v1.6h-1.6zM163.9,390.7h1.6v1.6h-1.6zM180.6,388.0h1.6v1.6h-1.6zM177.4,389.3h1.6v1.6h-1.6zM167.3,387.6h1.6v1.6h-1.6zM161.8,392.6h1.6v1.6h-1.6zM176.5,385.3h1.6v1.6h-1.6zM176.2,386.2h1.6v1.6h-1.6zM156.2,392.3h1.6v1.6h-1.6zM158.1,392.3h1.6v1.6h-1.6zM170.7,391.4h1.6v1.6h-1.6zM173.3,392.2h1.6v1.6h-1.6zM172.0,390.4h1.6v1.6h-1.6zM171.1,392.0h1.6v1.6h-1.6zM165.7,391.8h1.6v1.6h-1.6zM181.8,388.3h1.6v1.6h-1.6zM172.7,386.9h1.6v1.6h-1.6zM166.5,389.3h1.6v1.6h-1.6zM166.1,385.7h1.6v1.6h-1.6zM168.7,389.1h1.6v1.6h-1.6zM171.7,390.8h1.6v1.6h-1.6zM153.9,393.0h1.6v1.6h-1.6zM167.5,386.0h1.6v1.6h-1.6zM165.8,389.9h1.6v1.6h-1.6zM176.4,387.3h1.6v1.6h-1.6zM170.3,383.4h1.6v1.6h-1.6zM170.4,388.1h1.6v1.6h-1.6zM165.3,391.3h1.6v1.6h-1.6zM184.2,391.8h1.6v1.6h-1.6zM162.4,393.4h1.6v1.6h-1.6zM166.2,388.4h1.6v1.6h-1.6zM164.1,390.0h1.6v1.6h-1.6zM173.7,389.0h1.6v1.6h-1.6zM167.2,388.0h1.6v1.6h-1.6zM165.6,391.6h1.6v1.6h-1.6zM164.6,388.0h1.6v1.6h-1.6zM179.5,387.0h1.6v1.6h-1.6zM179.4,384.5h1.6v1.6h-1.6zM183.9,391.3h1.6v1.6h-1.6zM178.9,394.8h1.6v1.6h-1.6zM175.3,391.4h1.6v1.6h-1.6zM184.3,387.7h1.6v1.6h-1.6zM179.3,392.5h1.6v1.6h-1.6zM181.4,390.5h1.6v1.6h-1.6zM190.8,390.2h1.6v1.6h-1.6zM169.3,387.0h1.6v1.6h-1.6zM186.8,389.1h1.6v1.6h-1.6zM173.5,382.8h1.6v1.6h-1.6zM183.3,394.6h1.6v1.6h-1.6zM172.3,382.2h1.6v1.6h-1.6zM184.5,387.7h1.6v1.6h-1.6zM179.0,388.4h1.6v1.6h-1.6zM174.7,391.0h1.6v1.6h-1.6zM187.4,390.7h1.6v1.6h-1.6zM177.1,393.0h1.6v1.6h-1.6zM180.2,391.5h1.6v1.6h-1.6zM174.5,391.7h1.6v1.6h-1.6zM186.2,393.9h1.6v1.6h-1.6zM181.2,391.0h1.6v1.6h-1.6zM177.0,392.5h1.6v1.6h-1.6zM186.4,393.1h1.6v1.6h-1.6zM178.3,385.4h1.6v1.6h-1.6zM180.5,388.8h1.6v1.6h-1.6zM175.8,391.5h1.6v1.6h-1.6zM186.3,397.4h1.6v1.6h-1.6zM188.1,397.4h1.6v1.6h-1.6zM165.4,391.5h1.6v1.6h-1.6zM172.2,399.1h1.6v1.6h-1.6zM186.0,395.8h1.6v1.6h-1.6zM187.0,390.1h1.6v1.6h-1.6zM174.8,403.9h1.6v1.6h-1.6zM180.8,401.2h1.6v1.6h-1.6zM155.5,385.1h1.6v1.6h-1.6zM166.6,401.0h1.6v1.6h-1.6zM193.7,391.3h1.6v1.6h-1.6zM165.3,389.0h1.6v1.6h-1.6zM166.3,398.3h1.6v1.6h-1.6zM172.6,406.1h1.6v1.6h-1.6zM183.9,391.0h1.6v1.6h-1.6zM178.6,394.1h1.6v1.6h-1.6zM184.6,400.4h1.6v1.6h-1.6zM172.3,400.3h1.6v1.6h-1.6zM182.2,394.5h1.6v1.6h-1.6zM178.8,399.0h1.6v1.6h-1.6zM172.6,391.0h1.6v1.6h-1.6zM189.8,395.0h1.6v1.6h-1.6zM169.6,397.7h1.6v1.6h-1.6zM160.1,395.3h1.6v1.6h-1.6zM161.3,392.5h1.6v1.6h-1.6zM156.7,390.8h1.6v1.6h-1.6zM185.7,393.9h1.6v1.6h-1.6zM162.9,405.3h1.6v1.6h-1.6zM169.2,403.8h1.6v1.6h-1.6zM170.4,386.4h1.6v1.6h-1.6zM196.0,392.5h1.6v1.6h-1.6zM184.3,402.0h1.6v1.6h-1.6zM161.9,395.5h1.6v1.6h-1.6zM169.8,398.6h1.6v1.6h-1.6zM175.9,387.6h1.6v1.6h-1.6zM176.7,399.5h1.6v1.6h-1.6zM172.9,398.3h1.6v1.6h-1.6zM170.3,394.7h1.6v1.6h-1.6zM179.8,395.9h1.6v1.6h-1.6zM189.8,400.6h1.6v1.6h-1.6zM185.2,399.3h1.6v1.6h-1.6zM177.7,388.2h1.6v1.6h-1.6zM187.5,405.3h1.6v1.6h-1.6zM178.5,393.5h1.6v1.6h-1.6zM175.7,402.1h1.6v1.6h-1.6zM170.3,413.3h1.6v1.6h-1.6zM166.2,417.0h1.6v1.6h-1.6zM165.5,416.5h1.6v1.6h-1.6zM165.3,432.6h1.6v1.6h-1.6zM176.4,405.8h1.6v1.6h-1.6zM158.7,423.2h1.6v1.6h-1.6zM162.2,415.1h1.6v1.6h-1.6zM174.7,406.7h1.6v1.6h-1.6zM179.2,419.7h1.6v1.6h-1.6zM164.5,418.7h1.6v1.6h-1.6zM171.1,420.4h1.6v1.6h-1.6zM145.0,425.3h1.6v1.6h-1.6zM175.3,416.4h1.6v1.6h-1.6zM163.0,417.2h1.6v1.6h-1.6zM160.7,420.0h1.6v1.6h-1.6zM195.3,397.8h1.6v1.6h-1.6zM187.2,413.8h1.6v1.6h-1.6zM172.9,419.8h1.6v1.6h-1.6zM170.7,430.4h1.6v1.6h-1.6zM175.3,417.0h1.6v1.6h-1.6zM169.4,421.7h1.6v1.6h-1.6zM157.5,424.8h1.6v1.6h-1.6zM165.4,426.7h1.6v1.6h-1.6zM171.1,407.0h1.6v1.6h-1.6zM170.6,426.3h1.6v1.6h-1.6zM153.5,421.2h1.6v1.6h-1.6zM180.0,413.7h1.6v1.6h-1.6zM162.0,416.3h1.6v1.6h-1.6zM170.3,416.2h1.6v1.6h-1.6zM173.5,421.0h1.6v1.6h-1.6zM176.4,414.4h1.6v1.6h-1.6zM164.8,423.1h1.6v1.6h-1.6zM169.6,421.4h1.6v1.6h-1.6zM164.0,421.8h1.6v1.6h-1.6zM162.4,420.3h1.6v1.6h-1.6zM175.0,425.1h1.6v1.6h-1.6zM166.2,426.0h1.6v1.6h-1.6zM174.0,418.6h1.6v1.6h-1.6zM175.5,413.3h1.6v1.6h-1.6zM176.8,418.4h1.6v1.6h-1.6zM181.8,426.7h1.6v1.6h-1.6zM159.4,426.5h1.6v1.6h-1.6zM171.0,413.0h1.6v1.6h-1.6zM183.7,415.6h1.6v1.6h-1.6zM158.5,418.3h1.6v1.6h-1.6zM172.5,434.6h1.6v1.6h-1.6zM185.4,395.1h1.6v1.6h-1.6zM153.2,433.7h1.6v1.6h-1.6zM167.2,417.3h1.6v1.6h-1.6zM176.6,417.1h1.6v1.6h-1.6zM173.8,419.7h1.6v1.6h-1.6zM162.6,432.9h1.6v1.6h-1.6zM168.6,428.4h1.6v1.6h-1.6zM177.3,416.3h1.6v1.6h-1.6zM171.4,419.0h1.6v1.6h-1.6zM150.2,428.7h1.6v1.6h-1.6zM170.0,409.3h1.6v1.6h-1.6zM157.8,434.0h1.6v1.6h-1.6zM174.1,407.4h1.6v1.6h-1.6zM174.7,417.1h1.6v1.6h-1.6zM179.3,412.8h1.6v1.6h-1.6zM165.7,417.4h1.6v1.6h-1.6zM171.6,418.3h1.6v1.6h-1.6zM162.3,421.9h1.6v1.6h-1.6zM164.1,427.5h1.6v1.6h-1.6zM155.0,417.8h1.6v1.6h-1.6zM163.2,431.1h1.6v1.6h-1.6zM166.7,426.2h1.6v1.6h-1.6zM176.3,413.2h1.6v1.6h-1.6zM179.3,418.3h1.6v1.6h-1.6zM167.6,416.6h1.6v1.6h-1.6zM165.8,413.7h1.6v1.6h-1.6zM165.6,418.5h1.6v1.6h-1.6zM175.6,419.3h1.6v1.6h-1.6zM197.4,415.1h1.6v1.6h-1.6zM209.5,414.8h1.6v1.6h-1.6zM197.0,413.8h1.6v1.6h-1.6zM187.1,407.9h1.6v1.6h-1.6zM204.3,420.5h1.6v1.6h-1.6zM196.4,417.3h1.6v1.6h-1.6zM215.4,422.4h1.6v1.6h-1.6zM186.5,413.7h1.6v1.6h-1.6zM202.5,416.7h1.6v1.6h-1.6zM201.3,410.7h1.6v1.6h-1.6zM199.6,417.8h1.6v1.6h-1.6zM207.5,413.1h1.6v1.6h-1.6zM203.8,416.4h1.6v1.6h-1.6zM205.6,413.6h1.6v1.6h-1.6zM198.4,409.7h1.6v1.6h-1.6zM199.7,410.6h1.6v1.6h-1.6zM193.0,406.2h1.6v1.6h-1.6zM208.3,410.3h1.6v1.6h-1.6zM193.8,411.2h1.6v1.6h-1.6zM210.3,419.2h1.6v1.6h-1.6zM200.1,409.0h1.6v1.6h-1.6zM199.3,409.2h1.6v1.6h-1.6zM198.2,413.9h1.6v1.6h-1.6zM195.8,409.0h1.6v1.6h-1.6zM200.4,412.6h1.6v1.6h-1.6zM197.7,409.3h1.6v1.6h-1.6zM195.4,409.0h1.6v1.6h-1.6zM205.5,412.9h1.6v1.6h-1.6zM181.9,411.1h1.6v1.6h-1.6zM202.2,410.0h1.6v1.6h-1.6zM202.5,402.4h1.6v1.6h-1.6zM190.7,414.9h1.6v1.6h-1.6zM214.0,423.2h1.6v1.6h-1.6zM197.3,412.2h1.6v1.6h-1.6zM207.8,409.8h1.6v1.6h-1.6zM213.6,412.8h1.6v1.6h-1.6zM205.0,409.5h1.6v1.6h-1.6zM204.3,413.4h1.6v1.6h-1.6zM209.7,410.5h1.6v1.6h-1.6zM200.7,419.2h1.6v1.6h-1.6zM194.2,412.7h1.6v1.6h-1.6zM205.1,411.9h1.6v1.6h-1.6zM199.3,417.5h1.6v1.6h-1.6zM208.9,416.4h1.6v1.6h-1.6zM204.5,409.5h1.6v1.6h-1.6zM201.3,419.3h1.6v1.6h-1.6zM209.6,409.7h1.6v1.6h-1.6zM189.3,408.1h1.6v1.6h-1.6zM203.4,411.3h1.6v1.6h-1.6zM199.8,413.8h1.6v1.6h-1.6zM207.6,414.9h1.6v1.6h-1.6zM211.0,409.7h1.6v1.6h-1.6zM204.7,415.1h1.6v1.6h-1.6zM191.6,415.4h1.6v1.6h-1.6zM192.8,406.0h1.6v1.6h-1.6zM218.1,420.9h1.6v1.6h-1.6zM203.5,418.1h1.6v1.6h-1.6zM210.1,410.6h1.6v1.6h-1.6zM204.1,418.4h1.6v1.6h-1.6zM200.9,413.0h1.6v1.6h-1.6zM198.5,414.9h1.6v1.6h-1.6zM198.9,410.3h1.6v1.6h-1.6zM194.8,408.2h1.6v1.6h-1.6zM203.1,414.9h1.6v1.6h-1.6zM200.3,408.9h1.6v1.6h-1.6zM203.9,414.7h1.6v1.6h-1.6zM210.5,412.9h1.6v1.6h-1.6zM199.0,414.2h1.6v1.6h-1.6zM211.8,414.8h1.6v1.6h-1.6zM202.1,409.7h1.6v1.6h-1.6zM208.1,432.7h1.6v1.6h-1.6zM211.1,433.7h1.6v1.6h-1.6zM204.9,432.1h1.6v1.6h-1.6zM206.7,430.6h1.6v1.6h-1.6zM203.0,426.4h1.6v1.6h-1.6zM206.8,434.7h1.6v1.6h-1.6zM209.3,434.9h1.6v1.6h-1.6zM207.9,438.9h1.6v1.6h-1.6zM207.9,438.5h1.6v1.6h-1.6zM207.8,421.1h1.6v1.6h-1.6zM211.3,424.6h1.6v1.6h-1.6zM208.9,418.9h1.6v1.6h-1.6zM208.1,427.7h1.6v1.6h-1.6zM207.2,429.4h1.6v1.6h-1.6zM203.2,432.4h1.6v1.6h-1.6zM208.0,435.9h1.6v1.6h-1.6zM217.0,494.2h1.6v1.6h-1.6zM211.0,506.1h1.6v1.6h-1.6zM198.1,503.9h1.6v1.6h-1.6zM216.6,506.1h1.6v1.6h-1.6zM216.4,493.8h1.6v1.6h-1.6zM196.3,506.9h1.6v1.6h-1.6zM213.0,498.4h1.6v1.6h-1.6zM213.9,500.5h1.6v1.6h-1.6zM206.3,506.3h1.6v1.6h-1.6zM200.9,503.0h1.6v1.6h-1.6zM218.5,499.2h1.6v1.6h-1.6zM206.8,504.9h1.6v1.6h-1.6zM216.8,494.2h1.6v1.6h-1.6zM208.5,502.7h1.6v1.6h-1.6zM205.3,503.7h1.6v1.6h-1.6zM214.6,506.4h1.6v1.6h-1.6zM198.0,507.6h1.6v1.6h-1.6zM212.8,506.8h1.6v1.6h-1.6zM208.6,505.8h1.6v1.6h-1.6zM213.9,496.3h1.6v1.6h-1.6zM204.9,501.2h1.6v1.6h-1.6zM218.0,498.0h1.6v1.6h-1.6zM217.5,504.1h1.6v1.6h-1.6zM220.9,492.8h1.6v1.6h-1.6zM204.9,501.9h1.6v1.6h-1.6zM206.6,504.1h1.6v1.6h-1.6zM192.6,511.4h1.6v1.6h-1.6zM206.5,501.3h1.6v1.6h-1.6zM201.3,508.8h1.6v1.6h-1.6zM211.2,498.8h1.6v1.6h-1.6zM199.7,507.2h1.6v1.6h-1.6zM210.0,498.9h1.6v1.6h-1.6zM211.3,500.4h1.6v1.6h-1.6zM217.4,499.6h1.6v1.6h-1.6zM203.9,506.5h1.6v1.6h-1.6zM198.8,504.8h1.6v1.6h-1.6zM211.2,496.5h1.6v1.6h-1.6zM200.6,508.2h1.6v1.6h-1.6zM202.8,501.3h1.6v1.6h-1.6zM208.0,499.3h1.6v1.6h-1.6zM210.4,501.1h1.6v1.6h-1.6zM194.0,508.7h1.6v1.6h-1.6zM211.7,502.6h1.6v1.6h-1.6zM219.4,503.6h1.6v1.6h-1.6zM211.2,506.5h1.6v1.6h-1.6zM207.8,504.6h1.6v1.6h-1.6zM204.3,506.1h1.6v1.6h-1.6zM213.0,494.0h1.6v1.6h-1.6zM208.6,494.9h1.6v1.6h-1.6zM201.1,501.7h1.6v1.6h-1.6zM211.0,502.1h1.6v1.6h-1.6zM216.1,499.3h1.6v1.6h-1.6zM217.1,494.4h1.6v1.6h-1.6zM212.5,501.4h1.6v1.6h-1.6zM210.5,492.7h1.6v1.6h-1.6zM204.7,503.2h1.6v1.6h-1.6zM215.5,505.0h1.6v1.6h-1.6zM211.9,496.3h1.6v1.6h-1.6zM212.2,498.9h1.6v1.6h-1.6zM212.8,507.1h1.6v1.6h-1.6zM205.7,505.1h1.6v1.6h-1.6zM213.8,500.4h1.6v1.6h-1.6zM209.8,503.8h1.6v1.6h-1.6zM207.1,506.7h1.6v1.6h-1.6zM215.7,501.7h1.6v1.6h-1.6zM211.2,507.8h1.6v1.6h-1.6zM214.4,494.7h1.6v1.6h-1.6zM205.6,506.3h1.6v1.6h-1.6zM215.8,494.6h1.6v1.6h-1.6zM207.1,506.5h1.6v1.6h-1.6zM206.6,500.8h1.6v1.6h-1.6zM218.4,490.2h1.6v1.6h-1.6zM209.2,503.4h1.6v1.6h-1.6zM210.3,501.5h1.6v1.6h-1.6zM217.8,500.6h1.6v1.6h-1.6zM216.1,492.2h1.6v1.6h-1.6zM197.5,503.3h1.6v1.6h-1.6zM206.7,503.3h1.6v1.6h-1.6zM205.6,504.1h1.6v1.6h-1.6zM216.7,503.0h1.6v1.6h-1.6zM213.7,498.1h1.6v1.6h-1.6zM203.1,500.4h1.6v1.6h-1.6zM213.7,508.1h1.6v1.6h-1.6zM207.3,504.7h1.6v1.6h-1.6zM203.1,506.5h1.6v1.6h-1.6zM218.2,494.0h1.6v1.6h-1.6zM213.3,494.1h1.6v1.6h-1.6zM212.2,496.3h1.6v1.6h-1.6zM219.2,489.3h1.6v1.6h-1.6zM207.2,507.3h1.6v1.6h-1.6zM199.5,505.4h1.6v1.6h-1.6zM210.3,496.9h1.6v1.6h-1.6zM210.5,496.4h1.6v1.6h-1.6zM205.9,498.3h1.6v1.6h-1.6zM202.6,508.6h1.6v1.6h-1.6zM222.0,492.6h1.6v1.6h-1.6zM195.4,505.4h1.6v1.6h-1.6zM201.2,506.8h1.6v1.6h-1.6zM212.6,499.7h1.6v1.6h-1.6zM207.0,498.5h1.6v1.6h-1.6zM195.6,506.1h1.6v1.6h-1.6zM201.5,504.6h1.6v1.6h-1.6zM203.1,503.4h1.6v1.6h-1.6zM197.9,503.3h1.6v1.6h-1.6zM211.6,501.3h1.6v1.6h-1.6zM211.9,502.2h1.6v1.6h-1.6zM214.3,503.7h1.6v1.6h-1.6zM199.3,506.4h1.6v1.6h-1.6zM213.7,505.1h1.6v1.6h-1.6zM211.3,505.2h1.6v1.6h-1.6zM201.3,505.7h1.6v1.6h-1.6zM207.3,500.9h1.6v1.6h-1.6zM211.6,507.0h1.6v1.6h-1.6zM208.2,497.0h1.6v1.6h-1.6zM192.6,507.5h1.6v1.6h-1.6zM201.0,506.0h1.6v1.6h-1.6zM207.5,499.0h1.6v1.6h-1.6zM212.8,497.3h1.6v1.6h-1.6zM204.4,500.2h1.6v1.6h-1.6zM221.4,490.6h1.6v1.6h-1.6zM214.1,496.0h1.6v1.6h-1.6zM213.2,508.1h1.6v1.6h-1.6zM202.0,505.6h1.6v1.6h-1.6zM204.5,503.7h1.6v1.6h-1.6zM196.7,507.5h1.6v1.6h-1.6zM205.5,503.1h1.6v1.6h-1.6zM215.6,496.7h1.6v1.6h-1.6zM214.7,507.0h1.6v1.6h-1.6zM219.4,492.7h1.6v1.6h-1.6zM202.4,504.5h1.6v1.6h-1.6zM195.6,504.8h1.6v1.6h-1.6zM209.4,507.7h1.6v1.6h-1.6zM215.2,505.7h1.6v1.6h-1.6zM196.7,509.5h1.6v1.6h-1.6zM197.7,506.6h1.6v1.6h-1.6zM213.9,497.6h1.6v1.6h-1.6zM199.1,508.5h1.6v1.6h-1.6zM217.2,495.1h1.6v1.6h-1.6zM210.3,500.3h1.6v1.6h-1.6zM215.7,499.3h1.6v1.6h-1.6zM214.3,505.0h1.6v1.6h-1.6zM211.0,504.9h1.6v1.6h-1.6zM203.4,501.5h1.6v1.6h-1.6zM213.6,495.6h1.6v1.6h-1.6zM209.3,507.2h1.6v1.6h-1.6zM206.8,497.7h1.6v1.6h-1.6zM202.3,509.9h1.6v1.6h-1.6zM216.5,500.9h1.6v1.6h-1.6zM216.6,496.9h1.6v1.6h-1.6zM206.6,498.2h1.6v1.6h-1.6zM200.4,507.7h1.6v1.6h-1.6zM213.8,496.2h1.6v1.6h-1.6zM217.1,499.9h1.6v1.6h-1.6zM215.0,498.3h1.6v1.6h-1.6zM203.1,504.7h1.6v1.6h-1.6zM204.6,499.5h1.6v1.6h-1.6zM220.5,490.1h1.6v1.6h-1.6zM217.7,492.5h1.6v1.6h-1.6zM214.0,492.4h1.6v1.6h-1.6zM202.8,507.7h1.6v1.6h-1.6zM219.7,488.6h1.6v1.6h-1.6zM213.5,500.1h1.6v1.6h-1.6zM213.0,494.7h1.6v1.6h-1.6zM200.6,503.2h1.6v1.6h-1.6zM204.2,498.3h1.6v1.6h-1.6zM211.9,500.1h1.6v1.6h-1.6zM214.5,501.5h1.6v1.6h-1.6zM211.5,502.5h1.6v1.6h-1.6zM211.0,501.0h1.6v1.6h-1.6zM214.2,493.6h1.6v1.6h-1.6zM203.2,506.9h1.6v1.6h-1.6zM206.2,501.0h1.6v1.6h-1.6zM211.3,506.6h1.6v1.6h-1.6zM220.6,493.9h1.6v1.6h-1.6zM206.3,503.4h1.6v1.6h-1.6zM216.3,499.8h1.6v1.6h-1.6zM213.6,500.7h1.6v1.6h-1.6zM211.5,507.6h1.6v1.6h-1.6zM206.8,500.7h1.6v1.6h-1.6zM207.5,504.6h1.6v1.6h-1.6zM211.7,496.7h1.6v1.6h-1.6zM208.3,506.9h1.6v1.6h-1.6zM216.0,500.1h1.6v1.6h-1.6zM212.4,502.0h1.6v1.6h-1.6zM208.3,497.1h1.6v1.6h-1.6zM198.5,505.7h1.6v1.6h-1.6zM202.8,504.6h1.6v1.6h-1.6zM217.1,493.7h1.6v1.6h-1.6zM209.5,507.2h1.6v1.6h-1.6zM206.7,499.1h1.6v1.6h-1.6zM210.1,497.8h1.6v1.6h-1.6zM215.2,500.5h1.6v1.6h-1.6zM201.9,508.5h1.6v1.6h-1.6zM214.4,498.8h1.6v1.6h-1.6zM218.6,491.0h1.6v1.6h-1.6zM211.5,500.6h1.6v1.6h-1.6zM216.0,502.0h1.6v1.6h-1.6zM217.4,497.3h1.6v1.6h-1.6zM214.8,494.8h1.6v1.6h-1.6zM217.3,494.3h1.6v1.6h-1.6zM199.0,501.2h1.6v1.6h-1.6zM217.1,498.3h1.6v1.6h-1.6zM204.1,500.6h1.6v1.6h-1.6zM201.0,507.0h1.6v1.6h-1.6zM211.8,497.6h1.6v1.6h-1.6zM219.5,491.8h1.6v1.6h-1.6zM198.4,505.9h1.6v1.6h-1.6zM205.1,500.6h1.6v1.6h-1.6zM214.2,501.8h1.6v1.6h-1.6zM212.2,506.3h1.6v1.6h-1.6zM199.7,504.6h1.6v1.6h-1.6zM218.6,499.4h1.6v1.6h-1.6zM201.3,508.4h1.6v1.6h-1.6zM205.9,498.7h1.6v1.6h-1.6zM202.3,497.3h1.6v1.6h-1.6zM217.7,494.9h1.6v1.6h-1.6zM208.2,500.6h1.6v1.6h-1.6zM207.4,502.4h1.6v1.6h-1.6zM219.3,495.6h1.6v1.6h-1.6zM195.7,506.9h1.6v1.6h-1.6zM196.5,504.2h1.6v1.6h-1.6zM210.6,502.2h1.6v1.6h-1.6zM199.8,506.8h1.6v1.6h-1.6zM216.9,500.8h1.6v1.6h-1.6zM210.8,499.0h1.6v1.6h-1.6zM214.5,498.9h1.6v1.6h-1.6zM214.6,505.9h1.6v1.6h-1.6zM209.7,501.9h1.6v1.6h-1.6zM201.4,507.7h1.6v1.6h-1.6zM220.0,491.4h1.6v1.6h-1.6zM206.6,505.5h1.6v1.6h-1.6zM211.2,507.9h1.6v1.6h-1.6zM215.4,498.5h1.6v1.6h-1.6zM209.0,493.2h1.6v1.6h-1.6zM196.5,507.7h1.6v1.6h-1.6zM201.5,503.0h1.6v1.6h-1.6zM211.6,502.8h1.6v1.6h-1.6zM210.4,501.7h1.6v1.6h-1.6zM198.1,504.9h1.6v1.6h-1.6zM202.3,501.7h1.6v1.6h-1.6zM215.8,495.9h1.6v1.6h-1.6zM210.0,498.8h1.6v1.6h-1.6zM211.5,499.3h1.6v1.6h-1.6zM217.4,495.3h1.6v1.6h-1.6zM197.6,504.4h1.6v1.6h-1.6zM205.8,504.8h1.6v1.6h-1.6zM197.5,504.0h1.6v1.6h-1.6zM210.5,503.6h1.6v1.6h-1.6zM196.2,505.1h1.6v1.6h-1.6zM200.2,506.7h1.6v1.6h-1.6zM215.2,496.0h1.6v1.6h-1.6zM213.6,507.4h1.6v1.6h-1.6zM204.1,504.7h1.6v1.6h-1.6zM203.5,500.2h1.6v1.6h-1.6zM214.2,500.7h1.6v1.6h-1.6zM201.6,507.7h1.6v1.6h-1.6zM214.2,495.7h1.6v1.6h-1.6zM195.6,507.5h1.6v1.6h-1.6zM209.7,509.1h1.6v1.6h-1.6zM209.8,495.8h1.6v1.6h-1.6zM202.9,504.1h1.6v1.6h-1.6zM211.6,507.7h1.6v1.6h-1.6zM191.8,508.6h1.6v1.6h-1.6zM207.2,500.8h1.6v1.6h-1.6zM211.7,500.2h1.6v1.6h-1.6zM218.0,495.1h1.6v1.6h-1.6zM214.1,493.1h1.6v1.6h-1.6zM206.3,502.3h1.6v1.6h-1.6zM196.9,508.3h1.6v1.6h-1.6zM204.4,504.9h1.6v1.6h-1.6zM217.0,498.4h1.6v1.6h-1.6zM203.0,508.0h1.6v1.6h-1.6zM193.5,507.8h1.6v1.6h-1.6zM201.9,499.9h1.6v1.6h-1.6zM206.1,504.3h1.6v1.6h-1.6zM214.8,498.1h1.6v1.6h-1.6zM214.9,506.2h1.6v1.6h-1.6zM209.4,495.6h1.6v1.6h-1.6zM206.9,504.1h1.6v1.6h-1.6zM199.1,505.6h1.6v1.6h-1.6zM209.8,505.6h1.6v1.6h-1.6zM205.2,504.8h1.6v1.6h-1.6zM201.0,506.7h1.6v1.6h-1.6zM212.8,504.3h1.6v1.6h-1.6zM217.5,498.0h1.6v1.6h-1.6zM215.6,497.3h1.6v1.6h-1.6zM214.4,495.3h1.6v1.6h-1.6zM202.6,506.9h1.6v1.6h-1.6zM212.1,507.7h1.6v1.6h-1.6zM217.7,494.5h1.6v1.6h-1.6zM206.4,500.0h1.6v1.6h-1.6zM202.0,503.5h1.6v1.6h-1.6zM203.3,507.8h1.6v1.6h-1.6zM200.5,504.4h1.6v1.6h-1.6zM191.5,506.7h1.6v1.6h-1.6zM192.2,506.0h1.6v1.6h-1.6zM204.1,505.0h1.6v1.6h-1.6zM215.8,491.0h1.6v1.6h-1.6zM216.0,502.3h1.6v1.6h-1.6zM194.8,507.1h1.6v1.6h-1.6zM217.4,492.7h1.6v1.6h-1.6zM216.4,496.2h1.6v1.6h-1.6zM197.6,512.4h1.6v1.6h-1.6zM211.8,493.9h1.6v1.6h-1.6zM215.4,494.8h1.6v1.6h-1.6zM210.5,499.9h1.6v1.6h-1.6zM211.4,501.8h1.6v1.6h-1.6zM198.3,505.9h1.6v1.6h-1.6zM195.4,505.8h1.6v1.6h-1.6zM207.8,499.4h1.6v1.6h-1.6zM195.7,507.9h1.6v1.6h-1.6zM201.1,503.9h1.6v1.6h-1.6zM204.5,500.4h1.6v1.6h-1.6zM198.3,504.3h1.6v1.6h-1.6zM208.3,495.6h1.6v1.6h-1.6zM203.0,499.4h1.6v1.6h-1.6zM202.6,504.5h1.6v1.6h-1.6zM200.4,504.0h1.6v1.6h-1.6zM216.5,500.2h1.6v1.6h-1.6zM211.9,502.2h1.6v1.6h-1.6zM193.6,506.3h1.6v1.6h-1.6zM195.1,509.9h1.6v1.6h-1.6zM208.4,499.6h1.6v1.6h-1.6zM214.2,497.9h1.6v1.6h-1.6zM213.4,507.9h1.6v1.6h-1.6zM216.3,495.0h1.6v1.6h-1.6zM207.6,500.3h1.6v1.6h-1.6zM213.1,495.1h1.6v1.6h-1.6zM207.1,506.2h1.6v1.6h-1.6zM201.6,507.0h1.6v1.6h-1.6zM207.7,503.4h1.6v1.6h-1.6zM210.1,508.4h1.6v1.6h-1.6zM193.6,505.3h1.6v1.6h-1.6zM198.5,506.9h1.6v1.6h-1.6zM215.0,502.2h1.6v1.6h-1.6zM215.4,504.8h1.6v1.6h-1.6zM200.3,509.2h1.6v1.6h-1.6zM199.7,507.0h1.6v1.6h-1.6zM210.6,504.3h1.6v1.6h-1.6zM211.4,503.4h1.6v1.6h-1.6zM203.5,504.2h1.6v1.6h-1.6zM205.9,502.1h1.6v1.6h-1.6zM198.0,505.3h1.6v1.6h-1.6zM216.7,500.8h1.6v1.6h-1.6zM202.1,509.3h1.6v1.6h-1.6zM212.8,497.8h1.6v1.6h-1.6zM193.1,507.3h1.6v1.6h-1.6zM211.0,501.5h1.6v1.6h-1.6zM211.4,498.8h1.6v1.6h-1.6zM202.9,502.9h1.6v1.6h-1.6zM207.8,504.4h1.6v1.6h-1.6zM209.5,506.7h1.6v1.6h-1.6zM210.9,504.6h1.6v1.6h-1.6zM220.3,494.9h1.6v1.6h-1.6zM213.4,501.6h1.6v1.6h-1.6zM210.5,498.9h1.6v1.6h-1.6zM206.1,501.5h1.6v1.6h-1.6zM196.2,504.5h1.6v1.6h-1.6zM200.9,507.3h1.6v1.6h-1.6zM199.5,510.4h1.6v1.6h-1.6zM213.6,493.5h1.6v1.6h-1.6zM215.6,505.9h1.6v1.6h-1.6zM194.8,507.1h1.6v1.6h-1.6zM203.4,506.2h1.6v1.6h-1.6zM204.4,503.5h1.6v1.6h-1.6zM214.1,493.8h1.6v1.6h-1.6zM212.0,496.3h1.6v1.6h-1.6zM201.7,504.5h1.6v1.6h-1.6zM196.6,507.4h1.6v1.6h-1.6zM214.7,498.2h1.6v1.6h-1.6zM215.1,501.2h1.6v1.6h-1.6zM206.0,509.6h1.6v1.6h-1.6zM199.1,505.3h1.6v1.6h-1.6zM214.5,500.7h1.6v1.6h-1.6zM210.9,497.9h1.6v1.6h-1.6zM197.7,505.3h1.6v1.6h-1.6zM215.4,506.4h1.6v1.6h-1.6zM216.5,504.1h1.6v1.6h-1.6zM203.2,503.0h1.6v1.6h-1.6zM198.3,508.9h1.6v1.6h-1.6zM206.9,507.1h1.6v1.6h-1.6zM213.5,500.5h1.6v1.6h-1.6zM214.2,499.0h1.6v1.6h-1.6zM215.0,495.4h1.6v1.6h-1.6zM213.0,496.7h1.6v1.6h-1.6zM203.5,501.7h1.6v1.6h-1.6zM197.0,507.7h1.6v1.6h-1.6zM210.7,501.7h1.6v1.6h-1.6zM210.9,505.1h1.6v1.6h-1.6zM209.9,509.6h1.6v1.6h-1.6zM217.8,492.5h1.6v1.6h-1.6zM203.5,504.9h1.6v1.6h-1.6zM213.4,499.5h1.6v1.6h-1.6zM195.4,502.8h1.6v1.6h-1.6zM213.6,506.3h1.6v1.6h-1.6zM218.3,492.4h1.6v1.6h-1.6zM203.9,507.6h1.6v1.6h-1.6zM207.6,505.6h1.6v1.6h-1.6zM211.5,501.3h1.6v1.6h-1.6zM218.1,493.0h1.6v1.6h-1.6zM207.0,501.3h1.6v1.6h-1.6zM215.5,500.1h1.6v1.6h-1.6zM199.2,501.5h1.6v1.6h-1.6zM215.1,498.0h1.6v1.6h-1.6zM207.2,502.2h1.6v1.6h-1.6zM206.8,497.5h1.6v1.6h-1.6zM217.9,498.5h1.6v1.6h-1.6zM206.8,503.7h1.6v1.6h-1.6zM211.0,500.4h1.6v1.6h-1.6zM199.6,505.0h1.6v1.6h-1.6zM213.1,497.7h1.6v1.6h-1.6zM218.8,488.2h1.6v1.6h-1.6zM206.6,500.5h1.6v1.6h-1.6zM212.1,496.6h1.6v1.6h-1.6zM211.4,504.8h1.6v1.6h-1.6zM216.0,493.6h1.6v1.6h-1.6zM201.7,501.9h1.6v1.6h-1.6zM210.3,505.7h1.6v1.6h-1.6zM205.3,507.2h1.6v1.6h-1.6zM205.7,499.4h1.6v1.6h-1.6zM204.8,507.5h1.6v1.6h-1.6zM200.6,506.9h1.6v1.6h-1.6zM221.0,494.9h1.6v1.6h-1.6zM197.4,507.7h1.6v1.6h-1.6zM215.3,495.8h1.6v1.6h-1.6zM208.0,507.9h1.6v1.6h-1.6zM215.2,503.0h1.6v1.6h-1.6zM204.3,500.7h1.6v1.6h-1.6zM204.4,502.3h1.6v1.6h-1.6zM212.2,499.8h1.6v1.6h-1.6zM211.2,497.1h1.6v1.6h-1.6zM218.4,503.7h1.6v1.6h-1.6zM205.5,503.2h1.6v1.6h-1.6zM197.8,505.2h1.6v1.6h-1.6zM209.7,494.0h1.6v1.6h-1.6zM219.8,491.3h1.6v1.6h-1.6zM210.5,497.5h1.6v1.6h-1.6zM208.3,500.2h1.6v1.6h-1.6zM213.8,493.6h1.6v1.6h-1.6zM210.2,505.2h1.6v1.6h-1.6zM211.6,501.4h1.6v1.6h-1.6zM209.0,500.8h1.6v1.6h-1.6zM218.0,494.7h1.6v1.6h-1.6zM210.7,505.9h1.6v1.6h-1.6zM218.2,495.4h1.6v1.6h-1.6zM211.4,491.7h1.6v1.6h-1.6zM211.6,498.0h1.6v1.6h-1.6zM196.0,504.9h1.6v1.6h-1.6zM212.5,498.6h1.6v1.6h-1.6zM202.6,499.4h1.6v1.6h-1.6zM202.0,506.3h1.6v1.6h-1.6zM204.8,507.2h1.6v1.6h-1.6zM196.1,511.5h1.6v1.6h-1.6zM209.3,499.4h1.6v1.6h-1.6zM210.9,502.9h1.6v1.6h-1.6zM211.5,499.0h1.6v1.6h-1.6zM209.6,504.1h1.6v1.6h-1.6zM214.6,494.9h1.6v1.6h-1.6zM213.0,497.0h1.6v1.6h-1.6zM209.2,498.8h1.6v1.6h-1.6zM211.1,500.2h1.6v1.6h-1.6zM195.0,505.1h1.6v1.6h-1.6zM196.9,509.8h1.6v1.6h-1.6zM214.2,502.7h1.6v1.6h-1.6zM214.3,497.2h1.6v1.6h-1.6zM208.9,507.4h1.6v1.6h-1.6zM214.0,503.2h1.6v1.6h-1.6zM195.5,505.0h1.6v1.6h-1.6zM219.7,493.2h1.6v1.6h-1.6zM195.5,507.0h1.6v1.6h-1.6zM213.2,502.1h1.6v1.6h-1.6zM214.7,505.0h1.6v1.6h-1.6zM204.9,498.8h1.6v1.6h-1.6zM206.7,497.9h1.6v1.6h-1.6zM205.3,504.4h1.6v1.6h-1.6zM217.8,495.5h1.6v1.6h-1.6zM214.3,495.0h1.6v1.6h-1.6zM209.8,500.7h1.6v1.6h-1.6zM198.0,503.3h1.6v1.6h-1.6zM195.1,504.2h1.6v1.6h-1.6zM209.1,507.9h1.6v1.6h-1.6zM194.1,505.8h1.6v1.6h-1.6zM210.5,497.3h1.6v1.6h-1.6zM211.4,497.5h1.6v1.6h-1.6zM219.0,488.8h1.6v1.6h-1.6zM204.0,500.9h1.6v1.6h-1.6zM220.4,488.9h1.6v1.6h-1.6zM206.7,499.1h1.6v1.6h-1.6zM202.1,507.8h1.6v1.6h-1.6zM202.8,501.8h1.6v1.6h-1.6zM217.4,495.5h1.6v1.6h-1.6zM206.3,498.0h1.6v1.6h-1.6zM218.1,493.8h1.6v1.6h-1.6zM213.9,491.0h1.6v1.6h-1.6zM200.1,501.8h1.6v1.6h-1.6zM208.1,505.5h1.6v1.6h-1.6zM209.9,506.2h1.6v1.6h-1.6zM221.3,487.4h1.6v1.6h-1.6zM210.9,497.4h1.6v1.6h-1.6zM212.3,506.6h1.6v1.6h-1.6zM211.6,505.0h1.6v1.6h-1.6zM210.2,506.0h1.6v1.6h-1.6zM212.7,497.2h1.6v1.6h-1.6zM202.9,506.7h1.6v1.6h-1.6zM211.6,504.9h1.6v1.6h-1.6zM209.8,495.5h1.6v1.6h-1.6zM215.6,503.9h1.6v1.6h-1.6zM211.8,502.9h1.6v1.6h-1.6zM213.7,495.9h1.6v1.6h-1.6zM195.4,508.1h1.6v1.6h-1.6zM210.4,506.1h1.6v1.6h-1.6zM210.2,505.5h1.6v1.6h-1.6zM203.9,504.7h1.6v1.6h-1.6zM207.8,505.1h1.6v1.6h-1.6zM206.9,504.1h1.6v1.6h-1.6zM206.6,499.2h1.6v1.6h-1.6zM207.9,497.9h1.6v1.6h-1.6zM206.0,506.3h1.6v1.6h-1.6zM204.4,503.4h1.6v1.6h-1.6zM194.3,508.7h1.6v1.6h-1.6zM210.6,494.2h1.6v1.6h-1.6zM203.5,502.1h1.6v1.6h-1.6zM195.7,503.7h1.6v1.6h-1.6zM206.6,497.4h1.6v1.6h-1.6zM203.7,501.4h1.6v1.6h-1.6zM215.9,494.6h1.6v1.6h-1.6zM204.8,497.9h1.6v1.6h-1.6zM212.2,496.0h1.6v1.6h-1.6zM206.1,505.6h1.6v1.6h-1.6zM210.8,492.1h1.6v1.6h-1.6zM204.1,506.6h1.6v1.6h-1.6zM203.6,508.3h1.6v1.6h-1.6zM206.5,508.3h1.6v1.6h-1.6zM192.8,498.4h1.6v1.6h-1.6zM197.7,513.9h1.6v1.6h-1.6zM197.6,502.5h1.6v1.6h-1.6zM198.0,500.8h1.6v1.6h-1.6zM204.9,500.7h1.6v1.6h-1.6zM198.1,501.8h1.6v1.6h-1.6zM214.7,498.6h1.6v1.6h-1.6zM212.9,501.0h1.6v1.6h-1.6zM204.0,504.8h1.6v1.6h-1.6zM213.1,491.2h1.6v1.6h-1.6zM207.6,486.8h1.6v1.6h-1.6zM187.3,503.9h1.6v1.6h-1.6zM194.6,501.8h1.6v1.6h-1.6zM201.8,505.8h1.6v1.6h-1.6zM197.7,502.8h1.6v1.6h-1.6zM191.2,500.9h1.6v1.6h-1.6zM200.6,499.2h1.6v1.6h-1.6zM209.8,497.6h1.6v1.6h-1.6zM192.5,511.1h1.6v1.6h-1.6zM194.4,504.6h1.6v1.6h-1.6zM194.6,502.5h1.6v1.6h-1.6zM196.8,499.4h1.6v1.6h-1.6zM197.8,503.1h1.6v1.6h-1.6zM209.8,500.4h1.6v1.6h-1.6zM212.2,487.9h1.6v1.6h-1.6zM203.2,506.8h1.6v1.6h-1.6zM195.3,505.1h1.6v1.6h-1.6zM211.6,503.2h1.6v1.6h-1.6zM208.0,499.7h1.6v1.6h-1.6zM203.6,503.8h1.6v1.6h-1.6zM204.8,501.7h1.6v1.6h-1.6zM198.7,503.2h1.6v1.6h-1.6zM195.0,500.9h1.6v1.6h-1.6zM195.8,501.6h1.6v1.6h-1.6zM197.5,501.8h1.6v1.6h-1.6zM193.6,508.4h1.6v1.6h-1.6zM208.7,504.9h1.6v1.6h-1.6zM149.9,494.4h1.6v1.6h-1.6zM159.5,496.2h1.6v1.6h-1.6zM166.8,496.6h1.6v1.6h-1.6zM160.7,500.1h1.6v1.6h-1.6zM165.1,494.6h1.6v1.6h-1.6zM172.6,504.3h1.6v1.6h-1.6zM174.1,498.6h1.6v1.6h-1.6zM175.7,498.9h1.6v1.6h-1.6zM163.7,499.1h1.6v1.6h-1.6zM175.3,499.3h1.6v1.6h-1.6zM164.3,495.2h1.6v1.6h-1.6zM167.7,496.1h1.6v1.6h-1.6zM165.7,495.2h1.6v1.6h-1.6zM160.3,495.9h1.6v1.6h-1.6zM161.7,495.6h1.6v1.6h-1.6zM174.7,500.9h1.6v1.6h-1.6zM164.0,496.0h1.6v1.6h-1.6zM173.9,498.4h1.6v1.6h-1.6zM170.1,501.2h1.6v1.6h-1.6zM163.3,499.5h1.6v1.6h-1.6zM169.4,497.7h1.6v1.6h-1.6zM165.1,497.0h1.6v1.6h-1.6zM142.5,496.5h1.6v1.6h-1.6zM177.6,501.6h1.6v1.6h-1.6zM185.2,499.7h1.6v1.6h-1.6zM172.5,497.4h1.6v1.6h-1.6zM161.1,496.2h1.6v1.6h-1.6zM169.3,500.6h1.6v1.6h-1.6zM152.8,499.6h1.6v1.6h-1.6zM172.5,500.8h1.6v1.6h-1.6zM157.2,498.6h1.6v1.6h-1.6zM168.6,495.5h1.6v1.6h-1.6zM158.0,503.5h1.6v1.6h-1.6zM161.5,497.2h1.6v1.6h-1.6zM152.6,496.4h1.6v1.6h-1.6zM175.6,500.0h1.6v1.6h-1.6zM160.2,498.4h1.6v1.6h-1.6zM168.7,500.1h1.6v1.6h-1.6zM159.2,499.1h1.6v1.6h-1.6zM161.6,497.1h1.6v1.6h-1.6zM160.3,496.4h1.6v1.6h-1.6zM169.8,494.5h1.6v1.6h-1.6zM167.2,505.1h1.6v1.6h-1.6zM160.0,497.6h1.6v1.6h-1.6zM165.5,502.3h1.6v1.6h-1.6zM156.1,499.4h1.6v1.6h-1.6zM165.2,503.2h1.6v1.6h-1.6zM164.5,503.3h1.6v1.6h-1.6zM159.4,499.1h1.6v1.6h-1.6zM158.6,496.8h1.6v1.6h-1.6zM157.5,497.2h1.6v1.6h-1.6zM177.0,497.8h1.6v1.6h-1.6zM183.2,503.3h1.6v1.6h-1.6zM168.3,498.7h1.6v1.6h-1.6zM168.4,496.9h1.6v1.6h-1.6zM170.3,499.0h1.6v1.6h-1.6zM152.5,498.0h1.6v1.6h-1.6zM170.2,498.9h1.6v1.6h-1.6zM168.3,498.7h1.6v1.6h-1.6zM162.6,500.9h1.6v1.6h-1.6zM175.9,498.3h1.6v1.6h-1.6zM171.8,496.3h1.6v1.6h-1.6zM174.9,497.0h1.6v1.6h-1.6zM166.3,500.8h1.6v1.6h-1.6zM162.6,498.5h1.6v1.6h-1.6zM173.2,497.6h1.6v1.6h-1.6zM168.4,501.3h1.6v1.6h-1.6zM168.0,496.8h1.6v1.6h-1.6zM163.4,497.8h1.6v1.6h-1.6zM166.2,500.1h1.6v1.6h-1.6zM155.3,497.8h1.6v1.6h-1.6zM167.3,502.2h1.6v1.6h-1.6zM156.1,495.9h1.6v1.6h-1.6zM172.3,498.8h1.6v1.6h-1.6zM173.7,498.8h1.6v1.6h-1.6zM161.6,498.2h1.6v1.6h-1.6zM174.6,500.7h1.6v1.6h-1.6zM167.5,499.0h1.6v1.6h-1.6zM173.5,500.4h1.6v1.6h-1.6zM167.7,500.4h1.6v1.6h-1.6zM166.9,495.9h1.6v1.6h-1.6zM172.2,501.7h1.6v1.6h-1.6zM175.8,498.9h1.6v1.6h-1.6zM157.8,499.1h1.6v1.6h-1.6zM162.3,493.9h1.6v1.6h-1.6zM167.3,496.8h1.6v1.6h-1.6zM166.7,497.4h1.6v1.6h-1.6zM171.7,500.8h1.6v1.6h-1.6zM169.4,501.5h1.6v1.6h-1.6zM162.2,503.9h1.6v1.6h-1.6zM154.2,499.7h1.6v1.6h-1.6zM173.3,498.0h1.6v1.6h-1.6zM167.1,495.8h1.6v1.6h-1.6zM163.1,499.1h1.6v1.6h-1.6zM157.7,493.5h1.6v1.6h-1.6zM163.8,496.4h1.6v1.6h-1.6zM159.5,497.8h1.6v1.6h-1.6zM156.5,500.6h1.6v1.6h-1.6zM174.0,499.0h1.6v1.6h-1.6zM162.1,498.2h1.6v1.6h-1.6zM165.5,496.6h1.6v1.6h-1.6zM161.6,499.3h1.6v1.6h-1.6zM160.0,496.7h1.6v1.6h-1.6zM163.1,496.0h1.6v1.6h-1.6zM168.0,495.6h1.6v1.6h-1.6zM172.3,500.5h1.6v1.6h-1.6zM165.8,500.5h1.6v1.6h-1.6zM173.6,498.0h1.6v1.6h-1.6zM165.8,497.1h1.6v1.6h-1.6zM163.6,497.5h1.6v1.6h-1.6zM166.6,499.8h1.6v1.6h-1.6zM181.0,500.1h1.6v1.6h-1.6zM172.6,498.3h1.6v1.6h-1.6zM177.3,499.4h1.6v1.6h-1.6zM164.9,497.8h1.6v1.6h-1.6zM166.3,497.6h1.6v1.6h-1.6zM167.1,502.7h1.6v1.6h-1.6zM166.6,496.8h1.6v1.6h-1.6zM153.5,497.6h1.6v1.6h-1.6zM159.3,496.4h1.6v1.6h-1.6zM167.0,499.4h1.6v1.6h-1.6zM169.1,501.4h1.6v1.6h-1.6zM159.7,496.7h1.6v1.6h-1.6zM160.2,495.9h1.6v1.6h-1.6zM161.7,496.3h1.6v1.6h-1.6zM170.8,496.3h1.6v1.6h-1.6zM181.2,494.5h1.6v1.6h-1.6zM171.8,495.1h1.6v1.6h-1.6zM162.9,495.5h1.6v1.6h-1.6zM166.0,499.6h1.6v1.6h-1.6zM163.3,496.8h1.6v1.6h-1.6zM159.4,496.2h1.6v1.6h-1.6zM160.3,496.6h1.6v1.6h-1.6zM166.3,500.6h1.6v1.6h-1.6zM161.5,493.5h1.6v1.6h-1.6zM163.4,500.3h1.6v1.6h-1.6zM159.0,499.0h1.6v1.6h-1.6zM158.2,495.1h1.6v1.6h-1.6zM167.6,494.2h1.6v1.6h-1.6zM163.4,492.0h1.6v1.6h-1.6zM158.7,499.0h1.6v1.6h-1.6zM162.6,496.6h1.6v1.6h-1.6zM169.6,496.5h1.6v1.6h-1.6zM158.1,497.1h1.6v1.6h-1.6zM165.3,498.7h1.6v1.6h-1.6zM164.5,501.1h1.6v1.6h-1.6zM169.6,498.3h1.6v1.6h-1.6zM181.6,495.6h1.6v1.6h-1.6zM167.5,496.7h1.6v1.6h-1.6zM180.3,499.8h1.6v1.6h-1.6zM171.3,499.6h1.6v1.6h-1.6zM175.8,497.6h1.6v1.6h-1.6zM172.1,494.7h1.6v1.6h-1.6zM169.5,501.2h1.6v1.6h-1.6zM171.6,500.1h1.6v1.6h-1.6zM153.1,498.0h1.6v1.6h-1.6zM163.3,501.8h1.6v1.6h-1.6zM169.3,500.1h1.6v1.6h-1.6zM174.5,500.1h1.6v1.6h-1.6zM156.6,496.1h1.6v1.6h-1.6zM151.5,500.5h1.6v1.6h-1.6zM164.6,495.4h1.6v1.6h-1.6zM169.1,497.6h1.6v1.6h-1.6zM163.5,501.3h1.6v1.6h-1.6zM152.0,494.3h1.6v1.6h-1.6zM165.1,497.8h1.6v1.6h-1.6zM173.4,497.9h1.6v1.6h-1.6zM169.1,502.6h1.6v1.6h-1.6zM156.7,494.6h1.6v1.6h-1.6zM160.9,497.7h1.6v1.6h-1.6zM170.3,499.6h1.6v1.6h-1.6zM172.5,502.2h1.6v1.6h-1.6zM181.2,500.8h1.6v1.6h-1.6zM179.2,499.5h1.6v1.6h-1.6zM166.7,498.2h1.6v1.6h-1.6zM165.6,502.7h1.6v1.6h-1.6zM170.0,496.2h1.6v1.6h-1.6zM174.6,505.3h1.6v1.6h-1.6zM170.2,503.7h1.6v1.6h-1.6zM178.6,506.4h1.6v1.6h-1.6zM176.2,497.3h1.6v1.6h-1.6zM177.5,497.3h1.6v1.6h-1.6zM172.9,500.9h1.6v1.6h-1.6zM174.6,501.4h1.6v1.6h-1.6zM181.8,501.6h1.6v1.6h-1.6zM188.4,502.0h1.6v1.6h-1.6zM171.3,502.8h1.6v1.6h-1.6zM160.9,502.6h1.6v1.6h-1.6zM186.0,495.8h1.6v1.6h-1.6zM186.4,493.4h1.6v1.6h-1.6zM184.5,497.7h1.6v1.6h-1.6zM175.8,498.4h1.6v1.6h-1.6zM173.9,501.0h1.6v1.6h-1.6zM177.4,498.7h1.6v1.6h-1.6zM178.1,497.8h1.6v1.6h-1.6zM170.9,500.6h1.6v1.6h-1.6zM183.4,495.4h1.6v1.6h-1.6zM184.2,502.6h1.6v1.6h-1.6zM178.9,503.1h1.6v1.6h-1.6zM163.0,502.9h1.6v1.6h-1.6zM172.7,499.8h1.6v1.6h-1.6zM171.5,506.0h1.6v1.6h-1.6zM175.0,500.8h1.6v1.6h-1.6zM167.8,498.0h1.6v1.6h-1.6zM180.7,498.6h1.6v1.6h-1.6zM172.6,503.2h1.6v1.6h-1.6zM167.3,499.1h1.6v1.6h-1.6zM176.6,497.8h1.6v1.6h-1.6zM182.2,499.6h1.6v1.6h-1.6zM176.5,500.8h1.6v1.6h-1.6zM177.2,500.4h1.6v1.6h-1.6zM186.4,499.6h1.6v1.6h-1.6zM178.2,497.2h1.6v1.6h-1.6zM187.4,501.7h1.6v1.6h-1.6zM181.4,499.8h1.6v1.6h-1.6zM159.9,500.2h1.6v1.6h-1.6zM173.1,494.2h1.6v1.6h-1.6zM158.5,499.3h1.6v1.6h-1.6zM191.9,501.6h1.6v1.6h-1.6zM152.7,506.0h1.6v1.6h-1.6zM180.0,503.3h1.6v1.6h-1.6zM163.3,499.3h1.6v1.6h-1.6zM195.1,505.3h1.6v1.6h-1.6zM223.0,491.0h1.6v1.6h-1.6zM151.3,497.8h1.6v1.6h-1.6zM159.0,496.6h1.6v1.6h-1.6zM178.1,506.3h1.6v1.6h-1.6zM153.1,502.6h1.6v1.6h-1.6zM179.7,501.1h1.6v1.6h-1.6zM185.5,505.5h1.6v1.6h-1.6zM160.2,500.5h1.6v1.6h-1.6zM172.9,494.1h1.6v1.6h-1.6zM167.0,504.8h1.6v1.6h-1.6zM174.2,500.0h1.6v1.6h-1.6zM199.8,502.9h1.6v1.6h-1.6zM180.9,495.7h1.6v1.6h-1.6zM183.9,497.7h1.6v1.6h-1.6zM167.6,497.9h1.6v1.6h-1.6zM154.8,502.7h1.6v1.6h-1.6zM155.3,503.9h1.6v1.6h-1.6zM160.3,506.1h1.6v1.6h-1.6zM173.6,505.6h1.6v1.6h-1.6zM156.8,502.7h1.6v1.6h-1.6zM178.4,501.3h1.6v1.6h-1.6zM168.4,497.1h1.6v1.6h-1.6zM154.9,494.8h1.6v1.6h-1.6zM174.1,487.0h1.6v1.6h-1.6zM160.8,503.3h1.6v1.6h-1.6zM170.1,498.9h1.6v1.6h-1.6zM162.0,530.2h1.6v1.6h-1.6zM155.3,524.5h1.6v1.6h-1.6zM175.9,521.7h1.6v1.6h-1.6zM167.7,526.0h1.6v1.6h-1.6zM157.8,513.5h1.6v1.6h-1.6zM161.2,522.8h1.6v1.6h-1.6zM159.7,528.4h1.6v1.6h-1.6zM171.6,533.8h1.6v1.6h-1.6zM172.0,519.7h1.6v1.6h-1.6zM181.1,531.6h1.6v1.6h-1.6zM175.3,518.8h1.6v1.6h-1.6zM178.4,546.8h1.6v1.6h-1.6zM173.4,537.7h1.6v1.6h-1.6zM163.8,530.2h1.6v1.6h-1.6zM168.4,534.1h1.6v1.6h-1.6zM170.3,531.0h1.6v1.6h-1.6zM160.9,519.6h1.6v1.6h-1.6zM168.8,548.7h1.6v1.6h-1.6zM160.2,533.1h1.6v1.6h-1.6zM180.7,523.9h1.6v1.6h-1.6zM154.4,531.8h1.6v1.6h-1.6zM168.5,522.1h1.6v1.6h-1.6zM182.2,534.5h1.6v1.6h-1.6zM168.8,518.2h1.6v1.6h-1.6zM180.0,537.9h1.6v1.6h-1.6zM176.3,541.8h1.6v1.6h-1.6zM159.8,521.1h1.6v1.6h-1.6zM176.6,532.5h1.6v1.6h-1.6zM168.5,525.1h1.6v1.6h-1.6zM178.0,531.0h1.6v1.6h-1.6zM176.6,520.0h1.6v1.6h-1.6zM169.5,532.3h1.6v1.6h-1.6zM178.0,515.9h1.6v1.6h-1.6zM167.2,523.8h1.6v1.6h-1.6zM169.0,527.9h1.6v1.6h-1.6zM172.7,535.2h1.6v1.6h-1.6zM171.3,528.4h1.6v1.6h-1.6zM176.8,540.0h1.6v1.6h-1.6zM169.5,522.7h1.6v1.6h-1.6zM184.7,536.2h1.6v1.6h-1.6zM188.3,525.8h1.6v1.6h-1.6zM165.5,527.6h1.6v1.6h-1.6zM168.2,517.4h1.6v1.6h-1.6zM176.4,517.2h1.6v1.6h-1.6zM144.3,528.6h1.6v1.6h-1.6zM159.5,531.1h1.6v1.6h-1.6zM158.7,518.3h1.6v1.6h-1.6zM150.8,519.0h1.6v1.6h-1.6zM166.4,545.9h1.6v1.6h-1.6zM175.0,523.9h1.6v1.6h-1.6zM181.0,530.9h1.6v1.6h-1.6zM152.3,515.1h1.6v1.6h-1.6zM155.5,524.4h1.6v1.6h-1.6zM169.3,524.1h1.6v1.6h-1.6zM164.2,521.6h1.6v1.6h-1.6zM170.5,535.3h1.6v1.6h-1.6zM159.5,538.9h1.6v1.6h-1.6zM161.5,526.7h1.6v1.6h-1.6zM183.9,533.8h1.6v1.6h-1.6zM169.4,513.8h1.6v1.6h-1.6zM207.6,525.7h1.6v1.6h-1.6zM201.3,527.2h1.6v1.6h-1.6zM197.6,526.9h1.6v1.6h-1.6zM205.6,526.7h1.6v1.6h-1.6zM204.5,524.4h1.6v1.6h-1.6zM210.2,534.5h1.6v1.6h-1.6zM204.9,518.4h1.6v1.6h-1.6zM208.4,534.1h1.6v1.6h-1.6zM203.2,520.8h1.6v1.6h-1.6zM204.3,527.9h1.6v1.6h-1.6zM202.0,520.6h1.6v1.6h-1.6zM203.8,516.7h1.6v1.6h-1.6zM200.4,527.7h1.6v1.6h-1.6zM199.8,529.2h1.6v1.6h-1.6zM202.9,531.2h1.6v1.6h-1.6zM211.7,521.0h1.6v1.6h-1.6zM199.3,512.3h1.6v1.6h-1.6zM213.2,536.1h1.6v1.6h-1.6zM202.0,524.5h1.6v1.6h-1.6zM205.9,523.0h1.6v1.6h-1.6zM205.3,528.1h1.6v1.6h-1.6zM206.7,520.8h1.6v1.6h-1.6zM215.1,533.5h1.6v1.6h-1.6zM203.3,520.3h1.6v1.6h-1.6zM204.4,525.8h1.6v1.6h-1.6zM207.3,538.1h1.6v1.6h-1.6zM205.4,526.1h1.6v1.6h-1.6zM210.1,531.4h1.6v1.6h-1.6zM210.5,524.5h1.6v1.6h-1.6zM207.8,528.2h1.6v1.6h-1.6zM199.8,518.2h1.6v1.6h-1.6zM213.1,539.8h1.6v1.6h-1.6zM198.5,524.2h1.6v1.6h-1.6zM206.7,528.5h1.6v1.6h-1.6zM208.5,537.0h1.6v1.6h-1.6zM216.7,536.5h1.6v1.6h-1.6zM204.7,523.3h1.6v1.6h-1.6zM210.9,524.5h1.6v1.6h-1.6zM212.0,524.5h1.6v1.6h-1.6zM204.8,522.1h1.6v1.6h-1.6zM205.8,528.2h1.6v1.6h-1.6zM201.9,522.3h1.6v1.6h-1.6zM207.5,527.6h1.6v1.6h-1.6zM207.9,525.0h1.6v1.6h-1.6zM208.0,539.7h1.6v1.6h-1.6zM202.3,530.5h1.6v1.6h-1.6zM204.5,519.7h1.6v1.6h-1.6zM203.2,525.1h1.6v1.6h-1.6zM208.0,522.0h1.6v1.6h-1.6zM204.2,514.7h1.6v1.6h-1.6zM207.8,532.6h1.6v1.6h-1.6zM194.2,522.0h1.6v1.6h-1.6zM205.8,522.1h1.6v1.6h-1.6zM205.2,525.1h1.6v1.6h-1.6zM204.7,523.7h1.6v1.6h-1.6zM205.7,532.6h1.6v1.6h-1.6zM204.0,521.7h1.6v1.6h-1.6zM204.7,520.6h1.6v1.6h-1.6zM206.7,524.7h1.6v1.6h-1.6zM211.5,527.4h1.6v1.6h-1.6zM204.9,529.9h1.6v1.6h-1.6zM206.0,523.4h1.6v1.6h-1.6zM209.6,528.7h1.6v1.6h-1.6zM204.0,524.5h1.6v1.6h-1.6zM194.3,513.1h1.6v1.6h-1.6zM204.9,528.7h1.6v1.6h-1.6zM202.3,517.0h1.6v1.6h-1.6zM205.7,529.8h1.6v1.6h-1.6zM205.4,521.5h1.6v1.6h-1.6zM210.8,535.5h1.6v1.6h-1.6zM292.8,382.3h1.6v1.6h-1.6zM288.3,384.5h1.6v1.6h-1.6zM283.3,389.5h1.6v1.6h-1.6zM280.2,383.4h1.6v1.6h-1.6zM282.2,385.3h1.6v1.6h-1.6zM286.2,387.2h1.6v1.6h-1.6zM292.8,387.3h1.6v1.6h-1.6zM295.6,389.0h1.6v1.6h-1.6zM289.0,385.6h1.6v1.6h-1.6zM293.5,385.2h1.6v1.6h-1.6zM291.4,386.1h1.6v1.6h-1.6zM283.0,387.8h1.6v1.6h-1.6zM289.7,386.9h1.6v1.6h-1.6zM292.0,386.3h1.6v1.6h-1.6zM282.0,386.2h1.6v1.6h-1.6zM296.2,383.3h1.6v1.6h-1.6zM276.1,386.0h1.6v1.6h-1.6zM280.4,389.7h1.6v1.6h-1.6zM286.9,383.4h1.6v1.6h-1.6zM285.7,383.4h1.6v1.6h-1.6zM288.7,388.6h1.6v1.6h-1.6zM292.6,388.9h1.6v1.6h-1.6zM285.9,389.3h1.6v1.6h-1.6zM288.7,382.5h1.6v1.6h-1.6zM293.4,383.6h1.6v1.6h-1.6zM282.8,381.7h1.6v1.6h-1.6zM281.5,380.2h1.6v1.6h-1.6zM279.3,383.7h1.6v1.6h-1.6zM279.5,384.9h1.6v1.6h-1.6zM290.3,385.1h1.6v1.6h-1.6zM288.4,389.1h1.6v1.6h-1.6zM282.7,390.1h1.6v1.6h-1.6zM285.8,385.9h1.6v1.6h-1.6zM288.0,389.8h1.6v1.6h-1.6zM279.4,388.6h1.6v1.6h-1.6zM283.4,386.3h1.6v1.6h-1.6zM280.5,379.0h1.6v1.6h-1.6zM292.4,388.1h1.6v1.6h-1.6zM280.3,383.5h1.6v1.6h-1.6zM279.5,385.9h1.6v1.6h-1.6zM297.1,385.6h1.6v1.6h-1.6zM276.8,388.0h1.6v1.6h-1.6zM281.1,381.6h1.6v1.6h-1.6zM288.1,386.0h1.6v1.6h-1.6zM286.9,388.0h1.6v1.6h-1.6zM291.2,380.2h1.6v1.6h-1.6zM286.9,389.2h1.6v1.6h-1.6zM292.8,383.1h1.6v1.6h-1.6zM276.1,382.9h1.6v1.6h-1.6zM288.1,385.4h1.6v1.6h-1.6zM290.5,385.5h1.6v1.6h-1.6zM279.1,382.9h1.6v1.6h-1.6zM284.7,388.3h1.6v1.6h-1.6zM294.1,383.2h1.6v1.6h-1.6zM288.4,385.8h1.6v1.6h-1.6zM279.7,382.7h1.6v1.6h-1.6zM294.5,384.8h1.6v1.6h-1.6zM285.5,387.3h1.6v1.6h-1.6zM288.0,387.9h1.6v1.6h-1.6zM281.6,384.9h1.6v1.6h-1.6zM287.4,387.0h1.6v1.6h-1.6zM282.0,381.3h1.6v1.6h-1.6zM290.7,388.4h1.6v1.6h-1.6zM291.2,385.7h1.6v1.6h-1.6zM276.2,384.9h1.6v1.6h-1.6zM297.1,386.8h1.6v1.6h-1.6zM287.4,381.5h1.6v1.6h-1.6zM282.5,388.7h1.6v1.6h-1.6zM287.8,385.6h1.6v1.6h-1.6zM292.8,388.0h1.6v1.6h-1.6zM289.0,385.5h1.6v1.6h-1.6zM288.3,388.9h1.6v1.6h-1.6zM287.7,382.5h1.6v1.6h-1.6zM285.0,385.2h1.6v1.6h-1.6zM288.3,389.5h1.6v1.6h-1.6zM285.6,384.8h1.6v1.6h-1.6zM290.0,387.3h1.6v1.6h-1.6zM281.7,387.3h1.6v1.6h-1.6zM287.0,387.0h1.6v1.6h-1.6zM277.7,380.5h1.6v1.6h-1.6zM277.8,381.3h1.6v1.6h-1.6zM291.3,388.8h1.6v1.6h-1.6zM279.0,390.1h1.6v1.6h-1.6zM279.8,383.8h1.6v1.6h-1.6zM297.8,382.4h1.6v1.6h-1.6zM289.8,388.3h1.6v1.6h-1.6zM292.1,387.8h1.6v1.6h-1.6zM287.4,390.3h1.6v1.6h-1.6zM285.6,386.3h1.6v1.6h-1.6zM288.2,385.1h1.6v1.6h-1.6zM285.2,389.4h1.6v1.6h-1.6zM294.9,387.7h1.6v1.6h-1.6zM285.4,384.6h1.6v1.6h-1.6zM283.9,385.0h1.6v1.6h-1.6zM283.6,385.8h1.6v1.6h-1.6zM284.8,389.0h1.6v1.6h-1.6zM278.3,384.9h1.6v1.6h-1.6zM290.5,384.9h1.6v1.6h-1.6zM283.8,387.6h1.6v1.6h-1.6zM285.6,383.3h1.6v1.6h-1.6zM286.9,387.8h1.6v1.6h-1.6zM276.8,388.5h1.6v1.6h-1.6zM276.7,387.9h1.6v1.6h-1.6zM278.9,386.7h1.6v1.6h-1.6zM285.8,388.9h1.6v1.6h-1.6zM285.6,384.8h1.6v1.6h-1.6zM282.0,386.6h1.6v1.6h-1.6zM284.7,388.5h1.6v1.6h-1.6zM288.3,389.5h1.6v1.6h-1.6zM289.9,386.5h1.6v1.6h-1.6zM285.7,387.8h1.6v1.6h-1.6zM290.2,382.3h1.6v1.6h-1.6zM288.2,385.0h1.6v1.6h-1.6zM287.8,388.2h1.6v1.6h-1.6zM275.6,385.7h1.6v1.6h-1.6zM291.5,381.2h1.6v1.6h-1.6zM287.3,386.1h1.6v1.6h-1.6zM283.0,388.5h1.6v1.6h-1.6zM291.1,386.1h1.6v1.6h-1.6zM293.8,390.1h1.6v1.6h-1.6zM287.2,388.4h1.6v1.6h-1.6zM290.9,390.8h1.6v1.6h-1.6zM290.5,388.0h1.6v1.6h-1.6zM286.8,388.1h1.6v1.6h-1.6zM294.7,385.8h1.6v1.6h-1.6zM285.6,383.4h1.6v1.6h-1.6zM300.1,385.0h1.6v1.6h-1.6zM283.4,384.5h1.6v1.6h-1.6zM292.6,387.1h1.6v1.6h-1.6zM275.1,386.5h1.6v1.6h-1.6zM296.1,385.9h1.6v1.6h-1.6zM286.8,394.1h1.6v1.6h-1.6zM284.8,385.5h1.6v1.6h-1.6zM289.6,392.8h1.6v1.6h-1.6zM288.6,381.6h1.6v1.6h-1.6zM285.4,385.5h1.6v1.6h-1.6zM290.3,385.1h1.6v1.6h-1.6zM286.9,382.5h1.6v1.6h-1.6zM279.3,386.3h1.6v1.6h-1.6zM295.1,383.4h1.6v1.6h-1.6zM277.5,389.4h1.6v1.6h-1.6zM288.3,388.3h1.6v1.6h-1.6zM285.3,386.8h1.6v1.6h-1.6zM285.7,386.1h1.6v1.6h-1.6zM296.0,385.0h1.6v1.6h-1.6zM284.1,386.1h1.6v1.6h-1.6zM285.2,390.8h1.6v1.6h-1.6zM285.3,387.2h1.6v1.6h-1.6zM279.5,387.6h1.6v1.6h-1.6zM289.7,387.9h1.6v1.6h-1.6zM277.5,384.4h1.6v1.6h-1.6zM285.7,390.7h1.6v1.6h-1.6zM296.7,389.0h1.6v1.6h-1.6zM282.7,385.5h1.6v1.6h-1.6zM290.5,380.7h1.6v1.6h-1.6zM293.8,390.2h1.6v1.6h-1.6zM291.0,385.3h1.6v1.6h-1.6zM288.2,381.7h1.6v1.6h-1.6zM281.0,384.9h1.6v1.6h-1.6zM282.1,390.8h1.6v1.6h-1.6zM288.7,379.4h1.6v1.6h-1.6zM292.5,387.5h1.6v1.6h-1.6zM284.9,384.1h1.6v1.6h-1.6zM297.5,386.8h1.6v1.6h-1.6zM287.7,381.7h1.6v1.6h-1.6zM283.1,388.6h1.6v1.6h-1.6zM286.9,384.9h1.6v1.6h-1.6zM284.5,381.7h1.6v1.6h-1.6zM272.8,387.6h1.6v1.6h-1.6zM278.3,381.7h1.6v1.6h-1.6zM287.9,388.7h1.6v1.6h-1.6zM284.3,389.2h1.6v1.6h-1.6zM286.4,377.4h1.6v1.6h-1.6zM295.1,383.1h1.6v1.6h-1.6zM294.8,385.3h1.6v1.6h-1.6zM285.8,384.8h1.6v1.6h-1.6zM280.7,387.8h1.6v1.6h-1.6zM295.3,389.7h1.6v1.6h-1.6zM283.1,387.5h1.6v1.6h-1.6zM291.9,387.7h1.6v1.6h-1.6zM279.1,391.8h1.6v1.6h-1.6zM282.1,383.8h1.6v1.6h-1.6zM287.0,386.7h1.6v1.6h-1.6zM283.1,382.4h1.6v1.6h-1.6zM279.5,386.1h1.6v1.6h-1.6zM275.9,389.2h1.6v1.6h-1.6zM289.7,386.7h1.6v1.6h-1.6zM287.3,383.7h1.6v1.6h-1.6zM283.1,388.6h1.6v1.6h-1.6zM283.4,390.5h1.6v1.6h-1.6zM291.8,388.0h1.6v1.6h-1.6zM284.9,383.5h1.6v1.6h-1.6zM285.3,383.4h1.6v1.6h-1.6zM284.2,385.1h1.6v1.6h-1.6zM283.1,389.3h1.6v1.6h-1.6zM281.3,384.0h1.6v1.6h-1.6zM292.7,386.8h1.6v1.6h-1.6zM288.9,384.3h1.6v1.6h-1.6zM288.0,389.8h1.6v1.6h-1.6zM286.3,387.3h1.6v1.6h-1.6zM292.9,387.8h1.6v1.6h-1.6zM293.0,382.7h1.6v1.6h-1.6zM276.5,383.0h1.6v1.6h-1.6zM288.5,384.2h1.6v1.6h-1.6zM275.1,391.1h1.6v1.6h-1.6zM293.4,384.6h1.6v1.6h-1.6zM282.6,384.1h1.6v1.6h-1.6zM290.1,387.4h1.6v1.6h-1.6zM286.9,389.9h1.6v1.6h-1.6zM281.7,382.7h1.6v1.6h-1.6zM286.2,385.9h1.6v1.6h-1.6zM286.7,387.2h1.6v1.6h-1.6zM277.7,390.5h1.6v1.6h-1.6zM276.3,387.0h1.6v1.6h-1.6zM288.1,388.4h1.6v1.6h-1.6zM287.4,383.8h1.6v1.6h-1.6zM285.1,382.2h1.6v1.6h-1.6zM285.3,385.4h1.6v1.6h-1.6zM275.9,392.2h1.6v1.6h-1.6zM282.9,387.6h1.6v1.6h-1.6zM293.3,386.0h1.6v1.6h-1.6zM283.9,383.0h1.6v1.6h-1.6zM282.1,384.1h1.6v1.6h-1.6zM285.3,388.3h1.6v1.6h-1.6zM287.2,390.3h1.6v1.6h-1.6zM288.3,386.7h1.6v1.6h-1.6zM287.6,381.9h1.6v1.6h-1.6zM285.8,384.1h1.6v1.6h-1.6zM285.0,386.0h1.6v1.6h-1.6zM284.6,385.9h1.6v1.6h-1.6zM288.1,386.9h1.6v1.6h-1.6zM282.5,388.6h1.6v1.6h-1.6zM286.4,387.1h1.6v1.6h-1.6zM295.7,390.7h1.6v1.6h-1.6zM298.1,385.4h1.6v1.6h-1.6zM288.4,387.4h1.6v1.6h-1.6zM286.7,385.7h1.6v1.6h-1.6zM290.7,389.3h1.6v1.6h-1.6zM298.2,384.6h1.6v1.6h-1.6zM288.7,384.0h1.6v1.6h-1.6zM284.7,379.5h1.6v1.6h-1.6zM297.8,381.6h1.6v1.6h-1.6zM286.7,381.1h1.6v1.6h-1.6zM284.3,383.2h1.6v1.6h-1.6zM274.6,383.1h1.6v1.6h-1.6zM284.9,385.7h1.6v1.6h-1.6zM275.5,387.8h1.6v1.6h-1.6zM284.4,382.9h1.6v1.6h-1.6zM294.5,384.1h1.6v1.6h-1.6zM287.4,390.3h1.6v1.6h-1.6zM286.4,385.8h1.6v1.6h-1.6zM291.4,384.9h1.6v1.6h-1.6zM286.5,385.6h1.6v1.6h-1.6zM284.0,388.2h1.6v1.6h-1.6zM287.6,390.0h1.6v1.6h-1.6zM288.3,382.1h1.6v1.6h-1.6zM288.3,385.3h1.6v1.6h-1.6zM284.7,388.8h1.6v1.6h-1.6zM288.4,381.6h1.6v1.6h-1.6zM297.1,385.7h1.6v1.6h-1.6zM277.1,385.1h1.6v1.6h-1.6zM288.8,382.9h1.6v1.6h-1.6zM281.4,381.0h1.6v1.6h-1.6zM287.6,384.6h1.6v1.6h-1.6zM294.5,386.8h1.6v1.6h-1.6zM287.4,384.3h1.6v1.6h-1.6zM291.5,382.2h1.6v1.6h-1.6zM287.6,387.4h1.6v1.6h-1.6zM281.8,382.7h1.6v1.6h-1.6zM292.4,391.2h1.6v1.6h-1.6zM288.2,391.2h1.6v1.6h-1.6zM288.6,385.5h1.6v1.6h-1.6zM283.9,382.6h1.6v1.6h-1.6zM291.1,384.5h1.6v1.6h-1.6zM282.6,387.1h1.6v1.6h-1.6zM288.8,384.0h1.6v1.6h-1.6zM287.2,385.6h1.6v1.6h-1.6zM286.8,385.6h1.6v1.6h-1.6zM283.8,379.2h1.6v1.6h-1.6zM282.8,389.4h1.6v1.6h-1.6zM284.3,386.5h1.6v1.6h-1.6zM289.4,383.2h1.6v1.6h-1.6zM286.5,385.3h1.6v1.6h-1.6zM288.1,387.7h1.6v1.6h-1.6zM286.5,385.4h1.6v1.6h-1.6zM291.3,386.4h1.6v1.6h-1.6zM277.9,389.5h1.6v1.6h-1.6zM288.6,384.4h1.6v1.6h-1.6zM285.7,383.4h1.6v1.6h-1.6zM286.8,381.9h1.6v1.6h-1.6zM291.6,387.3h1.6v1.6h-1.6zM280.6,387.4h1.6v1.6h-1.6zM278.1,384.5h1.6v1.6h-1.6zM280.6,388.0h1.6v1.6h-1.6zM289.9,382.3h1.6v1.6h-1.6zM287.0,387.4h1.6v1.6h-1.6zM284.2,392.8h1.6v1.6h-1.6zM277.4,389.7h1.6v1.6h-1.6zM294.3,385.0h1.6v1.6h-1.6zM279.8,389.4h1.6v1.6h-1.6zM278.2,386.0h1.6v1.6h-1.6zM282.9,382.4h1.6v1.6h-1.6zM289.1,389.3h1.6v1.6h-1.6zM278.5,387.8h1.6v1.6h-1.6zM286.6,384.1h1.6v1.6h-1.6zM283.1,387.6h1.6v1.6h-1.6zM292.2,385.2h1.6v1.6h-1.6zM288.2,380.6h1.6v1.6h-1.6zM283.1,386.0h1.6v1.6h-1.6zM284.4,386.8h1.6v1.6h-1.6zM281.1,387.8h1.6v1.6h-1.6zM282.8,385.7h1.6v1.6h-1.6zM289.6,389.8h1.6v1.6h-1.6zM280.4,385.7h1.6v1.6h-1.6zM280.4,386.1h1.6v1.6h-1.6zM282.8,382.6h1.6v1.6h-1.6zM292.1,387.0h1.6v1.6h-1.6zM286.0,389.7h1.6v1.6h-1.6zM276.9,387.1h1.6v1.6h-1.6zM294.8,385.0h1.6v1.6h-1.6zM281.2,383.8h1.6v1.6h-1.6zM292.7,389.0h1.6v1.6h-1.6zM287.8,388.6h1.6v1.6h-1.6zM282.3,384.9h1.6v1.6h-1.6zM290.5,383.3h1.6v1.6h-1.6zM287.2,385.9h1.6v1.6h-1.6zM281.3,386.5h1.6v1.6h-1.6zM278.9,384.2h1.6v1.6h-1.6zM275.0,382.4h1.6v1.6h-1.6zM281.1,387.0h1.6v1.6h-1.6zM286.0,382.4h1.6v1.6h-1.6zM284.5,392.3h1.6v1.6h-1.6zM286.3,387.1h1.6v1.6h-1.6zM274.3,384.5h1.6v1.6h-1.6zM292.2,381.9h1.6v1.6h-1.6zM280.9,383.9h1.6v1.6h-1.6zM285.2,387.6h1.6v1.6h-1.6zM276.3,387.9h1.6v1.6h-1.6zM288.1,382.7h1.6v1.6h-1.6zM281.2,384.4h1.6v1.6h-1.6zM294.7,383.1h1.6v1.6h-1.6zM291.1,391.4h1.6v1.6h-1.6zM283.7,383.6h1.6v1.6h-1.6zM285.8,383.1h1.6v1.6h-1.6zM283.7,382.9h1.6v1.6h-1.6zM277.6,381.4h1.6v1.6h-1.6zM290.9,384.0h1.6v1.6h-1.6zM279.4,388.9h1.6v1.6h-1.6zM284.8,384.9h1.6v1.6h-1.6zM281.6,385.9h1.6v1.6h-1.6zM284.0,384.6h1.6v1.6h-1.6zM284.8,388.0h1.6v1.6h-1.6zM284.7,389.6h1.6v1.6h-1.6zM291.1,383.0h1.6v1.6h-1.6zM280.4,382.2h1.6v1.6h-1.6zM281.5,387.9h1.6v1.6h-1.6zM283.8,384.4h1.6v1.6h-1.6zM286.2,379.7h1.6v1.6h-1.6zM287.5,385.3h1.6v1.6h-1.6zM289.4,385.0h1.6v1.6h-1.6zM291.2,388.8h1.6v1.6h-1.6zM284.0,387.4h1.6v1.6h-1.6zM280.7,383.8h1.6v1.6h-1.6zM279.6,385.2h1.6v1.6h-1.6zM278.9,382.8h1.6v1.6h-1.6zM284.4,381.7h1.6v1.6h-1.6zM288.9,383.2h1.6v1.6h-1.6zM284.3,384.9h1.6v1.6h-1.6zM291.3,387.5h1.6v1.6h-1.6zM284.3,384.1h1.6v1.6h-1.6zM290.4,385.4h1.6v1.6h-1.6zM279.8,386.2h1.6v1.6h-1.6zM289.1,385.7h1.6v1.6h-1.6zM285.9,390.0h1.6v1.6h-1.6zM286.1,391.5h1.6v1.6h-1.6zM307.1,396.2h1.6v1.6h-1.6zM279.7,390.3h1.6v1.6h-1.6zM292.7,399.7h1.6v1.6h-1.6zM304.2,392.8h1.6v1.6h-1.6zM303.3,390.5h1.6v1.6h-1.6zM280.8,398.9h1.6v1.6h-1.6zM274.3,391.6h1.6v1.6h-1.6zM299.2,388.7h1.6v1.6h-1.6zM301.6,387.6h1.6v1.6h-1.6zM299.5,388.9h1.6v1.6h-1.6zM284.0,392.6h1.6v1.6h-1.6zM285.7,390.9h1.6v1.6h-1.6zM280.9,388.9h1.6v1.6h-1.6zM296.9,393.5h1.6v1.6h-1.6zM280.4,385.0h1.6v1.6h-1.6zM291.3,382.5h1.6v1.6h-1.6zM297.5,399.6h1.6v1.6h-1.6zM298.3,390.9h1.6v1.6h-1.6zM283.1,390.6h1.6v1.6h-1.6zM296.8,397.6h1.6v1.6h-1.6zM287.9,394.0h1.6v1.6h-1.6zM287.9,386.3h1.6v1.6h-1.6zM287.2,389.1h1.6v1.6h-1.6zM276.4,385.9h1.6v1.6h-1.6zM306.4,378.6h1.6v1.6h-1.6zM300.4,391.6h1.6v1.6h-1.6zM287.1,383.8h1.6v1.6h-1.6zM303.0,386.0h1.6v1.6h-1.6zM294.5,386.6h1.6v1.6h-1.6zM279.9,436.0h1.6v1.6h-1.6zM290.7,420.0h1.6v1.6h-1.6zM293.4,417.5h1.6v1.6h-1.6zM278.9,434.5h1.6v1.6h-1.6zM284.1,427.6h1.6v1.6h-1.6zM296.3,418.9h1.6v1.6h-1.6zM290.4,424.3h1.6v1.6h-1.6zM287.3,425.8h1.6v1.6h-1.6zM281.9,428.0h1.6v1.6h-1.6zM281.1,427.7h1.6v1.6h-1.6zM280.9,425.4h1.6v1.6h-1.6zM287.5,416.3h1.6v1.6h-1.6zM286.3,433.2h1.6v1.6h-1.6zM287.4,435.1h1.6v1.6h-1.6zM280.7,432.3h1.6v1.6h-1.6zM288.6,405.4h1.6v1.6h-1.6zM286.6,434.7h1.6v1.6h-1.6zM286.3,427.9h1.6v1.6h-1.6zM285.9,426.3h1.6v1.6h-1.6zM280.4,422.1h1.6v1.6h-1.6zM286.6,429.4h1.6v1.6h-1.6zM290.5,431.7h1.6v1.6h-1.6zM286.2,414.9h1.6v1.6h-1.6zM289.2,432.9h1.6v1.6h-1.6zM280.3,423.7h1.6v1.6h-1.6zM288.3,421.3h1.6v1.6h-1.6zM293.9,421.5h1.6v1.6h-1.6zM284.1,418.3h1.6v1.6h-1.6zM288.8,438.0h1.6v1.6h-1.6zM288.0,427.5h1.6v1.6h-1.6zM284.5,434.0h1.6v1.6h-1.6zM285.1,424.5h1.6v1.6h-1.6zM283.5,412.2h1.6v1.6h-1.6zM288.1,428.6h1.6v1.6h-1.6zM277.1,418.2h1.6v1.6h-1.6zM280.2,425.0h1.6v1.6h-1.6zM280.5,433.7h1.6v1.6h-1.6zM293.9,422.4h1.6v1.6h-1.6zM286.8,419.0h1.6v1.6h-1.6zM294.6,418.8h1.6v1.6h-1.6zM281.9,427.6h1.6v1.6h-1.6zM285.5,425.6h1.6v1.6h-1.6zM280.7,426.9h1.6v1.6h-1.6zM283.0,424.2h1.6v1.6h-1.6zM292.7,422.8h1.6v1.6h-1.6zM289.2,422.5h1.6v1.6h-1.6zM292.7,421.5h1.6v1.6h-1.6zM280.9,425.6h1.6v1.6h-1.6zM294.2,424.3h1.6v1.6h-1.6zM281.4,426.4h1.6v1.6h-1.6zM282.4,429.7h1.6v1.6h-1.6zM282.6,430.1h1.6v1.6h-1.6zM292.1,431.5h1.6v1.6h-1.6zM295.7,430.0h1.6v1.6h-1.6zM297.8,437.8h1.6v1.6h-1.6zM285.0,433.8h1.6v1.6h-1.6zM282.3,426.0h1.6v1.6h-1.6zM286.2,421.3h1.6v1.6h-1.6zM288.5,426.9h1.6v1.6h-1.6zM298.6,433.8h1.6v1.6h-1.6zM285.2,422.2h1.6v1.6h-1.6zM283.5,422.1h1.6v1.6h-1.6zM282.2,427.7h1.6v1.6h-1.6zM278.6,425.1h1.6v1.6h-1.6zM289.6,422.9h1.6v1.6h-1.6zM280.0,423.6h1.6v1.6h-1.6zM291.8,421.5h1.6v1.6h-1.6zM296.0,414.3h1.6v1.6h-1.6zM281.9,432.4h1.6v1.6h-1.6zM294.7,426.0h1.6v1.6h-1.6zM276.8,425.3h1.6v1.6h-1.6zM281.3,422.1h1.6v1.6h-1.6zM284.4,422.8h1.6v1.6h-1.6zM286.4,428.7h1.6v1.6h-1.6zM285.0,413.3h1.6v1.6h-1.6zM285.6,406.7h1.6v1.6h-1.6zM287.1,424.2h1.6v1.6h-1.6zM296.6,438.3h1.6v1.6h-1.6zM288.0,423.7h1.6v1.6h-1.6zM286.2,426.4h1.6v1.6h-1.6zM283.2,427.0h1.6v1.6h-1.6zM291.7,420.3h1.6v1.6h-1.6zM293.0,428.7h1.6v1.6h-1.6zM300.0,429.1h1.6v1.6h-1.6zM294.3,419.7h1.6v1.6h-1.6zM301.1,428.3h1.6v1.6h-1.6zM287.7,417.8h1.6v1.6h-1.6zM290.4,432.0h1.6v1.6h-1.6zM286.6,423.9h1.6v1.6h-1.6zM284.1,430.5h1.6v1.6h-1.6zM283.7,422.0h1.6v1.6h-1.6zM288.4,420.6h1.6v1.6h-1.6zM292.3,414.9h1.6v1.6h-1.6zM290.3,437.1h1.6v1.6h-1.6zM284.1,429.4h1.6v1.6h-1.6zM291.7,424.2h1.6v1.6h-1.6zM285.4,426.2h1.6v1.6h-1.6zM303.0,421.2h1.6v1.6h-1.6zM285.7,424.1h1.6v1.6h-1.6zM283.5,420.3h1.6v1.6h-1.6zM282.8,428.9h1.6v1.6h-1.6zM279.1,419.9h1.6v1.6h-1.6zM286.6,419.9h1.6v1.6h-1.6zM282.2,425.9h1.6v1.6h-1.6zM283.4,421.0h1.6v1.6h-1.6zM288.1,421.5h1.6v1.6h-1.6zM285.2,430.2h1.6v1.6h-1.6zM291.0,429.3h1.6v1.6h-1.6zM293.3,428.9h1.6v1.6h-1.6zM278.0,439.4h1.6v1.6h-1.6zM303.8,434.1h1.6v1.6h-1.6zM296.3,436.5h1.6v1.6h-1.6zM284.2,432.7h1.6v1.6h-1.6zM282.7,423.2h1.6v1.6h-1.6zM290.2,428.4h1.6v1.6h-1.6zM282.9,416.5h1.6v1.6h-1.6zM291.6,427.7h1.6v1.6h-1.6zM287.7,420.7h1.6v1.6h-1.6zM282.2,427.4h1.6v1.6h-1.6zM275.7,437.3h1.6v1.6h-1.6zM286.9,436.4h1.6v1.6h-1.6zM292.5,423.2h1.6v1.6h-1.6zM289.9,418.9h1.6v1.6h-1.6zM281.4,438.3h1.6v1.6h-1.6zM283.6,421.6h1.6v1.6h-1.6zM289.6,428.0h1.6v1.6h-1.6zM292.6,417.6h1.6v1.6h-1.6zM285.3,419.2h1.6v1.6h-1.6zM287.0,425.6h1.6v1.6h-1.6zM281.2,413.9h1.6v1.6h-1.6zM278.7,435.2h1.6v1.6h-1.6zM284.6,419.1h1.6v1.6h-1.6zM287.9,418.9h1.6v1.6h-1.6zM292.3,434.7h1.6v1.6h-1.6zM287.1,423.2h1.6v1.6h-1.6zM275.9,431.6h1.6v1.6h-1.6zM298.9,429.3h1.6v1.6h-1.6zM283.6,434.1h1.6v1.6h-1.6zM284.5,418.1h1.6v1.6h-1.6zM286.2,432.5h1.6v1.6h-1.6zM275.9,436.0h1.6v1.6h-1.6zM296.5,427.6h1.6v1.6h-1.6zM284.0,416.5h1.6v1.6h-1.6zM290.0,425.6h1.6v1.6h-1.6zM294.2,429.2h1.6v1.6h-1.6zM276.0,438.3h1.6v1.6h-1.6zM284.0,424.0h1.6v1.6h-1.6zM293.2,431.6h1.6v1.6h-1.6zM280.6,425.1h1.6v1.6h-1.6zM285.1,426.6h1.6v1.6h-1.6zM286.1,433.0h1.6v1.6h-1.6zM291.2,422.0h1.6v1.6h-1.6zM284.2,434.7h1.6v1.6h-1.6zM296.7,416.2h1.6v1.6h-1.6zM298.3,423.3h1.6v1.6h-1.6zM285.7,424.4h1.6v1.6h-1.6zM290.4,426.3h1.6v1.6h-1.6zM286.6,420.5h1.6v1.6h-1.6zM295.6,430.7h1.6v1.6h-1.6zM290.8,438.8h1.6v1.6h-1.6zM285.3,429.0h1.6v1.6h-1.6zM286.0,434.7h1.6v1.6h-1.6zM288.6,414.4h1.6v1.6h-1.6zM290.3,426.1h1.6v1.6h-1.6zM288.4,435.5h1.6v1.6h-1.6zM285.3,432.9h1.6v1.6h-1.6zM287.0,427.2h1.6v1.6h-1.6zM283.9,427.0h1.6v1.6h-1.6zM285.1,434.1h1.6v1.6h-1.6zM273.2,432.4h1.6v1.6h-1.6zM286.5,419.6h1.6v1.6h-1.6zM291.6,427.6h1.6v1.6h-1.6zM290.2,438.5h1.6v1.6h-1.6zM288.2,415.3h1.6v1.6h-1.6zM277.4,427.4h1.6v1.6h-1.6zM286.4,413.7h1.6v1.6h-1.6zM274.0,423.6h1.6v1.6h-1.6zM273.2,434.8h1.6v1.6h-1.6zM284.0,436.8h1.6v1.6h-1.6zM280.0,424.3h1.6v1.6h-1.6zM293.4,415.1h1.6v1.6h-1.6zM290.9,439.4h1.6v1.6h-1.6zM281.0,426.7h1.6v1.6h-1.6zM296.6,427.1h1.6v1.6h-1.6zM284.8,426.6h1.6v1.6h-1.6zM284.7,434.4h1.6v1.6h-1.6zM292.0,432.0h1.6v1.6h-1.6zM282.9,434.1h1.6v1.6h-1.6zM289.9,429.8h1.6v1.6h-1.6zM294.3,424.9h1.6v1.6h-1.6zM287.7,436.7h1.6v1.6h-1.6zM282.5,435.0h1.6v1.6h-1.6zM294.7,423.4h1.6v1.6h-1.6zM297.7,424.3h1.6v1.6h-1.6zM279.9,425.7h1.6v1.6h-1.6zM284.9,420.9h1.6v1.6h-1.6zM292.8,432.0h1.6v1.6h-1.6zM290.7,417.1h1.6v1.6h-1.6zM297.9,431.7h1.6v1.6h-1.6zM293.9,430.8h1.6v1.6h-1.6zM289.2,434.1h1.6v1.6h-1.6zM288.0,439.0h1.6v1.6h-1.6zM284.0,411.9h1.6v1.6h-1.6zM284.9,427.9h1.6v1.6h-1.6zM289.5,428.8h1.6v1.6h-1.6zM289.6,431.6h1.6v1.6h-1.6zM286.0,432.4h1.6v1.6h-1.6zM290.3,421.9h1.6v1.6h-1.6zM276.6,429.8h1.6v1.6h-1.6zM290.0,436.6h1.6v1.6h-1.6zM293.7,430.4h1.6v1.6h-1.6zM294.0,423.5h1.6v1.6h-1.6zM284.3,438.7h1.6v1.6h-1.6zM280.0,427.9h1.6v1.6h-1.6zM280.8,418.5h1.6v1.6h-1.6zM299.7,414.1h1.6v1.6h-1.6zM297.6,424.5h1.6v1.6h-1.6zM282.6,414.9h1.6v1.6h-1.6zM288.4,433.0h1.6v1.6h-1.6zM290.5,420.9h1.6v1.6h-1.6zM296.8,429.7h1.6v1.6h-1.6zM290.2,432.8h1.6v1.6h-1.6zM290.4,425.5h1.6v1.6h-1.6zM289.2,422.4h1.6v1.6h-1.6zM288.6,420.5h1.6v1.6h-1.6zM278.6,423.4h1.6v1.6h-1.6zM286.2,422.7h1.6v1.6h-1.6zM285.3,423.8h1.6v1.6h-1.6zM290.6,434.8h1.6v1.6h-1.6zM293.0,434.9h1.6v1.6h-1.6zM289.6,434.8h1.6v1.6h-1.6zM293.5,426.8h1.6v1.6h-1.6zM285.5,428.0h1.6v1.6h-1.6zM286.8,431.8h1.6v1.6h-1.6zM284.5,424.8h1.6v1.6h-1.6zM288.5,432.0h1.6v1.6h-1.6zM286.5,416.4h1.6v1.6h-1.6zM285.6,434.7h1.6v1.6h-1.6zM285.8,437.9h1.6v1.6h-1.6zM284.1,426.2h1.6v1.6h-1.6zM291.8,437.2h1.6v1.6h-1.6zM288.2,431.2h1.6v1.6h-1.6zM297.7,434.7h1.6v1.6h-1.6zM285.8,427.6h1.6v1.6h-1.6zM281.8,436.9h1.6v1.6h-1.6zM294.3,428.3h1.6v1.6h-1.6zM283.5,425.7h1.6v1.6h-1.6zM294.5,427.2h1.6v1.6h-1.6zM293.9,437.8h1.6v1.6h-1.6zM295.9,430.1h1.6v1.6h-1.6zM291.4,418.2h1.6v1.6h-1.6zM289.2,428.4h1.6v1.6h-1.6zM292.6,414.4h1.6v1.6h-1.6zM288.1,424.5h1.6v1.6h-1.6zM287.7,427.1h1.6v1.6h-1.6zM285.1,432.9h1.6v1.6h-1.6zM288.7,437.1h1.6v1.6h-1.6zM301.9,433.9h1.6v1.6h-1.6zM280.5,424.5h1.6v1.6h-1.6zM287.5,417.7h1.6v1.6h-1.6zM283.5,429.5h1.6v1.6h-1.6zM289.6,417.3h1.6v1.6h-1.6zM277.4,430.9h1.6v1.6h-1.6zM289.9,434.5h1.6v1.6h-1.6zM283.8,423.5h1.6v1.6h-1.6zM305.3,427.4h1.6v1.6h-1.6zM281.1,417.9h1.6v1.6h-1.6zM291.3,421.2h1.6v1.6h-1.6zM279.0,423.3h1.6v1.6h-1.6zM287.0,430.5h1.6v1.6h-1.6zM290.0,436.9h1.6v1.6h-1.6zM279.3,416.1h1.6v1.6h-1.6zM286.6,432.8h1.6v1.6h-1.6zM283.9,430.3h1.6v1.6h-1.6zM286.6,437.3h1.6v1.6h-1.6zM285.9,424.5h1.6v1.6h-1.6zM290.1,436.0h1.6v1.6h-1.6zM283.3,427.3h1.6v1.6h-1.6zM282.9,419.3h1.6v1.6h-1.6zM301.5,423.4h1.6v1.6h-1.6zM285.2,425.5h1.6v1.6h-1.6zM282.3,427.1h1.6v1.6h-1.6zM286.6,431.1h1.6v1.6h-1.6zM283.8,417.1h1.6v1.6h-1.6zM286.3,433.7h1.6v1.6h-1.6zM294.6,427.5h1.6v1.6h-1.6zM285.5,422.3h1.6v1.6h-1.6zM295.9,423.5h1.6v1.6h-1.6zM284.1,427.8h1.6v1.6h-1.6zM285.8,428.7h1.6v1.6h-1.6zM290.1,431.5h1.6v1.6h-1.6zM290.2,435.1h1.6v1.6h-1.6zM285.2,427.5h1.6v1.6h-1.6zM284.9,426.8h1.6v1.6h-1.6zM284.8,434.4h1.6v1.6h-1.6zM293.4,427.8h1.6v1.6h-1.6zM285.4,434.8h1.6v1.6h-1.6zM285.9,432.5h1.6v1.6h-1.6zM283.3,439.2h1.6v1.6h-1.6zM284.4,432.6h1.6v1.6h-1.6zM297.3,431.4h1.6v1.6h-1.6zM285.6,434.1h1.6v1.6h-1.6zM296.1,410.8h1.6v1.6h-1.6zM284.8,427.1h1.6v1.6h-1.6zM292.2,416.4h1.6v1.6h-1.6zM291.9,428.7h1.6v1.6h-1.6zM290.5,420.2h1.6v1.6h-1.6zM287.9,432.9h1.6v1.6h-1.6zM281.0,405.9h1.6v1.6h-1.6zM286.7,426.5h1.6v1.6h-1.6zM291.1,428.7h1.6v1.6h-1.6zM279.3,410.6h1.6v1.6h-1.6zM293.7,435.9h1.6v1.6h-1.6zM286.3,426.3h1.6v1.6h-1.6zM291.3,424.0h1.6v1.6h-1.6zM279.5,438.1h1.6v1.6h-1.6zM278.9,425.0h1.6v1.6h-1.6zM294.8,432.0h1.6v1.6h-1.6zM288.3,416.6h1.6v1.6h-1.6zM276.9,410.7h1.6v1.6h-1.6zM291.5,416.8h1.6v1.6h-1.6zM286.4,429.0h1.6v1.6h-1.6zM289.2,428.0h1.6v1.6h-1.6zM294.8,430.9h1.6v1.6h-1.6zM293.5,427.6h1.6v1.6h-1.6zM287.3,429.5h1.6v1.6h-1.6zM290.0,434.4h1.6v1.6h-1.6zM284.2,433.1h1.6v1.6h-1.6zM303.6,406.8h1.6v1.6h-1.6zM290.9,427.3h1.6v1.6h-1.6zM285.8,423.5h1.6v1.6h-1.6zM280.1,430.2h1.6v1.6h-1.6zM287.8,416.8h1.6v1.6h-1.6zM289.7,429.9h1.6v1.6h-1.6zM292.2,409.1h1.6v1.6h-1.6zM287.6,411.9h1.6v1.6h-1.6zM289.7,432.1h1.6v1.6h-1.6zM295.5,432.7h1.6v1.6h-1.6zM281.2,437.6h1.6v1.6h-1.6zM291.4,437.8h1.6v1.6h-1.6zM286.1,436.5h1.6v1.6h-1.6zM274.6,417.5h1.6v1.6h-1.6zM290.6,429.6h1.6v1.6h-1.6zM286.2,424.9h1.6v1.6h-1.6zM293.8,413.9h1.6v1.6h-1.6zM277.2,410.2h1.6v1.6h-1.6zM281.3,428.2h1.6v1.6h-1.6zM290.4,423.6h1.6v1.6h-1.6zM291.9,424.1h1.6v1.6h-1.6zM277.5,436.4h1.6v1.6h-1.6zM287.2,422.9h1.6v1.6h-1.6zM277.3,407.9h1.6v1.6h-1.6zM280.8,434.0h1.6v1.6h-1.6zM281.7,417.4h1.6v1.6h-1.6zM282.5,433.0h1.6v1.6h-1.6zM290.7,438.1h1.6v1.6h-1.6zM296.7,431.7h1.6v1.6h-1.6zM289.5,421.3h1.6v1.6h-1.6zM290.3,431.2h1.6v1.6h-1.6zM287.5,426.4h1.6v1.6h-1.6zM294.7,428.6h1.6v1.6h-1.6zM279.7,430.9h1.6v1.6h-1.6zM293.2,415.2h1.6v1.6h-1.6zM280.5,430.3h1.6v1.6h-1.6zM289.6,432.8h1.6v1.6h-1.6zM288.9,434.0h1.6v1.6h-1.6zM282.5,426.3h1.6v1.6h-1.6zM286.6,431.8h1.6v1.6h-1.6zM299.0,435.4h1.6v1.6h-1.6zM280.9,431.3h1.6v1.6h-1.6zM297.5,429.1h1.6v1.6h-1.6zM291.8,429.8h1.6v1.6h-1.6zM280.4,428.8h1.6v1.6h-1.6zM284.8,418.0h1.6v1.6h-1.6zM286.3,425.2h1.6v1.6h-1.6zM285.7,434.2h1.6v1.6h-1.6zM280.8,429.0h1.6v1.6h-1.6zM289.5,430.6h1.6v1.6h-1.6zM288.9,429.0h1.6v1.6h-1.6zM277.7,411.5h1.6v1.6h-1.6zM283.7,425.1h1.6v1.6h-1.6zM281.6,422.0h1.6v1.6h-1.6zM286.6,434.8h1.6v1.6h-1.6zM291.3,429.7h1.6v1.6h-1.6zM293.1,423.7h1.6v1.6h-1.6zM286.1,418.8h1.6v1.6h-1.6zM286.5,435.5h1.6v1.6h-1.6zM281.9,427.6h1.6v1.6h-1.6zM285.7,427.8h1.6v1.6h-1.6zM284.7,430.6h1.6v1.6h-1.6zM279.7,429.3h1.6v1.6h-1.6zM297.3,419.4h1.6v1.6h-1.6zM292.1,422.6h1.6v1.6h-1.6zM291.3,433.3h1.6v1.6h-1.6zM297.2,433.5h1.6v1.6h-1.6zM286.6,409.7h1.6v1.6h-1.6zM284.6,418.5h1.6v1.6h-1.6zM276.8,433.0h1.6v1.6h-1.6zM272.7,431.3h1.6v1.6h-1.6zM292.1,424.5h1.6v1.6h-1.6zM280.8,426.0h1.6v1.6h-1.6zM296.6,418.9h1.6v1.6h-1.6zM282.3,432.5h1.6v1.6h-1.6zM283.4,438.8h1.6v1.6h-1.6zM282.8,418.4h1.6v1.6h-1.6zM278.1,426.4h1.6v1.6h-1.6zM293.8,428.3h1.6v1.6h-1.6zM283.6,415.9h1.6v1.6h-1.6zM288.7,422.7h1.6v1.6h-1.6zM301.2,418.6h1.6v1.6h-1.6zM278.9,417.8h1.6v1.6h-1.6zM288.3,432.9h1.6v1.6h-1.6zM288.5,437.7h1.6v1.6h-1.6zM291.4,423.4h1.6v1.6h-1.6zM297.3,421.9h1.6v1.6h-1.6zM288.4,428.5h1.6v1.6h-1.6zM294.1,427.9h1.6v1.6h-1.6zM289.2,412.4h1.6v1.6h-1.6zM286.7,429.3h1.6v1.6h-1.6zM296.3,414.2h1.6v1.6h-1.6zM279.9,435.0h1.6v1.6h-1.6zM301.2,429.4h1.6v1.6h-1.6zM274.3,413.8h1.6v1.6h-1.6zM284.9,421.0h1.6v1.6h-1.6zM290.1,436.7h1.6v1.6h-1.6zM291.9,420.6h1.6v1.6h-1.6zM282.9,426.6h1.6v1.6h-1.6zM289.7,432.7h1.6v1.6h-1.6zM284.7,436.5h1.6v1.6h-1.6zM291.5,425.7h1.6v1.6h-1.6zM291.1,425.8h1.6v1.6h-1.6zM285.1,435.9h1.6v1.6h-1.6zM289.5,429.3h1.6v1.6h-1.6zM282.7,426.1h1.6v1.6h-1.6zM279.3,429.2h1.6v1.6h-1.6zM281.5,417.1h1.6v1.6h-1.6zM318.6,411.4h1.6v1.6h-1.6zM306.8,434.6h1.6v1.6h-1.6zM298.5,424.8h1.6v1.6h-1.6zM292.8,429.3h1.6v1.6h-1.6zM297.6,430.0h1.6v1.6h-1.6zM300.4,407.8h1.6v1.6h-1.6zM279.1,423.9h1.6v1.6h-1.6zM292.8,410.6h1.6v1.6h-1.6zM303.8,429.2h1.6v1.6h-1.6zM296.6,434.8h1.6v1.6h-1.6zM300.2,423.1h1.6v1.6h-1.6zM286.6,435.9h1.6v1.6h-1.6zM287.9,416.8h1.6v1.6h-1.6zM282.8,431.2h1.6v1.6h-1.6zM296.2,422.6h1.6v1.6h-1.6zM303.8,415.9h1.6v1.6h-1.6zM302.5,419.0h1.6v1.6h-1.6zM291.6,422.2h1.6v1.6h-1.6zM295.7,438.3h1.6v1.6h-1.6zM286.6,434.6h1.6v1.6h-1.6zM307.0,422.6h1.6v1.6h-1.6zM286.1,412.7h1.6v1.6h-1.6zM291.2,425.5h1.6v1.6h-1.6zM282.9,428.7h1.6v1.6h-1.6zM296.2,434.2h1.6v1.6h-1.6zM316.5,434.5h1.6v1.6h-1.6zM284.0,422.9h1.6v1.6h-1.6zM278.9,420.0h1.6v1.6h-1.6zM277.6,435.7h1.6v1.6h-1.6zM294.7,408.7h1.6v1.6h-1.6zM302.0,437.3h1.6v1.6h-1.6zM313.0,421.6h1.6v1.6h-1.6zM301.6,426.2h1.6v1.6h-1.6zM309.3,424.2h1.6v1.6h-1.6zM305.7,414.0h1.6v1.6h-1.6zM285.9,413.3h1.6v1.6h-1.6zM291.3,411.5h1.6v1.6h-1.6zM294.9,418.5h1.6v1.6h-1.6zM277.8,426.6h1.6v1.6h-1.6zM305.8,429.4h1.6v1.6h-1.6zM297.1,421.8h1.6v1.6h-1.6zM291.3,408.1h1.6v1.6h-1.6zM315.0,407.4h1.6v1.6h-1.6zM283.4,413.7h1.6v1.6h-1.6zM281.3,425.7h1.6v1.6h-1.6zM285.0,418.6h1.6v1.6h-1.6zM297.2,412.0h1.6v1.6h-1.6zM280.9,428.8h1.6v1.6h-1.6zM287.7,405.6h1.6v1.6h-1.6zM299.9,409.6h1.6v1.6h-1.6zM293.0,424.3h1.6v1.6h-1.6zM296.4,426.9h1.6v1.6h-1.6zM288.6,423.8h1.6v1.6h-1.6zM274.8,426.8h1.6v1.6h-1.6zM284.9,432.9h1.6v1.6h-1.6zM292.5,429.3h1.6v1.6h-1.6zM288.0,421.6h1.6v1.6h-1.6zM298.5,430.6h1.6v1.6h-1.6zM288.8,396.5h1.6v1.6h-1.6zM294.7,431.3h1.6v1.6h-1.6zM307.2,421.5h1.6v1.6h-1.6zM305.0,388.0h1.6v1.6h-1.6zM288.5,417.6h1.6v1.6h-1.6zM316.1,421.6h1.6v1.6h-1.6zM321.8,424.5h1.6v1.6h-1.6zM288.2,418.2h1.6v1.6h-1.6zM283.8,425.4h1.6v1.6h-1.6zM294.7,414.0h1.6v1.6h-1.6zM312.8,434.8h1.6v1.6h-1.6zM289.7,429.4h1.6v1.6h-1.6zM291.2,419.0h1.6v1.6h-1.6zM283.6,417.3h1.6v1.6h-1.6zM291.7,420.8h1.6v1.6h-1.6zM305.8,415.5h1.6v1.6h-1.6zM301.3,408.6h1.6v1.6h-1.6zM297.6,431.6h1.6v1.6h-1.6zM334.0,439.2h1.6v1.6h-1.6zM334.5,417.1h1.6v1.6h-1.6zM338.2,414.2h1.6v1.6h-1.6zM337.3,414.3h1.6v1.6h-1.6zM335.3,420.5h1.6v1.6h-1.6zM340.4,410.8h1.6v1.6h-1.6zM336.7,431.6h1.6v1.6h-1.6zM337.6,411.0h1.6v1.6h-1.6zM335.1,437.4h1.6v1.6h-1.6zM337.7,437.8h1.6v1.6h-1.6zM339.5,424.7h1.6v1.6h-1.6zM336.6,425.3h1.6v1.6h-1.6zM337.3,417.5h1.6v1.6h-1.6zM335.7,432.3h1.6v1.6h-1.6zM334.3,428.5h1.6v1.6h-1.6zM335.7,423.1h1.6v1.6h-1.6zM336.0,408.7h1.6v1.6h-1.6zM338.4,407.7h1.6v1.6h-1.6zM336.9,437.5h1.6v1.6h-1.6zM334.7,438.4h1.6v1.6h-1.6zM340.6,421.5h1.6v1.6h-1.6zM333.6,438.6h1.6v1.6h-1.6zM333.5,427.1h1.6v1.6h-1.6zM335.5,417.0h1.6v1.6h-1.6zM336.8,413.2h1.6v1.6h-1.6zM337.3,435.9h1.6v1.6h-1.6zM336.1,410.4h1.6v1.6h-1.6zM335.2,427.0h1.6v1.6h-1.6zM336.3,407.0h1.6v1.6h-1.6zM338.3,410.6h1.6v1.6h-1.6zM338.8,410.6h1.6v1.6h-1.6zM340.0,412.6h1.6v1.6h-1.6zM340.6,436.8h1.6v1.6h-1.6zM337.8,413.2h1.6v1.6h-1.6zM337.5,418.6h1.6v1.6h-1.6zM338.1,418.4h1.6v1.6h-1.6zM335.5,414.9h1.6v1.6h-1.6zM338.2,433.7h1.6v1.6h-1.6zM337.7,430.4h1.6v1.6h-1.6zM334.5,420.8h1.6v1.6h-1.6zM339.8,430.0h1.6v1.6h-1.6zM341.7,426.8h1.6v1.6h-1.6zM339.4,424.2h1.6v1.6h-1.6zM342.4,410.2h1.6v1.6h-1.6zM337.7,430.4h1.6v1.6h-1.6zM333.8,418.8h1.6v1.6h-1.6zM336.1,414.4h1.6v1.6h-1.6zM336.8,410.7h1.6v1.6h-1.6zM333.1,435.4h1.6v1.6h-1.6zM339.7,406.7h1.6v1.6h-1.6zM338.7,427.2h1.6v1.6h-1.6zM337.3,428.3h1.6v1.6h-1.6zM340.5,412.1h1.6v1.6h-1.6zM338.2,415.3h1.6v1.6h-1.6zM335.2,422.9h1.6v1.6h-1.6zM334.9,419.6h1.6v1.6h-1.6zM337.3,438.0h1.6v1.6h-1.6zM340.7,410.4h1.6v1.6h-1.6zM334.3,434.0h1.6v1.6h-1.6zM338.3,407.8h1.6v1.6h-1.6zM341.3,416.2h1.6v1.6h-1.6zM335.2,419.8h1.6v1.6h-1.6zM334.7,436.0h1.6v1.6h-1.6zM335.2,424.2h1.6v1.6h-1.6zM339.8,438.1h1.6v1.6h-1.6zM337.5,433.4h1.6v1.6h-1.6zM339.1,429.9h1.6v1.6h-1.6zM339.7,431.8h1.6v1.6h-1.6zM335.3,422.6h1.6v1.6h-1.6zM335.1,433.2h1.6v1.6h-1.6zM339.0,419.1h1.6v1.6h-1.6zM335.0,409.8h1.6v1.6h-1.6zM337.8,420.0h1.6v1.6h-1.6zM338.2,437.0h1.6v1.6h-1.6zM338.3,422.9h1.6v1.6h-1.6zM334.3,435.6h1.6v1.6h-1.6zM339.5,420.0h1.6v1.6h-1.6zM337.0,427.5h1.6v1.6h-1.6zM337.5,432.8h1.6v1.6h-1.6zM337.6,409.5h1.6v1.6h-1.6zM336.2,412.9h1.6v1.6h-1.6zM338.9,411.6h1.6v1.6h-1.6zM338.6,419.7h1.6v1.6h-1.6zM340.9,415.3h1.6v1.6h-1.6zM339.0,438.8h1.6v1.6h-1.6zM339.2,426.3h1.6v1.6h-1.6zM341.5,434.3h1.6v1.6h-1.6zM337.1,416.2h1.6v1.6h-1.6zM335.1,426.9h1.6v1.6h-1.6zM337.0,418.3h1.6v1.6h-1.6zM338.1,434.1h1.6v1.6h-1.6zM334.4,430.4h1.6v1.6h-1.6zM337.0,422.4h1.6v1.6h-1.6zM337.0,420.7h1.6v1.6h-1.6zM335.6,438.6h1.6v1.6h-1.6zM334.4,418.1h1.6v1.6h-1.6zM333.8,424.4h1.6v1.6h-1.6zM337.1,432.7h1.6v1.6h-1.6zM335.9,414.4h1.6v1.6h-1.6zM333.1,410.8h1.6v1.6h-1.6zM338.1,431.4h1.6v1.6h-1.6zM335.6,429.6h1.6v1.6h-1.6zM335.9,425.4h1.6v1.6h-1.6zM337.0,424.9h1.6v1.6h-1.6zM339.5,432.8h1.6v1.6h-1.6zM336.5,425.8h1.6v1.6h-1.6zM340.3,417.7h1.6v1.6h-1.6zM339.8,437.5h1.6v1.6h-1.6zM338.8,421.8h1.6v1.6h-1.6zM335.0,435.9h1.6v1.6h-1.6zM341.8,422.4h1.6v1.6h-1.6zM334.1,419.0h1.6v1.6h-1.6zM336.4,436.4h1.6v1.6h-1.6zM340.7,438.2h1.6v1.6h-1.6zM337.9,411.7h1.6v1.6h-1.6zM336.3,432.4h1.6v1.6h-1.6zM337.4,421.6h1.6v1.6h-1.6zM339.9,432.2h1.6v1.6h-1.6zM339.9,437.8h1.6v1.6h-1.6zM339.2,420.0h1.6v1.6h-1.6zM338.0,433.0h1.6v1.6h-1.6zM338.6,425.2h1.6v1.6h-1.6zM340.7,420.2h1.6v1.6h-1.6zM337.1,418.1h1.6v1.6h-1.6zM334.4,427.6h1.6v1.6h-1.6zM337.1,437.3h1.6v1.6h-1.6zM333.7,438.6h1.6v1.6h-1.6zM333.9,413.9h1.6v1.6h-1.6zM338.6,428.7h1.6v1.6h-1.6zM336.5,418.7h1.6v1.6h-1.6zM339.3,423.3h1.6v1.6h-1.6zM340.8,412.3h1.6v1.6h-1.6zM337.8,414.8h1.6v1.6h-1.6zM335.7,433.6h1.6v1.6h-1.6zM337.4,433.4h1.6v1.6h-1.6zM338.0,424.5h1.6v1.6h-1.6zM339.7,428.6h1.6v1.6h-1.6zM333.1,414.3h1.6v1.6h-1.6zM334.7,439.1h1.6v1.6h-1.6zM341.8,416.5h1.6v1.6h-1.6zM334.5,424.1h1.6v1.6h-1.6zM338.9,439.4h1.6v1.6h-1.6zM336.2,414.3h1.6v1.6h-1.6zM339.2,426.2h1.6v1.6h-1.6zM333.0,423.2h1.6v1.6h-1.6zM334.6,418.6h1.6v1.6h-1.6zM340.3,423.9h1.6v1.6h-1.6zM339.8,410.6h1.6v1.6h-1.6zM335.4,421.1h1.6v1.6h-1.6zM337.3,423.5h1.6v1.6h-1.6zM338.3,432.5h1.6v1.6h-1.6zM340.6,423.3h1.6v1.6h-1.6zM337.9,422.9h1.6v1.6h-1.6zM336.9,413.9h1.6v1.6h-1.6zM339.5,421.7h1.6v1.6h-1.6zM336.2,412.6h1.6v1.6h-1.6zM339.1,416.9h1.6v1.6h-1.6zM338.2,421.8h1.6v1.6h-1.6zM338.0,414.4h1.6v1.6h-1.6zM338.6,416.7h1.6v1.6h-1.6zM334.1,425.7h1.6v1.6h-1.6zM333.1,416.8h1.6v1.6h-1.6zM333.8,438.3h1.6v1.6h-1.6zM336.9,424.9h1.6v1.6h-1.6zM334.9,412.0h1.6v1.6h-1.6zM332.8,419.7h1.6v1.6h-1.6zM336.9,416.0h1.6v1.6h-1.6zM333.4,423.8h1.6v1.6h-1.6zM336.2,421.1h1.6v1.6h-1.6zM335.0,432.1h1.6v1.6h-1.6zM337.2,416.1h1.6v1.6h-1.6zM335.4,435.6h1.6v1.6h-1.6zM336.2,410.6h1.6v1.6h-1.6zM339.7,419.2h1.6v1.6h-1.6zM341.9,410.9h1.6v1.6h-1.6zM334.7,432.7h1.6v1.6h-1.6zM338.2,426.5h1.6v1.6h-1.6zM338.1,427.9h1.6v1.6h-1.6zM337.8,426.6h1.6v1.6h-1.6zM331.9,425.7h1.6v1.6h-1.6zM336.9,427.1h1.6v1.6h-1.6zM337.6,431.0h1.6v1.6h-1.6zM332.0,418.7h1.6v1.6h-1.6zM337.1,439.3h1.6v1.6h-1.6zM338.3,419.8h1.6v1.6h-1.6zM334.4,427.8h1.6v1.6h-1.6zM336.5,428.6h1.6v1.6h-1.6zM338.1,415.5h1.6v1.6h-1.6zM337.0,414.0h1.6v1.6h-1.6zM337.5,432.0h1.6v1.6h-1.6zM336.9,411.0h1.6v1.6h-1.6zM332.7,416.8h1.6v1.6h-1.6zM336.8,421.6h1.6v1.6h-1.6zM335.9,416.9h1.6v1.6h-1.6zM338.3,434.3h1.6v1.6h-1.6zM337.1,435.3h1.6v1.6h-1.6zM340.3,425.2h1.6v1.6h-1.6zM334.4,409.6h1.6v1.6h-1.6zM337.0,406.4h1.6v1.6h-1.6zM336.1,417.3h1.6v1.6h-1.6zM338.5,412.3h1.6v1.6h-1.6zM338.2,418.9h1.6v1.6h-1.6zM340.7,413.3h1.6v1.6h-1.6zM334.7,414.4h1.6v1.6h-1.6zM338.4,418.2h1.6v1.6h-1.6zM334.6,426.6h1.6v1.6h-1.6zM338.2,437.0h1.6v1.6h-1.6zM338.8,426.8h1.6v1.6h-1.6zM336.5,388.2h1.6v1.6h-1.6zM336.6,391.0h1.6v1.6h-1.6zM337.7,394.1h1.6v1.6h-1.6zM337.3,394.8h1.6v1.6h-1.6zM337.1,388.6h1.6v1.6h-1.6zM336.8,394.5h1.6v1.6h-1.6zM336.6,397.2h1.6v1.6h-1.6zM340.1,399.1h1.6v1.6h-1.6zM341.1,399.7h1.6v1.6h-1.6zM340.6,402.4h1.6v1.6h-1.6zM339.7,400.1h1.6v1.6h-1.6zM286.5,495.7h1.6v1.6h-1.6zM289.5,499.0h1.6v1.6h-1.6zM284.6,495.5h1.6v1.6h-1.6zM289.0,497.5h1.6v1.6h-1.6zM283.9,501.1h1.6v1.6h-1.6zM283.7,500.0h1.6v1.6h-1.6zM291.2,500.0h1.6v1.6h-1.6zM286.0,495.3h1.6v1.6h-1.6zM293.6,497.6h1.6v1.6h-1.6zM282.6,500.0h1.6v1.6h-1.6zM285.6,499.2h1.6v1.6h-1.6zM279.3,498.6h1.6v1.6h-1.6zM286.6,496.9h1.6v1.6h-1.6zM297.8,499.1h1.6v1.6h-1.6zM280.3,501.5h1.6v1.6h-1.6zM289.2,496.4h1.6v1.6h-1.6zM290.2,502.4h1.6v1.6h-1.6zM283.9,501.1h1.6v1.6h-1.6zM293.3,498.0h1.6v1.6h-1.6zM282.5,498.7h1.6v1.6h-1.6zM290.4,504.0h1.6v1.6h-1.6zM289.8,496.6h1.6v1.6h-1.6zM283.9,500.3h1.6v1.6h-1.6zM283.0,500.3h1.6v1.6h-1.6zM287.0,497.9h1.6v1.6h-1.6zM281.5,500.7h1.6v1.6h-1.6zM282.2,496.4h1.6v1.6h-1.6zM285.0,495.1h1.6v1.6h-1.6zM293.1,503.0h1.6v1.6h-1.6zM288.3,502.2h1.6v1.6h-1.6zM289.0,497.3h1.6v1.6h-1.6zM286.4,493.1h1.6v1.6h-1.6zM279.0,503.1h1.6v1.6h-1.6zM290.3,500.6h1.6v1.6h-1.6zM292.7,497.5h1.6v1.6h-1.6zM290.0,496.0h1.6v1.6h-1.6zM282.2,495.4h1.6v1.6h-1.6zM283.8,493.6h1.6v1.6h-1.6zM284.2,493.4h1.6v1.6h-1.6zM287.8,502.0h1.6v1.6h-1.6zM288.5,493.5h1.6v1.6h-1.6zM289.0,501.2h1.6v1.6h-1.6zM300.6,498.7h1.6v1.6h-1.6zM283.5,496.3h1.6v1.6h-1.6zM282.2,496.5h1.6v1.6h-1.6zM277.0,496.3h1.6v1.6h-1.6zM295.8,491.8h1.6v1.6h-1.6zM282.3,495.1h1.6v1.6h-1.6zM282.9,497.8h1.6v1.6h-1.6zM297.3,499.2h1.6v1.6h-1.6zM296.2,497.1h1.6v1.6h-1.6zM288.9,501.6h1.6v1.6h-1.6zM287.6,500.3h1.6v1.6h-1.6zM289.2,491.7h1.6v1.6h-1.6zM295.5,498.4h1.6v1.6h-1.6zM283.9,493.8h1.6v1.6h-1.6zM289.1,500.1h1.6v1.6h-1.6zM285.9,496.1h1.6v1.6h-1.6zM289.0,500.8h1.6v1.6h-1.6zM288.1,499.9h1.6v1.6h-1.6zM288.1,499.6h1.6v1.6h-1.6zM290.5,499.7h1.6v1.6h-1.6zM284.4,499.3h1.6v1.6h-1.6zM288.4,500.6h1.6v1.6h-1.6zM290.2,499.0h1.6v1.6h-1.6zM294.7,499.3h1.6v1.6h-1.6zM290.5,500.2h1.6v1.6h-1.6zM291.5,501.2h1.6v1.6h-1.6zM294.5,497.3h1.6v1.6h-1.6zM289.1,498.9h1.6v1.6h-1.6zM291.8,503.0h1.6v1.6h-1.6zM294.1,500.4h1.6v1.6h-1.6zM287.3,492.7h1.6v1.6h-1.6zM280.9,499.3h1.6v1.6h-1.6zM281.2,501.3h1.6v1.6h-1.6zM277.4,498.5h1.6v1.6h-1.6zM276.2,500.1h1.6v1.6h-1.6zM282.5,496.7h1.6v1.6h-1.6zM282.5,499.0h1.6v1.6h-1.6zM287.5,497.6h1.6v1.6h-1.6zM281.3,499.7h1.6v1.6h-1.6zM284.0,497.2h1.6v1.6h-1.6zM284.6,496.7h1.6v1.6h-1.6zM285.2,500.4h1.6v1.6h-1.6zM304.1,502.6h1.6v1.6h-1.6zM297.0,500.3h1.6v1.6h-1.6zM281.0,492.1h1.6v1.6h-1.6zM280.2,496.1h1.6v1.6h-1.6zM279.5,499.2h1.6v1.6h-1.6zM284.3,499.5h1.6v1.6h-1.6zM277.6,495.5h1.6v1.6h-1.6zM297.9,497.1h1.6v1.6h-1.6zM283.1,496.8h1.6v1.6h-1.6zM282.9,497.4h1.6v1.6h-1.6zM291.9,494.4h1.6v1.6h-1.6zM282.5,499.7h1.6v1.6h-1.6zM290.5,496.1h1.6v1.6h-1.6zM293.2,500.0h1.6v1.6h-1.6zM283.6,498.7h1.6v1.6h-1.6zM288.3,496.5h1.6v1.6h-1.6zM288.4,501.2h1.6v1.6h-1.6zM286.0,500.5h1.6v1.6h-1.6zM273.9,500.0h1.6v1.6h-1.6zM281.1,496.4h1.6v1.6h-1.6zM292.2,492.4h1.6v1.6h-1.6zM287.1,497.7h1.6v1.6h-1.6zM289.2,493.4h1.6v1.6h-1.6zM283.9,493.6h1.6v1.6h-1.6zM284.0,496.4h1.6v1.6h-1.6zM294.9,495.9h1.6v1.6h-1.6zM286.4,501.4h1.6v1.6h-1.6zM287.5,499.9h1.6v1.6h-1.6zM283.9,496.9h1.6v1.6h-1.6zM293.6,498.2h1.6v1.6h-1.6zM277.0,493.9h1.6v1.6h-1.6zM290.7,498.4h1.6v1.6h-1.6zM294.9,502.2h1.6v1.6h-1.6zM287.1,496.5h1.6v1.6h-1.6zM277.7,498.8h1.6v1.6h-1.6zM281.4,495.8h1.6v1.6h-1.6zM282.3,497.5h1.6v1.6h-1.6zM289.0,498.6h1.6v1.6h-1.6zM282.9,497.9h1.6v1.6h-1.6zM289.4,496.4h1.6v1.6h-1.6zM293.9,498.3h1.6v1.6h-1.6zM281.3,494.0h1.6v1.6h-1.6zM274.5,500.1h1.6v1.6h-1.6zM280.3,492.2h1.6v1.6h-1.6zM287.2,495.8h1.6v1.6h-1.6zM282.6,498.8h1.6v1.6h-1.6zM282.3,496.0h1.6v1.6h-1.6zM280.9,498.7h1.6v1.6h-1.6zM289.3,501.3h1.6v1.6h-1.6zM285.2,495.4h1.6v1.6h-1.6zM291.2,500.8h1.6v1.6h-1.6zM281.0,495.5h1.6v1.6h-1.6zM292.2,492.1h1.6v1.6h-1.6zM286.6,494.2h1.6v1.6h-1.6zM292.6,496.6h1.6v1.6h-1.6zM282.3,497.8h1.6v1.6h-1.6zM283.7,500.4h1.6v1.6h-1.6zM285.6,500.2h1.6v1.6h-1.6zM287.0,499.2h1.6v1.6h-1.6zM280.5,497.0h1.6v1.6h-1.6zM288.9,493.8h1.6v1.6h-1.6zM296.9,495.4h1.6v1.6h-1.6zM292.2,500.6h1.6v1.6h-1.6zM288.0,497.5h1.6v1.6h-1.6zM286.7,498.4h1.6v1.6h-1.6zM291.8,504.1h1.6v1.6h-1.6zM288.2,496.9h1.6v1.6h-1.6zM288.6,498.0h1.6v1.6h-1.6zM289.2,496.1h1.6v1.6h-1.6zM281.3,496.9h1.6v1.6h-1.6zM279.1,499.9h1.6v1.6h-1.6zM287.9,497.6h1.6v1.6h-1.6zM278.4,500.1h1.6v1.6h-1.6zM287.8,494.2h1.6v1.6h-1.6zM285.8,498.6h1.6v1.6h-1.6zM286.9,501.6h1.6v1.6h-1.6zM291.8,495.7h1.6v1.6h-1.6zM281.6,496.4h1.6v1.6h-1.6zM286.0,490.6h1.6v1.6h-1.6zM278.2,498.6h1.6v1.6h-1.6zM281.9,497.6h1.6v1.6h-1.6zM287.8,497.4h1.6v1.6h-1.6zM275.0,501.1h1.6v1.6h-1.6zM281.1,496.8h1.6v1.6h-1.6zM287.4,500.6h1.6v1.6h-1.6zM285.9,493.8h1.6v1.6h-1.6zM276.2,493.3h1.6v1.6h-1.6zM282.9,499.7h1.6v1.6h-1.6zM276.9,493.5h1.6v1.6h-1.6zM283.1,492.7h1.6v1.6h-1.6zM286.6,497.5h1.6v1.6h-1.6zM283.3,496.4h1.6v1.6h-1.6zM281.9,493.5h1.6v1.6h-1.6zM287.2,496.3h1.6v1.6h-1.6zM283.8,499.2h1.6v1.6h-1.6zM290.1,494.1h1.6v1.6h-1.6zM279.5,496.7h1.6v1.6h-1.6zM285.5,494.9h1.6v1.6h-1.6zM291.8,504.3h1.6v1.6h-1.6zM287.0,494.8h1.6v1.6h-1.6zM282.5,497.3h1.6v1.6h-1.6zM286.2,498.9h1.6v1.6h-1.6zM280.8,493.6h1.6v1.6h-1.6zM285.7,499.8h1.6v1.6h-1.6zM281.9,498.9h1.6v1.6h-1.6zM286.2,495.9h1.6v1.6h-1.6zM285.7,500.8h1.6v1.6h-1.6zM291.5,494.6h1.6v1.6h-1.6zM288.2,499.0h1.6v1.6h-1.6zM293.8,499.3h1.6v1.6h-1.6zM284.1,496.6h1.6v1.6h-1.6zM283.8,503.4h1.6v1.6h-1.6zM294.5,499.4h1.6v1.6h-1.6zM289.8,494.4h1.6v1.6h-1.6zM282.2,502.2h1.6v1.6h-1.6zM292.2,496.3h1.6v1.6h-1.6zM280.6,495.4h1.6v1.6h-1.6zM299.4,494.8h1.6v1.6h-1.6zM282.7,495.2h1.6v1.6h-1.6zM290.5,500.3h1.6v1.6h-1.6zM278.6,500.0h1.6v1.6h-1.6zM281.9,498.2h1.6v1.6h-1.6zM288.9,502.4h1.6v1.6h-1.6zM277.5,495.9h1.6v1.6h-1.6zM288.1,500.8h1.6v1.6h-1.6zM288.5,499.2h1.6v1.6h-1.6zM283.4,499.8h1.6v1.6h-1.6zM288.5,497.6h1.6v1.6h-1.6zM283.6,497.9h1.6v1.6h-1.6zM287.9,497.1h1.6v1.6h-1.6zM289.0,496.1h1.6v1.6h-1.6zM284.4,499.0h1.6v1.6h-1.6zM284.5,497.2h1.6v1.6h-1.6zM282.7,495.0h1.6v1.6h-1.6zM284.7,502.0h1.6v1.6h-1.6zM285.5,497.0h1.6v1.6h-1.6zM295.6,495.0h1.6v1.6h-1.6zM289.7,491.9h1.6v1.6h-1.6zM284.4,499.2h1.6v1.6h-1.6zM274.8,500.6h1.6v1.6h-1.6zM284.9,496.8h1.6v1.6h-1.6zM286.0,492.9h1.6v1.6h-1.6zM278.3,499.0h1.6v1.6h-1.6zM290.0,495.9h1.6v1.6h-1.6zM287.7,494.5h1.6v1.6h-1.6zM288.4,492.7h1.6v1.6h-1.6zM288.1,499.4h1.6v1.6h-1.6zM281.7,496.7h1.6v1.6h-1.6zM286.0,498.1h1.6v1.6h-1.6zM282.8,499.1h1.6v1.6h-1.6zM280.8,500.7h1.6v1.6h-1.6zM289.3,498.3h1.6v1.6h-1.6zM280.8,497.6h1.6v1.6h-1.6zM285.0,496.6h1.6v1.6h-1.6zM297.2,500.4h1.6v1.6h-1.6zM286.0,494.0h1.6v1.6h-1.6zM283.1,496.9h1.6v1.6h-1.6zM289.5,500.4h1.6v1.6h-1.6zM283.5,495.1h1.6v1.6h-1.6zM283.8,498.0h1.6v1.6h-1.6zM289.9,497.3h1.6v1.6h-1.6zM278.4,501.3h1.6v1.6h-1.6zM291.0,497.1h1.6v1.6h-1.6zM276.0,499.6h1.6v1.6h-1.6zM283.2,498.1h1.6v1.6h-1.6zM287.0,500.5h1.6v1.6h-1.6zM288.0,498.0h1.6v1.6h-1.6zM294.2,494.7h1.6v1.6h-1.6zM288.2,495.9h1.6v1.6h-1.6zM278.5,503.4h1.6v1.6h-1.6zM291.5,499.0h1.6v1.6h-1.6zM280.1,501.5h1.6v1.6h-1.6zM279.0,489.8h1.6v1.6h-1.6zM293.3,497.2h1.6v1.6h-1.6zM292.5,496.1h1.6v1.6h-1.6zM287.8,501.2h1.6v1.6h-1.6zM284.6,504.1h1.6v1.6h-1.6zM286.8,496.8h1.6v1.6h-1.6zM281.3,494.8h1.6v1.6h-1.6zM286.4,496.4h1.6v1.6h-1.6zM283.7,497.3h1.6v1.6h-1.6zM281.3,499.2h1.6v1.6h-1.6zM282.5,500.3h1.6v1.6h-1.6zM283.3,497.9h1.6v1.6h-1.6zM283.9,497.8h1.6v1.6h-1.6zM285.5,497.3h1.6v1.6h-1.6zM285.5,498.0h1.6v1.6h-1.6zM288.6,491.4h1.6v1.6h-1.6zM285.8,494.9h1.6v1.6h-1.6zM277.0,499.1h1.6v1.6h-1.6zM290.6,499.2h1.6v1.6h-1.6zM282.6,498.2h1.6v1.6h-1.6zM281.1,498.7h1.6v1.6h-1.6zM290.7,500.9h1.6v1.6h-1.6zM283.4,498.6h1.6v1.6h-1.6zM282.2,497.6h1.6v1.6h-1.6zM281.6,497.0h1.6v1.6h-1.6zM284.5,494.3h1.6v1.6h-1.6zM291.0,498.0h1.6v1.6h-1.6zM286.3,495.5h1.6v1.6h-1.6zM287.4,492.5h1.6v1.6h-1.6zM294.2,495.9h1.6v1.6h-1.6zM280.4,499.4h1.6v1.6h-1.6zM289.9,499.2h1.6v1.6h-1.6zM285.3,503.0h1.6v1.6h-1.6zM287.7,494.1h1.6v1.6h-1.6zM286.5,495.0h1.6v1.6h-1.6zM282.7,496.0h1.6v1.6h-1.6zM292.7,498.3h1.6v1.6h-1.6zM290.6,495.7h1.6v1.6h-1.6zM290.5,496.4h1.6v1.6h-1.6zM285.9,499.6h1.6v1.6h-1.6zM281.7,499.0h1.6v1.6h-1.6zM289.7,499.5h1.6v1.6h-1.6zM295.2,496.6h1.6v1.6h-1.6zM282.5,499.0h1.6v1.6h-1.6zM281.1,498.1h1.6v1.6h-1.6zM282.7,496.5h1.6v1.6h-1.6zM279.2,494.7h1.6v1.6h-1.6zM285.3,499.9h1.6v1.6h-1.6zM279.5,496.5h1.6v1.6h-1.6zM293.4,494.5h1.6v1.6h-1.6zM279.8,498.8h1.6v1.6h-1.6zM287.7,494.4h1.6v1.6h-1.6zM289.9,499.9h1.6v1.6h-1.6zM292.1,500.8h1.6v1.6h-1.6zM287.5,494.1h1.6v1.6h-1.6zM291.3,499.0h1.6v1.6h-1.6zM294.3,498.5h1.6v1.6h-1.6zM286.1,496.1h1.6v1.6h-1.6zM285.6,497.1h1.6v1.6h-1.6zM293.7,503.1h1.6v1.6h-1.6zM287.7,502.0h1.6v1.6h-1.6zM294.6,496.1h1.6v1.6h-1.6zM280.4,498.8h1.6v1.6h-1.6zM283.4,498.9h1.6v1.6h-1.6zM287.5,494.7h1.6v1.6h-1.6zM286.5,494.8h1.6v1.6h-1.6zM286.4,500.2h1.6v1.6h-1.6zM292.5,501.0h1.6v1.6h-1.6zM280.6,498.0h1.6v1.6h-1.6zM291.2,497.6h1.6v1.6h-1.6zM283.6,499.6h1.6v1.6h-1.6zM285.3,500.1h1.6v1.6h-1.6zM280.3,497.8h1.6v1.6h-1.6zM275.7,499.0h1.6v1.6h-1.6zM281.6,501.1h1.6v1.6h-1.6zM272.7,497.5h1.6v1.6h-1.6zM275.5,494.3h1.6v1.6h-1.6zM283.7,499.4h1.6v1.6h-1.6zM288.7,503.0h1.6v1.6h-1.6zM289.4,499.5h1.6v1.6h-1.6zM287.1,497.2h1.6v1.6h-1.6zM284.4,495.3h1.6v1.6h-1.6zM288.3,504.7h1.6v1.6h-1.6zM288.4,496.5h1.6v1.6h-1.6zM290.7,500.6h1.6v1.6h-1.6zM297.9,501.0h1.6v1.6h-1.6zM283.8,500.2h1.6v1.6h-1.6zM292.0,499.1h1.6v1.6h-1.6zM283.3,497.5h1.6v1.6h-1.6zM284.0,494.8h1.6v1.6h-1.6zM291.3,492.3h1.6v1.6h-1.6zM290.1,495.8h1.6v1.6h-1.6zM281.5,501.3h1.6v1.6h-1.6zM280.9,499.7h1.6v1.6h-1.6zM286.1,499.6h1.6v1.6h-1.6zM292.2,500.4h1.6v1.6h-1.6zM299.3,493.8h1.6v1.6h-1.6zM285.6,499.9h1.6v1.6h-1.6zM288.2,498.7h1.6v1.6h-1.6zM288.2,495.7h1.6v1.6h-1.6zM283.5,499.4h1.6v1.6h-1.6zM284.9,496.3h1.6v1.6h-1.6zM287.1,497.8h1.6v1.6h-1.6zM291.1,496.7h1.6v1.6h-1.6zM279.9,499.1h1.6v1.6h-1.6zM286.9,504.2h1.6v1.6h-1.6zM279.1,497.6h1.6v1.6h-1.6zM291.6,495.0h1.6v1.6h-1.6zM287.5,496.8h1.6v1.6h-1.6zM284.8,499.8h1.6v1.6h-1.6zM281.7,497.8h1.6v1.6h-1.6zM289.0,496.8h1.6v1.6h-1.6zM281.7,499.8h1.6v1.6h-1.6zM282.4,502.0h1.6v1.6h-1.6zM276.2,498.2h1.6v1.6h-1.6zM279.7,502.3h1.6v1.6h-1.6zM288.8,495.5h1.6v1.6h-1.6zM297.6,495.5h1.6v1.6h-1.6zM287.1,501.5h1.6v1.6h-1.6zM288.7,496.5h1.6v1.6h-1.6zM289.2,496.2h1.6v1.6h-1.6zM288.3,495.5h1.6v1.6h-1.6zM296.6,496.0h1.6v1.6h-1.6zM290.8,498.5h1.6v1.6h-1.6zM282.5,493.6h1.6v1.6h-1.6zM285.7,508.7h1.6v1.6h-1.6zM281.3,501.0h1.6v1.6h-1.6zM294.5,506.0h1.6v1.6h-1.6zM286.5,497.4h1.6v1.6h-1.6zM299.5,496.5h1.6v1.6h-1.6zM302.5,504.1h1.6v1.6h-1.6zM276.1,502.4h1.6v1.6h-1.6zM280.7,500.9h1.6v1.6h-1.6zM288.1,488.0h1.6v1.6h-1.6zM294.5,500.1h1.6v1.6h-1.6zM286.3,498.4h1.6v1.6h-1.6zM294.5,493.6h1.6v1.6h-1.6zM289.4,499.7h1.6v1.6h-1.6zM290.6,502.7h1.6v1.6h-1.6zM291.3,501.4h1.6v1.6h-1.6zM288.8,505.9h1.6v1.6h-1.6zM300.5,502.1h1.6v1.6h-1.6zM290.8,497.2h1.6v1.6h-1.6zM299.1,490.4h1.6v1.6h-1.6zM292.1,499.7h1.6v1.6h-1.6zM310.3,502.5h1.6v1.6h-1.6zM305.2,499.8h1.6v1.6h-1.6zM279.4,494.2h1.6v1.6h-1.6zM281.6,499.7h1.6v1.6h-1.6zM275.6,499.9h1.6v1.6h-1.6zM298.4,500.3h1.6v1.6h-1.6zM281.6,498.2h1.6v1.6h-1.6zM284.4,494.8h1.6v1.6h-1.6zM291.1,532.9h1.6v1.6h-1.6zM288.0,533.3h1.6v1.6h-1.6zM288.1,530.6h1.6v1.6h-1.6zM285.5,542.2h1.6v1.6h-1.6zM289.7,531.7h1.6v1.6h-1.6zM276.4,533.2h1.6v1.6h-1.6zM277.4,535.0h1.6v1.6h-1.6zM297.8,533.9h1.6v1.6h-1.6zM287.0,541.1h1.6v1.6h-1.6zM277.5,530.0h1.6v1.6h-1.6zM298.6,532.1h1.6v1.6h-1.6zM288.6,523.2h1.6v1.6h-1.6zM284.1,518.3h1.6v1.6h-1.6zM288.1,529.3h1.6v1.6h-1.6zM287.9,542.1h1.6v1.6h-1.6zM292.1,532.5h1.6v1.6h-1.6zM288.9,527.8h1.6v1.6h-1.6zM283.8,518.3h1.6v1.6h-1.6zM294.8,533.3h1.6v1.6h-1.6zM284.0,531.2h1.6v1.6h-1.6zM289.4,529.6h1.6v1.6h-1.6zM295.4,545.3h1.6v1.6h-1.6zM280.4,532.7h1.6v1.6h-1.6zM282.4,519.3h1.6v1.6h-1.6zM281.7,539.8h1.6v1.6h-1.6zM284.4,533.7h1.6v1.6h-1.6zM295.0,535.3h1.6v1.6h-1.6zM279.7,545.9h1.6v1.6h-1.6zM287.7,522.2h1.6v1.6h-1.6zM283.0,531.3h1.6v1.6h-1.6zM279.3,528.2h1.6v1.6h-1.6zM286.7,542.9h1.6v1.6h-1.6zM295.1,539.1h1.6v1.6h-1.6zM283.2,536.3h1.6v1.6h-1.6zM284.3,520.1h1.6v1.6h-1.6zM287.1,534.9h1.6v1.6h-1.6zM274.2,524.1h1.6v1.6h-1.6zM296.2,541.5h1.6v1.6h-1.6zM279.6,526.3h1.6v1.6h-1.6zM293.0,534.6h1.6v1.6h-1.6zM301.0,539.2h1.6v1.6h-1.6zM296.4,533.0h1.6v1.6h-1.6zM278.4,526.3h1.6v1.6h-1.6zM282.2,539.5h1.6v1.6h-1.6zM289.5,534.2h1.6v1.6h-1.6zM290.5,531.6h1.6v1.6h-1.6zM277.4,533.8h1.6v1.6h-1.6zM286.2,525.4h1.6v1.6h-1.6zM282.9,519.8h1.6v1.6h-1.6zM288.7,541.6h1.6v1.6h-1.6zM278.8,528.3h1.6v1.6h-1.6zM285.6,533.2h1.6v1.6h-1.6zM287.2,541.5h1.6v1.6h-1.6zM292.5,525.7h1.6v1.6h-1.6zM286.0,544.3h1.6v1.6h-1.6zM282.8,518.5h1.6v1.6h-1.6zM284.5,536.7h1.6v1.6h-1.6zM287.9,529.1h1.6v1.6h-1.6zM293.1,523.1h1.6v1.6h-1.6zM292.1,526.1h1.6v1.6h-1.6zM286.1,532.5h1.6v1.6h-1.6zM286.4,538.0h1.6v1.6h-1.6zM293.8,537.8h1.6v1.6h-1.6zM293.5,537.6h1.6v1.6h-1.6zM289.1,538.3h1.6v1.6h-1.6zM292.5,511.7h1.6v1.6h-1.6zM281.4,525.9h1.6v1.6h-1.6zM289.7,541.6h1.6v1.6h-1.6zM288.8,532.0h1.6v1.6h-1.6zM283.8,538.1h1.6v1.6h-1.6zM287.6,538.5h1.6v1.6h-1.6zM286.4,526.8h1.6v1.6h-1.6zM292.3,533.4h1.6v1.6h-1.6zM285.5,526.7h1.6v1.6h-1.6zM287.3,531.2h1.6v1.6h-1.6zM291.5,533.4h1.6v1.6h-1.6zM286.7,526.9h1.6v1.6h-1.6zM294.4,535.1h1.6v1.6h-1.6zM294.4,543.9h1.6v1.6h-1.6zM287.4,536.5h1.6v1.6h-1.6zM279.3,531.4h1.6v1.6h-1.6zM281.0,524.2h1.6v1.6h-1.6zM299.4,539.4h1.6v1.6h-1.6zM290.5,521.6h1.6v1.6h-1.6zM292.0,534.2h1.6v1.6h-1.6zM286.3,542.0h1.6v1.6h-1.6zM289.5,546.5h1.6v1.6h-1.6zM291.9,540.2h1.6v1.6h-1.6zM287.1,526.4h1.6v1.6h-1.6zM288.1,543.5h1.6v1.6h-1.6zM290.6,546.0h1.6v1.6h-1.6zM288.7,528.6h1.6v1.6h-1.6zM292.5,536.4h1.6v1.6h-1.6zM298.6,535.1h1.6v1.6h-1.6zM294.7,530.9h1.6v1.6h-1.6zM279.1,532.5h1.6v1.6h-1.6zM282.2,541.6h1.6v1.6h-1.6zM278.2,523.8h1.6v1.6h-1.6zM286.0,538.3h1.6v1.6h-1.6zM285.2,534.9h1.6v1.6h-1.6zM284.3,542.8h1.6v1.6h-1.6zM291.9,525.6h1.6v1.6h-1.6zM297.5,532.9h1.6v1.6h-1.6zM299.3,532.4h1.6v1.6h-1.6zM285.2,538.4h1.6v1.6h-1.6zM283.8,521.6h1.6v1.6h-1.6zM277.7,542.2h1.6v1.6h-1.6zM280.2,522.3h1.6v1.6h-1.6zM298.5,534.2h1.6v1.6h-1.6zM290.2,530.0h1.6v1.6h-1.6zM289.5,528.7h1.6v1.6h-1.6zM293.6,521.7h1.6v1.6h-1.6zM288.3,530.9h1.6v1.6h-1.6zM289.6,543.5h1.6v1.6h-1.6zM287.4,541.8h1.6v1.6h-1.6zM299.8,529.6h1.6v1.6h-1.6zM288.9,538.1h1.6v1.6h-1.6zM288.4,523.8h1.6v1.6h-1.6zM302.2,535.1h1.6v1.6h-1.6zM288.0,537.1h1.6v1.6h-1.6zM295.4,524.1h1.6v1.6h-1.6zM293.3,540.2h1.6v1.6h-1.6zM305.6,524.7h1.6v1.6h-1.6zM296.6,525.7h1.6v1.6h-1.6zM292.6,530.9h1.6v1.6h-1.6zM284.1,518.8h1.6v1.6h-1.6zM290.5,524.2h1.6v1.6h-1.6zM292.4,522.6h1.6v1.6h-1.6zM298.5,525.8h1.6v1.6h-1.6zM289.7,530.3h1.6v1.6h-1.6zM283.3,541.9h1.6v1.6h-1.6zM291.9,534.2h1.6v1.6h-1.6zM298.3,518.3h1.6v1.6h-1.6zM279.8,534.6h1.6v1.6h-1.6zM292.7,540.4h1.6v1.6h-1.6zM291.7,531.2h1.6v1.6h-1.6zM280.9,521.7h1.6v1.6h-1.6zM280.9,536.4h1.6v1.6h-1.6zM286.1,529.1h1.6v1.6h-1.6zM284.7,538.9h1.6v1.6h-1.6zM291.1,536.3h1.6v1.6h-1.6zM291.9,522.4h1.6v1.6h-1.6zM284.6,536.3h1.6v1.6h-1.6zM282.1,533.5h1.6v1.6h-1.6zM278.9,522.5h1.6v1.6h-1.6zM283.6,539.5h1.6v1.6h-1.6zM292.5,520.0h1.6v1.6h-1.6zM285.1,527.2h1.6v1.6h-1.6zM288.9,532.7h1.6v1.6h-1.6zM296.6,533.1h1.6v1.6h-1.6zM290.4,535.8h1.6v1.6h-1.6zM291.0,516.1h1.6v1.6h-1.6zM293.8,540.4h1.6v1.6h-1.6zM292.6,524.8h1.6v1.6h-1.6zM298.1,526.8h1.6v1.6h-1.6zM288.1,537.0h1.6v1.6h-1.6zM290.5,530.2h1.6v1.6h-1.6zM297.7,520.0h1.6v1.6h-1.6zM279.3,542.9h1.6v1.6h-1.6zM288.8,543.3h1.6v1.6h-1.6zM293.0,541.8h1.6v1.6h-1.6zM291.0,540.6h1.6v1.6h-1.6zM303.4,537.4h1.6v1.6h-1.6zM282.9,529.2h1.6v1.6h-1.6zM288.6,547.8h1.6v1.6h-1.6zM279.3,534.6h1.6v1.6h-1.6zM292.5,536.0h1.6v1.6h-1.6zM275.8,537.2h1.6v1.6h-1.6zM287.5,536.4h1.6v1.6h-1.6zM282.9,532.7h1.6v1.6h-1.6zM289.8,534.9h1.6v1.6h-1.6zM280.7,535.0h1.6v1.6h-1.6zM286.1,546.4h1.6v1.6h-1.6zM291.8,536.1h1.6v1.6h-1.6zM282.5,534.2h1.6v1.6h-1.6zM292.3,532.5h1.6v1.6h-1.6zM272.9,539.4h1.6v1.6h-1.6zM282.7,533.3h1.6v1.6h-1.6zM289.5,528.0h1.6v1.6h-1.6zM299.2,542.1h1.6v1.6h-1.6zM286.2,537.1h1.6v1.6h-1.6zM278.1,540.5h1.6v1.6h-1.6zM279.5,544.4h1.6v1.6h-1.6zM295.3,529.5h1.6v1.6h-1.6zM292.9,526.8h1.6v1.6h-1.6zM294.8,540.1h1.6v1.6h-1.6zM286.6,548.5h1.6v1.6h-1.6zM292.4,528.6h1.6v1.6h-1.6zM286.5,531.6h1.6v1.6h-1.6zM279.2,528.7h1.6v1.6h-1.6zM289.0,532.5h1.6v1.6h-1.6zM290.3,546.8h1.6v1.6h-1.6zM282.0,528.3h1.6v1.6h-1.6zM289.3,533.4h1.6v1.6h-1.6zM289.0,531.2h1.6v1.6h-1.6zM287.4,545.7h1.6v1.6h-1.6zM296.7,538.3h1.6v1.6h-1.6zM283.2,547.3h1.6v1.6h-1.6zM283.3,530.4h1.6v1.6h-1.6zM290.4,516.7h1.6v1.6h-1.6zM287.7,530.6h1.6v1.6h-1.6zM284.9,535.1h1.6v1.6h-1.6zM282.4,536.1h1.6v1.6h-1.6zM275.1,531.0h1.6v1.6h-1.6zM286.7,519.8h1.6v1.6h-1.6zM293.5,537.2h1.6v1.6h-1.6zM278.7,540.5h1.6v1.6h-1.6zM287.6,533.4h1.6v1.6h-1.6zM290.5,528.5h1.6v1.6h-1.6zM295.2,536.3h1.6v1.6h-1.6zM289.2,525.5h1.6v1.6h-1.6zM289.3,517.5h1.6v1.6h-1.6zM281.8,533.3h1.6v1.6h-1.6zM280.3,521.2h1.6v1.6h-1.6zM285.0,523.2h1.6v1.6h-1.6zM292.0,545.1h1.6v1.6h-1.6zM279.2,526.5h1.6v1.6h-1.6zM285.4,534.6h1.6v1.6h-1.6zM286.8,544.7h1.6v1.6h-1.6zM290.0,539.9h1.6v1.6h-1.6zM284.2,536.4h1.6v1.6h-1.6zM285.7,542.6h1.6v1.6h-1.6zM295.2,527.4h1.6v1.6h-1.6zM291.8,538.8h1.6v1.6h-1.6zM287.0,534.0h1.6v1.6h-1.6zM284.5,521.7h1.6v1.6h-1.6zM287.0,535.3h1.6v1.6h-1.6zM285.1,540.7h1.6v1.6h-1.6zM285.8,531.3h1.6v1.6h-1.6zM291.8,545.1h1.6v1.6h-1.6zM294.8,536.7h1.6v1.6h-1.6zM283.2,539.2h1.6v1.6h-1.6zM282.4,538.0h1.6v1.6h-1.6zM290.7,516.9h1.6v1.6h-1.6zM278.7,528.8h1.6v1.6h-1.6zM288.6,530.8h1.6v1.6h-1.6zM285.6,534.4h1.6v1.6h-1.6zM287.4,517.1h1.6v1.6h-1.6zM291.1,540.3h1.6v1.6h-1.6zM281.7,527.2h1.6v1.6h-1.6zM292.8,536.7h1.6v1.6h-1.6zM282.7,543.2h1.6v1.6h-1.6zM288.9,532.0h1.6v1.6h-1.6zM280.5,531.8h1.6v1.6h-1.6zM284.0,537.4h1.6v1.6h-1.6zM284.1,535.2h1.6v1.6h-1.6zM284.7,528.1h1.6v1.6h-1.6zM290.1,529.7h1.6v1.6h-1.6zM287.9,539.0h1.6v1.6h-1.6zM285.4,518.8h1.6v1.6h-1.6zM291.9,526.9h1.6v1.6h-1.6zM283.4,528.3h1.6v1.6h-1.6zM284.1,533.1h1.6v1.6h-1.6zM291.4,527.9h1.6v1.6h-1.6zM284.2,534.5h1.6v1.6h-1.6zM283.1,533.5h1.6v1.6h-1.6zM289.3,533.7h1.6v1.6h-1.6zM285.5,536.6h1.6v1.6h-1.6zM289.1,543.0h1.6v1.6h-1.6zM294.7,538.7h1.6v1.6h-1.6zM278.7,526.0h1.6v1.6h-1.6zM282.4,543.5h1.6v1.6h-1.6zM282.2,544.4h1.6v1.6h-1.6zM290.7,533.6h1.6v1.6h-1.6zM282.5,521.0h1.6v1.6h-1.6zM287.0,536.6h1.6v1.6h-1.6zM279.8,533.3h1.6v1.6h-1.6zM279.2,525.3h1.6v1.6h-1.6zM281.5,546.5h1.6v1.6h-1.6zM285.9,528.2h1.6v1.6h-1.6zM287.8,542.7h1.6v1.6h-1.6zM294.7,521.3h1.6v1.6h-1.6zM279.8,532.1h1.6v1.6h-1.6zM277.0,534.4h1.6v1.6h-1.6zM296.3,535.8h1.6v1.6h-1.6zM279.3,533.0h1.6v1.6h-1.6zM288.8,531.0h1.6v1.6h-1.6zM287.3,545.1h1.6v1.6h-1.6zM285.3,547.5h1.6v1.6h-1.6zM284.9,530.6h1.6v1.6h-1.6zM290.6,539.7h1.6v1.6h-1.6zM276.9,538.9h1.6v1.6h-1.6zM294.1,530.4h1.6v1.6h-1.6zM292.6,538.8h1.6v1.6h-1.6zM289.3,532.9h1.6v1.6h-1.6zM282.6,536.3h1.6v1.6h-1.6zM284.5,529.6h1.6v1.6h-1.6zM290.7,535.4h1.6v1.6h-1.6zM280.8,532.7h1.6v1.6h-1.6zM289.3,529.4h1.6v1.6h-1.6zM279.0,519.1h1.6v1.6h-1.6zM293.9,535.5h1.6v1.6h-1.6zM288.5,541.6h1.6v1.6h-1.6zM286.5,547.5h1.6v1.6h-1.6zM288.3,540.4h1.6v1.6h-1.6zM285.0,530.8h1.6v1.6h-1.6zM289.5,540.4h1.6v1.6h-1.6zM281.2,521.3h1.6v1.6h-1.6zM282.8,530.5h1.6v1.6h-1.6zM285.0,536.9h1.6v1.6h-1.6zM293.4,536.1h1.6v1.6h-1.6zM300.5,528.0h1.6v1.6h-1.6zM285.5,528.5h1.6v1.6h-1.6zM284.0,537.9h1.6v1.6h-1.6zM277.4,539.1h1.6v1.6h-1.6zM294.1,535.9h1.6v1.6h-1.6zM288.8,544.8h1.6v1.6h-1.6zM289.5,520.8h1.6v1.6h-1.6zM279.7,548.0h1.6v1.6h-1.6zM292.0,534.6h1.6v1.6h-1.6zM292.5,543.7h1.6v1.6h-1.6zM278.9,535.1h1.6v1.6h-1.6zM289.6,535.3h1.6v1.6h-1.6zM287.0,522.4h1.6v1.6h-1.6zM292.6,529.9h1.6v1.6h-1.6zM281.8,529.2h1.6v1.6h-1.6zM290.6,529.3h1.6v1.6h-1.6zM276.5,534.7h1.6v1.6h-1.6zM282.5,540.1h1.6v1.6h-1.6zM299.4,545.9h1.6v1.6h-1.6zM280.2,533.9h1.6v1.6h-1.6zM290.1,541.1h1.6v1.6h-1.6zM284.7,538.1h1.6v1.6h-1.6zM283.4,539.7h1.6v1.6h-1.6zM285.5,531.6h1.6v1.6h-1.6zM298.5,533.3h1.6v1.6h-1.6zM293.6,534.6h1.6v1.6h-1.6zM286.8,531.7h1.6v1.6h-1.6zM299.2,520.7h1.6v1.6h-1.6zM291.8,537.0h1.6v1.6h-1.6zM291.8,532.7h1.6v1.6h-1.6zM286.1,519.7h1.6v1.6h-1.6zM293.8,534.2h1.6v1.6h-1.6zM281.6,547.1h1.6v1.6h-1.6zM294.9,539.7h1.6v1.6h-1.6zM295.1,535.7h1.6v1.6h-1.6zM273.4,536.9h1.6v1.6h-1.6zM298.1,532.8h1.6v1.6h-1.6zM285.2,526.6h1.6v1.6h-1.6zM281.7,529.4h1.6v1.6h-1.6zM286.2,512.2h1.6v1.6h-1.6zM285.2,530.2h1.6v1.6h-1.6zM280.0,530.9h1.6v1.6h-1.6zM291.2,529.8h1.6v1.6h-1.6zM279.6,541.4h1.6v1.6h-1.6zM281.5,528.3h1.6v1.6h-1.6zM283.5,530.6h1.6v1.6h-1.6zM292.4,538.6h1.6v1.6h-1.6zM277.5,531.6h1.6v1.6h-1.6zM282.7,538.4h1.6v1.6h-1.6zM299.7,529.5h1.6v1.6h-1.6zM285.9,536.2h1.6v1.6h-1.6zM289.1,524.6h1.6v1.6h-1.6zM292.8,530.4h1.6v1.6h-1.6zM292.8,536.0h1.6v1.6h-1.6zM285.6,528.5h1.6v1.6h-1.6zM284.6,529.2h1.6v1.6h-1.6zM286.6,532.9h1.6v1.6h-1.6zM285.9,528.8h1.6v1.6h-1.6zM275.0,547.7h1.6v1.6h-1.6zM288.9,535.9h1.6v1.6h-1.6zM297.8,531.2h1.6v1.6h-1.6zM280.3,530.0h1.6v1.6h-1.6zM278.6,536.9h1.6v1.6h-1.6zM288.3,530.0h1.6v1.6h-1.6zM282.6,541.4h1.6v1.6h-1.6zM288.6,537.2h1.6v1.6h-1.6zM276.3,515.9h1.6v1.6h-1.6zM289.1,527.6h1.6v1.6h-1.6zM290.5,524.3h1.6v1.6h-1.6zM289.8,536.0h1.6v1.6h-1.6zM287.0,526.3h1.6v1.6h-1.6zM285.1,529.9h1.6v1.6h-1.6zM284.1,525.2h1.6v1.6h-1.6zM289.4,536.7h1.6v1.6h-1.6zM287.0,542.0h1.6v1.6h-1.6zM272.9,529.2h1.6v1.6h-1.6zM288.5,538.9h1.6v1.6h-1.6zM282.8,532.9h1.6v1.6h-1.6zM294.1,534.3h1.6v1.6h-1.6zM279.6,540.1h1.6v1.6h-1.6zM284.7,533.8h1.6v1.6h-1.6zM284.5,535.3h1.6v1.6h-1.6zM297.5,541.3h1.6v1.6h-1.6zM299.5,522.9h1.6v1.6h-1.6zM286.1,523.0h1.6v1.6h-1.6zM279.7,533.8h1.6v1.6h-1.6zM281.9,548.8h1.6v1.6h-1.6zM274.1,538.0h1.6v1.6h-1.6zM284.1,538.6h1.6v1.6h-1.6zM281.0,524.5h1.6v1.6h-1.6zM282.8,534.5h1.6v1.6h-1.6zM294.3,539.7h1.6v1.6h-1.6zM294.7,545.6h1.6v1.6h-1.6zM277.7,537.2h1.6v1.6h-1.6zM296.0,539.1h1.6v1.6h-1.6zM279.2,526.1h1.6v1.6h-1.6zM277.2,530.1h1.6v1.6h-1.6zM285.8,541.6h1.6v1.6h-1.6zM285.9,531.6h1.6v1.6h-1.6zM286.1,539.1h1.6v1.6h-1.6zM289.1,539.5h1.6v1.6h-1.6zM294.6,535.6h1.6v1.6h-1.6zM278.4,540.3h1.6v1.6h-1.6zM294.8,531.4h1.6v1.6h-1.6zM280.0,519.8h1.6v1.6h-1.6zM293.3,532.0h1.6v1.6h-1.6zM291.1,527.6h1.6v1.6h-1.6zM282.5,535.5h1.6v1.6h-1.6zM286.8,527.9h1.6v1.6h-1.6zM284.4,541.9h1.6v1.6h-1.6zM298.0,535.5h1.6v1.6h-1.6zM290.2,534.0h1.6v1.6h-1.6zM295.3,525.7h1.6v1.6h-1.6zM291.2,534.8h1.6v1.6h-1.6zM286.0,534.8h1.6v1.6h-1.6zM287.5,541.3h1.6v1.6h-1.6zM288.9,533.7h1.6v1.6h-1.6zM285.7,528.8h1.6v1.6h-1.6zM286.4,533.1h1.6v1.6h-1.6zM287.3,515.9h1.6v1.6h-1.6zM301.9,542.2h1.6v1.6h-1.6zM290.3,528.7h1.6v1.6h-1.6zM286.4,534.1h1.6v1.6h-1.6zM287.9,536.5h1.6v1.6h-1.6zM284.5,539.0h1.6v1.6h-1.6zM289.0,535.2h1.6v1.6h-1.6zM287.8,536.5h1.6v1.6h-1.6zM294.5,545.5h1.6v1.6h-1.6zM284.7,535.5h1.6v1.6h-1.6zM289.5,530.3h1.6v1.6h-1.6zM287.3,536.4h1.6v1.6h-1.6zM290.4,526.6h1.6v1.6h-1.6zM280.7,529.4h1.6v1.6h-1.6zM294.8,520.2h1.6v1.6h-1.6zM289.3,524.6h1.6v1.6h-1.6zM289.7,523.4h1.6v1.6h-1.6zM299.9,520.9h1.6v1.6h-1.6zM300.8,531.4h1.6v1.6h-1.6zM299.9,527.3h1.6v1.6h-1.6zM280.2,535.7h1.6v1.6h-1.6zM287.0,535.9h1.6v1.6h-1.6zM276.3,531.1h1.6v1.6h-1.6zM286.3,525.1h1.6v1.6h-1.6zM310.6,517.6h1.6v1.6h-1.6zM294.0,532.4h1.6v1.6h-1.6zM291.1,524.4h1.6v1.6h-1.6zM299.8,521.4h1.6v1.6h-1.6zM284.0,529.2h1.6v1.6h-1.6zM283.9,527.1h1.6v1.6h-1.6zM304.3,531.3h1.6v1.6h-1.6zM302.3,519.4h1.6v1.6h-1.6zM273.0,534.1h1.6v1.6h-1.6zM298.6,532.1h1.6v1.6h-1.6zM290.6,531.6h1.6v1.6h-1.6zM307.1,539.6h1.6v1.6h-1.6zM277.7,532.7h1.6v1.6h-1.6zM300.0,525.7h1.6v1.6h-1.6zM294.9,538.7h1.6v1.6h-1.6zM289.9,539.6h1.6v1.6h-1.6zM285.2,514.4h1.6v1.6h-1.6zM303.2,521.9h1.6v1.6h-1.6zM298.3,517.0h1.6v1.6h-1.6zM297.4,532.9h1.6v1.6h-1.6zM292.4,534.7h1.6v1.6h-1.6zM291.1,544.9h1.6v1.6h-1.6zM291.5,519.1h1.6v1.6h-1.6zM278.3,525.9h1.6v1.6h-1.6zM287.7,520.3h1.6v1.6h-1.6zM284.1,539.2h1.6v1.6h-1.6zM287.3,527.4h1.6v1.6h-1.6zM280.6,533.0h1.6v1.6h-1.6zM292.6,521.8h1.6v1.6h-1.6zM307.5,525.9h1.6v1.6h-1.6zM283.5,521.8h1.6v1.6h-1.6zM296.3,538.0h1.6v1.6h-1.6zM287.8,540.6h1.6v1.6h-1.6zM293.8,530.9h1.6v1.6h-1.6zM293.3,530.0h1.6v1.6h-1.6zM288.9,539.7h1.6v1.6h-1.6zM301.1,529.3h1.6v1.6h-1.6zM289.2,541.2h1.6v1.6h-1.6zM277.8,515.3h1.6v1.6h-1.6zM290.5,526.3h1.6v1.6h-1.6zM309.8,517.4h1.6v1.6h-1.6zM306.7,541.3h1.6v1.6h-1.6zM308.5,520.1h1.6v1.6h-1.6zM299.8,526.4h1.6v1.6h-1.6zM280.6,516.9h1.6v1.6h-1.6zM298.7,518.2h1.6v1.6h-1.6zM303.0,520.2h1.6v1.6h-1.6zM274.1,546.2h1.6v1.6h-1.6zM288.0,532.5h1.6v1.6h-1.6zM300.2,525.0h1.6v1.6h-1.6zM297.7,509.9h1.6v1.6h-1.6zM295.0,515.0h1.6v1.6h-1.6zM286.6,540.6h1.6v1.6h-1.6zM277.7,541.2h1.6v1.6h-1.6zM287.8,539.9h1.6v1.6h-1.6zM292.8,525.2h1.6v1.6h-1.6zM295.0,517.6h1.6v1.6h-1.6zM285.4,516.4h1.6v1.6h-1.6zM285.2,523.6h1.6v1.6h-1.6zM297.3,534.2h1.6v1.6h-1.6zM300.1,531.8h1.6v1.6h-1.6zM293.6,531.9h1.6v1.6h-1.6zM296.4,531.5h1.6v1.6h-1.6zM292.9,534.4h1.6v1.6h-1.6zM290.3,534.4h1.6v1.6h-1.6zM299.2,541.0h1.6v1.6h-1.6zM281.2,540.7h1.6v1.6h-1.6zM293.7,544.4h1.6v1.6h-1.6zM334.4,529.1h1.6v1.6h-1.6zM343.4,530.6h1.6v1.6h-1.6zM338.9,521.7h1.6v1.6h-1.6zM336.6,526.7h1.6v1.6h-1.6zM333.2,530.2h1.6v1.6h-1.6zM335.5,545.5h1.6v1.6h-1.6zM333.3,530.0h1.6v1.6h-1.6zM338.7,545.8h1.6v1.6h-1.6zM332.1,537.2h1.6v1.6h-1.6zM337.5,530.1h1.6v1.6h-1.6zM331.4,538.9h1.6v1.6h-1.6zM330.5,539.0h1.6v1.6h-1.6zM340.0,546.5h1.6v1.6h-1.6zM338.1,524.9h1.6v1.6h-1.6zM334.6,546.6h1.6v1.6h-1.6zM331.6,545.3h1.6v1.6h-1.6zM335.7,518.1h1.6v1.6h-1.6zM337.6,538.6h1.6v1.6h-1.6zM337.6,524.0h1.6v1.6h-1.6zM335.0,543.2h1.6v1.6h-1.6zM333.0,542.4h1.6v1.6h-1.6zM333.6,522.8h1.6v1.6h-1.6zM335.9,538.5h1.6v1.6h-1.6zM342.0,519.2h1.6v1.6h-1.6zM337.2,536.8h1.6v1.6h-1.6zM333.8,528.8h1.6v1.6h-1.6zM338.2,532.4h1.6v1.6h-1.6zM334.7,541.6h1.6v1.6h-1.6zM335.5,526.1h1.6v1.6h-1.6zM330.4,528.0h1.6v1.6h-1.6zM336.2,526.6h1.6v1.6h-1.6zM333.7,524.6h1.6v1.6h-1.6zM334.9,538.2h1.6v1.6h-1.6zM333.5,542.0h1.6v1.6h-1.6zM332.0,547.5h1.6v1.6h-1.6zM333.7,530.0h1.6v1.6h-1.6zM338.3,529.7h1.6v1.6h-1.6zM337.8,530.8h1.6v1.6h-1.6zM335.1,526.4h1.6v1.6h-1.6zM334.5,536.1h1.6v1.6h-1.6zM340.0,535.5h1.6v1.6h-1.6zM339.0,524.6h1.6v1.6h-1.6zM331.2,547.9h1.6v1.6h-1.6zM333.0,522.1h1.6v1.6h-1.6zM335.0,528.0h1.6v1.6h-1.6zM331.0,537.6h1.6v1.6h-1.6zM340.3,540.1h1.6v1.6h-1.6zM337.8,538.1h1.6v1.6h-1.6zM332.6,530.8h1.6v1.6h-1.6zM328.0,540.2h1.6v1.6h-1.6zM334.6,531.8h1.6v1.6h-1.6zM337.7,544.1h1.6v1.6h-1.6zM335.8,539.1h1.6v1.6h-1.6zM336.6,542.2h1.6v1.6h-1.6zM334.1,540.6h1.6v1.6h-1.6zM334.6,534.6h1.6v1.6h-1.6zM340.6,521.8h1.6v1.6h-1.6zM343.2,546.3h1.6v1.6h-1.6zM328.2,518.8h1.6v1.6h-1.6zM332.8,526.1h1.6v1.6h-1.6zM333.0,530.8h1.6v1.6h-1.6zM337.4,546.2h1.6v1.6h-1.6zM337.7,520.3h1.6v1.6h-1.6zM338.0,519.5h1.6v1.6h-1.6zM329.2,531.0h1.6v1.6h-1.6zM333.0,524.2h1.6v1.6h-1.6zM333.0,526.0h1.6v1.6h-1.6zM336.9,539.9h1.6v1.6h-1.6zM333.4,527.7h1.6v1.6h-1.6zM336.6,531.1h1.6v1.6h-1.6zM338.6,525.9h1.6v1.6h-1.6zM337.5,540.0h1.6v1.6h-1.6zM337.1,546.3h1.6v1.6h-1.6zM333.3,535.2h1.6v1.6h-1.6zM330.9,542.4h1.6v1.6h-1.6zM331.9,547.9h1.6v1.6h-1.6zM331.9,533.8h1.6v1.6h-1.6zM336.6,529.8h1.6v1.6h-1.6zM330.5,531.1h1.6v1.6h-1.6zM333.0,540.0h1.6v1.6h-1.6zM335.8,527.2h1.6v1.6h-1.6zM335.7,532.6h1.6v1.6h-1.6zM335.6,523.1h1.6v1.6h-1.6zM334.5,532.7h1.6v1.6h-1.6zM336.4,545.2h1.6v1.6h-1.6zM334.3,544.9h1.6v1.6h-1.6zM336.8,541.1h1.6v1.6h-1.6zM337.1,534.0h1.6v1.6h-1.6zM336.0,528.9h1.6v1.6h-1.6zM332.5,536.7h1.6v1.6h-1.6zM332.9,548.4h1.6v1.6h-1.6zM331.0,532.0h1.6v1.6h-1.6zM340.1,527.6h1.6v1.6h-1.6zM339.1,524.0h1.6v1.6h-1.6zM332.0,521.4h1.6v1.6h-1.6zM333.7,541.2h1.6v1.6h-1.6zM336.6,535.5h1.6v1.6h-1.6zM335.3,522.4h1.6v1.6h-1.6zM335.8,532.6h1.6v1.6h-1.6zM332.6,528.9h1.6v1.6h-1.6zM336.5,546.1h1.6v1.6h-1.6zM337.8,527.0h1.6v1.6h-1.6zM334.4,546.9h1.6v1.6h-1.6zM335.5,546.6h1.6v1.6h-1.6zM331.2,539.0h1.6v1.6h-1.6zM335.0,529.6h1.6v1.6h-1.6zM331.2,541.0h1.6v1.6h-1.6zM335.3,541.2h1.6v1.6h-1.6zM342.6,545.5h1.6v1.6h-1.6zM335.3,543.5h1.6v1.6h-1.6zM335.9,522.5h1.6v1.6h-1.6zM336.4,520.9h1.6v1.6h-1.6zM333.4,530.2h1.6v1.6h-1.6zM336.2,546.8h1.6v1.6h-1.6zM338.1,548.5h1.6v1.6h-1.6zM335.2,536.7h1.6v1.6h-1.6zM335.6,546.8h1.6v1.6h-1.6zM343.1,517.9h1.6v1.6h-1.6zM337.5,531.4h1.6v1.6h-1.6zM339.8,536.1h1.6v1.6h-1.6zM335.8,534.0h1.6v1.6h-1.6zM332.7,537.4h1.6v1.6h-1.6zM329.7,523.3h1.6v1.6h-1.6zM329.5,519.4h1.6v1.6h-1.6zM333.9,539.4h1.6v1.6h-1.6zM336.7,520.9h1.6v1.6h-1.6zM336.7,543.9h1.6v1.6h-1.6zM336.0,540.4h1.6v1.6h-1.6zM330.6,523.5h1.6v1.6h-1.6zM335.9,533.8h1.6v1.6h-1.6zM335.8,534.4h1.6v1.6h-1.6zM335.8,529.4h1.6v1.6h-1.6zM333.8,541.7h1.6v1.6h-1.6zM332.0,525.1h1.6v1.6h-1.6zM335.6,522.0h1.6v1.6h-1.6zM339.3,531.3h1.6v1.6h-1.6zM337.2,531.2h1.6v1.6h-1.6zM333.2,525.6h1.6v1.6h-1.6zM336.0,524.5h1.6v1.6h-1.6zM336.0,525.8h1.6v1.6h-1.6zM337.2,538.6h1.6v1.6h-1.6zM334.2,538.3h1.6v1.6h-1.6zM336.5,540.0h1.6v1.6h-1.6zM337.1,522.8h1.6v1.6h-1.6zM332.9,534.7h1.6v1.6h-1.6zM334.3,533.2h1.6v1.6h-1.6zM339.3,531.4h1.6v1.6h-1.6zM342.7,523.0h1.6v1.6h-1.6zM335.9,537.1h1.6v1.6h-1.6zM333.0,526.0h1.6v1.6h-1.6zM340.6,532.1h1.6v1.6h-1.6zM336.8,529.1h1.6v1.6h-1.6zM337.2,527.6h1.6v1.6h-1.6zM337.3,525.8h1.6v1.6h-1.6zM338.9,524.9h1.6v1.6h-1.6zM333.4,543.0h1.6v1.6h-1.6zM331.0,536.1h1.6v1.6h-1.6zM330.2,518.6h1.6v1.6h-1.6zM337.4,536.2h1.6v1.6h-1.6zM334.8,521.1h1.6v1.6h-1.6zM335.3,526.2h1.6v1.6h-1.6zM337.7,527.4h1.6v1.6h-1.6zM336.2,528.8h1.6v1.6h-1.6zM335.7,534.2h1.6v1.6h-1.6zM337.9,521.0h1.6v1.6h-1.6zM339.1,536.7h1.6v1.6h-1.6zM329.1,526.8h1.6v1.6h-1.6zM337.8,541.1h1.6v1.6h-1.6zM333.9,527.9h1.6v1.6h-1.6zM331.0,535.3h1.6v1.6h-1.6zM336.3,542.8h1.6v1.6h-1.6zM333.5,533.6h1.6v1.6h-1.6zM334.1,543.0h1.6v1.6h-1.6zM333.1,545.0h1.6v1.6h-1.6zM337.9,535.3h1.6v1.6h-1.6zM336.1,519.1h1.6v1.6h-1.6zM339.8,528.7h1.6v1.6h-1.6zM334.1,540.8h1.6v1.6h-1.6zM332.5,526.6h1.6v1.6h-1.6zM335.4,547.4h1.6v1.6h-1.6zM337.0,529.2h1.6v1.6h-1.6zM336.0,523.6h1.6v1.6h-1.6zM337.1,529.5h1.6v1.6h-1.6zM329.3,534.2h1.6v1.6h-1.6zM336.9,544.0h1.6v1.6h-1.6zM335.2,528.3h1.6v1.6h-1.6zM335.1,527.0h1.6v1.6h-1.6zM334.6,547.0h1.6v1.6h-1.6zM336.0,546.5h1.6v1.6h-1.6zM337.1,529.9h1.6v1.6h-1.6zM335.3,527.8h1.6v1.6h-1.6zM332.8,536.0h1.6v1.6h-1.6zM335.9,523.0h1.6v1.6h-1.6zM336.3,548.4h1.6v1.6h-1.6zM335.8,525.5h1.6v1.6h-1.6zM336.7,527.6h1.6v1.6h-1.6zM337.2,536.9h1.6v1.6h-1.6zM335.8,534.4h1.6v1.6h-1.6zM334.1,533.3h1.6v1.6h-1.6zM343.5,545.2h1.6v1.6h-1.6zM334.9,534.3h1.6v1.6h-1.6zM338.3,539.2h1.6v1.6h-1.6zM332.2,538.4h1.6v1.6h-1.6zM332.1,548.6h1.6v1.6h-1.6zM334.6,521.1h1.6v1.6h-1.6zM336.6,535.3h1.6v1.6h-1.6zM341.0,537.6h1.6v1.6h-1.6zM330.5,525.9h1.6v1.6h-1.6zM335.6,545.8h1.6v1.6h-1.6zM336.4,536.4h1.6v1.6h-1.6zM334.1,546.6h1.6v1.6h-1.6zM337.5,533.9h1.6v1.6h-1.6zM334.6,529.7h1.6v1.6h-1.6zM336.1,521.7h1.6v1.6h-1.6zM339.2,530.9h1.6v1.6h-1.6zM335.2,522.2h1.6v1.6h-1.6zM332.6,544.4h1.6v1.6h-1.6zM336.9,536.7h1.6v1.6h-1.6zM337.5,547.7h1.6v1.6h-1.6zM333.9,525.1h1.6v1.6h-1.6zM335.7,516.0h1.6v1.6h-1.6zM338.0,547.3h1.6v1.6h-1.6zM338.2,504.4h1.6v1.6h-1.6zM333.2,495.9h1.6v1.6h-1.6zM333.2,504.0h1.6v1.6h-1.6zM342.4,495.7h1.6v1.6h-1.6zM334.3,515.0h1.6v1.6h-1.6zM335.9,504.8h1.6v1.6h-1.6zM331.1,504.0h1.6v1.6h-1.6zM342.9,503.7h1.6v1.6h-1.6zM337.5,493.9h1.6v1.6h-1.6zM331.9,503.5h1.6v1.6h-1.6zM337.7,492.8h1.6v1.6h-1.6zM339.6,501.8h1.6v1.6h-1.6zM335.3,505.7h1.6v1.6h-1.6zM338.0,497.9h1.6v1.6h-1.6zM339.4,498.5h1.6v1.6h-1.6zM335.6,491.9h1.6v1.6h-1.6zM424.8,383.2h1.6v1.6h-1.6zM424.3,390.3h1.6v1.6h-1.6zM417.2,391.4h1.6v1.6h-1.6zM425.2,387.7h1.6v1.6h-1.6zM424.7,387.4h1.6v1.6h-1.6zM427.2,388.5h1.6v1.6h-1.6zM420.5,385.5h1.6v1.6h-1.6zM425.9,387.5h1.6v1.6h-1.6zM429.4,387.6h1.6v1.6h-1.6zM422.9,389.8h1.6v1.6h-1.6zM419.7,390.9h1.6v1.6h-1.6zM421.2,387.4h1.6v1.6h-1.6zM425.2,384.4h1.6v1.6h-1.6zM417.1,383.6h1.6v1.6h-1.6zM427.3,387.9h1.6v1.6h-1.6zM422.1,388.6h1.6v1.6h-1.6zM427.7,387.6h1.6v1.6h-1.6zM423.6,380.5h1.6v1.6h-1.6zM429.0,383.4h1.6v1.6h-1.6zM424.5,387.7h1.6v1.6h-1.6zM415.0,383.7h1.6v1.6h-1.6zM428.3,387.6h1.6v1.6h-1.6zM419.3,390.0h1.6v1.6h-1.6zM426.0,383.3h1.6v1.6h-1.6zM424.2,386.6h1.6v1.6h-1.6zM421.9,382.7h1.6v1.6h-1.6zM423.6,387.6h1.6v1.6h-1.6zM428.2,382.7h1.6v1.6h-1.6zM429.1,387.3h1.6v1.6h-1.6zM422.0,390.4h1.6v1.6h-1.6zM416.2,387.3h1.6v1.6h-1.6zM425.2,385.6h1.6v1.6h-1.6zM422.2,386.2h1.6v1.6h-1.6zM428.7,389.3h1.6v1.6h-1.6zM416.7,389.5h1.6v1.6h-1.6zM430.4,384.9h1.6v1.6h-1.6zM421.9,387.2h1.6v1.6h-1.6zM423.7,387.3h1.6v1.6h-1.6zM416.9,386.7h1.6v1.6h-1.6zM433.8,388.3h1.6v1.6h-1.6zM434.8,387.1h1.6v1.6h-1.6zM422.8,388.7h1.6v1.6h-1.6zM428.1,385.8h1.6v1.6h-1.6zM415.0,388.0h1.6v1.6h-1.6zM424.9,386.9h1.6v1.6h-1.6zM423.1,386.1h1.6v1.6h-1.6zM420.3,386.0h1.6v1.6h-1.6zM424.6,383.3h1.6v1.6h-1.6zM419.6,383.5h1.6v1.6h-1.6zM420.7,387.6h1.6v1.6h-1.6zM427.8,388.0h1.6v1.6h-1.6zM423.9,386.4h1.6v1.6h-1.6zM421.5,394.1h1.6v1.6h-1.6zM417.5,391.5h1.6v1.6h-1.6zM423.4,385.5h1.6v1.6h-1.6zM423.7,391.1h1.6v1.6h-1.6zM423.0,385.2h1.6v1.6h-1.6zM417.8,386.7h1.6v1.6h-1.6zM420.3,383.3h1.6v1.6h-1.6zM416.2,389.9h1.6v1.6h-1.6zM420.5,384.8h1.6v1.6h-1.6zM429.2,386.4h1.6v1.6h-1.6zM422.7,386.9h1.6v1.6h-1.6zM431.9,388.7h1.6v1.6h-1.6zM420.1,386.8h1.6v1.6h-1.6zM425.2,388.2h1.6v1.6h-1.6zM420.5,388.7h1.6v1.6h-1.6zM422.7,386.0h1.6v1.6h-1.6zM424.8,389.2h1.6v1.6h-1.6zM428.8,388.3h1.6v1.6h-1.6zM428.7,382.8h1.6v1.6h-1.6zM422.0,385.8h1.6v1.6h-1.6zM428.5,385.4h1.6v1.6h-1.6zM425.0,385.7h1.6v1.6h-1.6zM426.0,387.4h1.6v1.6h-1.6zM428.9,387.5h1.6v1.6h-1.6zM415.9,386.6h1.6v1.6h-1.6zM421.0,384.9h1.6v1.6h-1.6zM432.6,387.5h1.6v1.6h-1.6zM422.9,387.2h1.6v1.6h-1.6zM417.1,384.0h1.6v1.6h-1.6zM429.6,388.2h1.6v1.6h-1.6zM424.0,387.0h1.6v1.6h-1.6zM423.9,388.1h1.6v1.6h-1.6zM419.5,387.5h1.6v1.6h-1.6zM422.0,390.4h1.6v1.6h-1.6zM424.4,386.6h1.6v1.6h-1.6zM421.8,388.1h1.6v1.6h-1.6zM420.2,386.7h1.6v1.6h-1.6zM423.2,384.7h1.6v1.6h-1.6zM427.7,390.3h1.6v1.6h-1.6zM423.4,389.3h1.6v1.6h-1.6zM424.7,384.8h1.6v1.6h-1.6zM426.6,388.9h1.6v1.6h-1.6zM427.7,388.9h1.6v1.6h-1.6zM426.5,387.1h1.6v1.6h-1.6zM426.1,384.2h1.6v1.6h-1.6zM416.0,388.5h1.6v1.6h-1.6zM426.3,388.2h1.6v1.6h-1.6zM423.4,390.8h1.6v1.6h-1.6zM423.2,387.4h1.6v1.6h-1.6zM423.4,387.7h1.6v1.6h-1.6zM427.0,388.6h1.6v1.6h-1.6zM427.0,385.8h1.6v1.6h-1.6zM420.2,385.5h1.6v1.6h-1.6zM416.5,387.0h1.6v1.6h-1.6zM424.9,388.1h1.6v1.6h-1.6zM424.6,389.1h1.6v1.6h-1.6zM423.4,388.6h1.6v1.6h-1.6zM425.7,390.0h1.6v1.6h-1.6zM420.4,389.5h1.6v1.6h-1.6zM425.6,388.9h1.6v1.6h-1.6zM426.5,391.1h1.6v1.6h-1.6zM423.5,388.9h1.6v1.6h-1.6zM427.6,389.1h1.6v1.6h-1.6zM423.1,390.4h1.6v1.6h-1.6zM419.8,388.9h1.6v1.6h-1.6zM415.0,386.2h1.6v1.6h-1.6zM424.1,391.5h1.6v1.6h-1.6zM425.9,389.7h1.6v1.6h-1.6zM423.7,386.6h1.6v1.6h-1.6zM422.6,389.2h1.6v1.6h-1.6zM427.7,390.2h1.6v1.6h-1.6zM427.2,388.6h1.6v1.6h-1.6zM426.3,390.4h1.6v1.6h-1.6zM421.6,383.2h1.6v1.6h-1.6zM418.6,386.5h1.6v1.6h-1.6zM427.4,385.7h1.6v1.6h-1.6zM427.1,386.4h1.6v1.6h-1.6zM416.9,389.5h1.6v1.6h-1.6zM427.6,388.4h1.6v1.6h-1.6zM423.0,384.0h1.6v1.6h-1.6zM427.8,387.4h1.6v1.6h-1.6zM426.0,384.8h1.6v1.6h-1.6zM422.6,388.5h1.6v1.6h-1.6zM424.0,386.3h1.6v1.6h-1.6zM424.2,385.1h1.6v1.6h-1.6zM416.5,387.5h1.6v1.6h-1.6zM426.2,383.3h1.6v1.6h-1.6zM425.0,388.1h1.6v1.6h-1.6zM427.6,384.9h1.6v1.6h-1.6zM423.1,389.3h1.6v1.6h-1.6zM418.2,389.9h1.6v1.6h-1.6zM424.3,384.5h1.6v1.6h-1.6zM424.0,382.9h1.6v1.6h-1.6zM423.6,388.5h1.6v1.6h-1.6zM422.6,386.9h1.6v1.6h-1.6zM423.5,384.9h1.6v1.6h-1.6zM416.9,389.5h1.6v1.6h-1.6zM424.3,388.2h1.6v1.6h-1.6zM424.4,386.8h1.6v1.6h-1.6zM428.5,385.4h1.6v1.6h-1.6zM430.6,388.3h1.6v1.6h-1.6zM423.6,389.1h1.6v1.6h-1.6zM425.4,386.5h1.6v1.6h-1.6zM419.0,391.4h1.6v1.6h-1.6zM418.8,387.3h1.6v1.6h-1.6zM436.3,388.9h1.6v1.6h-1.6zM418.8,383.5h1.6v1.6h-1.6zM425.7,387.8h1.6v1.6h-1.6zM423.2,391.0h1.6v1.6h-1.6zM432.7,388.8h1.6v1.6h-1.6zM426.9,385.6h1.6v1.6h-1.6zM419.6,389.0h1.6v1.6h-1.6zM421.8,386.4h1.6v1.6h-1.6zM422.2,387.5h1.6v1.6h-1.6zM426.7,386.9h1.6v1.6h-1.6zM427.0,384.9h1.6v1.6h-1.6zM420.1,387.2h1.6v1.6h-1.6zM426.9,385.2h1.6v1.6h-1.6zM426.3,388.9h1.6v1.6h-1.6zM427.0,388.0h1.6v1.6h-1.6zM423.5,392.8h1.6v1.6h-1.6zM417.5,387.9h1.6v1.6h-1.6zM427.5,387.3h1.6v1.6h-1.6zM425.6,383.9h1.6v1.6h-1.6zM427.9,386.5h1.6v1.6h-1.6zM425.7,386.0h1.6v1.6h-1.6zM419.4,386.2h1.6v1.6h-1.6zM415.6,388.6h1.6v1.6h-1.6zM429.1,385.9h1.6v1.6h-1.6zM427.1,386.3h1.6v1.6h-1.6zM417.9,392.3h1.6v1.6h-1.6zM419.3,393.1h1.6v1.6h-1.6zM427.0,387.8h1.6v1.6h-1.6zM418.4,383.6h1.6v1.6h-1.6zM426.7,387.2h1.6v1.6h-1.6zM426.5,387.2h1.6v1.6h-1.6zM421.1,386.8h1.6v1.6h-1.6zM428.5,389.3h1.6v1.6h-1.6zM434.1,397.3h1.6v1.6h-1.6zM432.1,380.6h1.6v1.6h-1.6zM435.7,383.3h1.6v1.6h-1.6zM427.4,385.5h1.6v1.6h-1.6zM426.6,388.1h1.6v1.6h-1.6zM429.6,388.1h1.6v1.6h-1.6zM415.4,391.0h1.6v1.6h-1.6zM422.0,389.1h1.6v1.6h-1.6zM416.5,391.8h1.6v1.6h-1.6zM422.9,387.4h1.6v1.6h-1.6zM415.6,391.4h1.6v1.6h-1.6zM426.6,391.7h1.6v1.6h-1.6zM426.8,379.6h1.6v1.6h-1.6zM423.5,389.7h1.6v1.6h-1.6zM425.2,395.7h1.6v1.6h-1.6zM424.0,385.5h1.6v1.6h-1.6zM420.8,392.1h1.6v1.6h-1.6zM418.5,388.3h1.6v1.6h-1.6zM429.7,389.2h1.6v1.6h-1.6zM411.1,385.2h1.6v1.6h-1.6zM434.8,388.1h1.6v1.6h-1.6zM420.5,389.6h1.6v1.6h-1.6zM424.2,387.5h1.6v1.6h-1.6zM425.7,392.8h1.6v1.6h-1.6zM420.1,394.9h1.6v1.6h-1.6zM431.1,389.0h1.6v1.6h-1.6zM425.1,388.6h1.6v1.6h-1.6zM424.6,390.0h1.6v1.6h-1.6zM428.2,391.0h1.6v1.6h-1.6zM440.9,387.7h1.6v1.6h-1.6zM418.9,435.6h1.6v1.6h-1.6zM415.9,433.0h1.6v1.6h-1.6zM418.8,421.4h1.6v1.6h-1.6zM414.3,424.6h1.6v1.6h-1.6zM419.7,434.0h1.6v1.6h-1.6zM422.2,436.3h1.6v1.6h-1.6zM417.4,430.2h1.6v1.6h-1.6zM415.2,432.6h1.6v1.6h-1.6zM413.7,413.6h1.6v1.6h-1.6zM417.0,431.1h1.6v1.6h-1.6zM411.8,425.6h1.6v1.6h-1.6zM412.3,434.9h1.6v1.6h-1.6zM421.3,425.2h1.6v1.6h-1.6zM412.5,439.4h1.6v1.6h-1.6zM427.4,434.6h1.6v1.6h-1.6zM421.3,435.4h1.6v1.6h-1.6zM422.6,417.9h1.6v1.6h-1.6zM410.5,436.3h1.6v1.6h-1.6zM422.7,439.1h1.6v1.6h-1.6zM406.1,423.4h1.6v1.6h-1.6zM423.7,423.0h1.6v1.6h-1.6zM419.2,434.6h1.6v1.6h-1.6zM421.7,428.9h1.6v1.6h-1.6zM432.3,435.4h1.6v1.6h-1.6zM414.7,416.2h1.6v1.6h-1.6zM410.5,433.3h1.6v1.6h-1.6zM430.2,430.8h1.6v1.6h-1.6zM423.3,423.1h1.6v1.6h-1.6zM416.7,425.6h1.6v1.6h-1.6zM417.5,437.3h1.6v1.6h-1.6zM420.3,410.9h1.6v1.6h-1.6zM417.4,426.4h1.6v1.6h-1.6zM420.2,423.9h1.6v1.6h-1.6zM425.0,431.6h1.6v1.6h-1.6zM420.6,435.2h1.6v1.6h-1.6zM425.1,433.9h1.6v1.6h-1.6zM414.7,429.7h1.6v1.6h-1.6zM415.7,413.3h1.6v1.6h-1.6zM421.5,434.9h1.6v1.6h-1.6zM421.0,437.4h1.6v1.6h-1.6zM413.9,432.9h1.6v1.6h-1.6zM406.6,424.6h1.6v1.6h-1.6zM416.2,428.3h1.6v1.6h-1.6zM411.6,429.9h1.6v1.6h-1.6zM414.4,430.0h1.6v1.6h-1.6zM415.1,434.5h1.6v1.6h-1.6zM413.8,432.4h1.6v1.6h-1.6zM422.0,431.7h1.6v1.6h-1.6zM415.1,424.4h1.6v1.6h-1.6zM426.6,410.5h1.6v1.6h-1.6zM414.7,429.4h1.6v1.6h-1.6zM423.5,436.6h1.6v1.6h-1.6zM416.4,423.4h1.6v1.6h-1.6zM414.1,419.7h1.6v1.6h-1.6zM424.6,432.0h1.6v1.6h-1.6zM412.0,419.6h1.6v1.6h-1.6zM425.1,437.8h1.6v1.6h-1.6zM421.2,421.1h1.6v1.6h-1.6zM417.0,435.4h1.6v1.6h-1.6zM418.7,433.5h1.6v1.6h-1.6zM430.2,429.2h1.6v1.6h-1.6zM417.2,426.6h1.6v1.6h-1.6zM425.8,427.0h1.6v1.6h-1.6zM416.0,426.4h1.6v1.6h-1.6zM420.4,428.9h1.6v1.6h-1.6zM413.6,434.2h1.6v1.6h-1.6zM426.3,426.9h1.6v1.6h-1.6zM412.9,427.5h1.6v1.6h-1.6zM418.3,428.6h1.6v1.6h-1.6zM428.0,418.0h1.6v1.6h-1.6zM412.6,431.9h1.6v1.6h-1.6zM411.3,428.8h1.6v1.6h-1.6zM422.4,417.8h1.6v1.6h-1.6zM416.6,434.2h1.6v1.6h-1.6zM422.3,428.2h1.6v1.6h-1.6zM419.1,420.8h1.6v1.6h-1.6zM418.8,435.7h1.6v1.6h-1.6zM424.0,437.7h1.6v1.6h-1.6zM416.5,429.1h1.6v1.6h-1.6zM416.1,428.9h1.6v1.6h-1.6zM430.2,425.4h1.6v1.6h-1.6zM416.1,431.8h1.6v1.6h-1.6zM408.4,416.7h1.6v1.6h-1.6zM415.0,412.7h1.6v1.6h-1.6zM411.1,421.6h1.6v1.6h-1.6zM420.7,432.0h1.6v1.6h-1.6zM422.0,427.1h1.6v1.6h-1.6zM407.7,434.6h1.6v1.6h-1.6zM416.4,423.1h1.6v1.6h-1.6zM428.7,425.4h1.6v1.6h-1.6zM426.6,433.3h1.6v1.6h-1.6zM411.1,428.7h1.6v1.6h-1.6zM409.0,425.3h1.6v1.6h-1.6zM419.5,426.6h1.6v1.6h-1.6zM424.6,425.0h1.6v1.6h-1.6zM419.6,424.8h1.6v1.6h-1.6zM414.7,436.0h1.6v1.6h-1.6zM433.5,429.6h1.6v1.6h-1.6zM417.9,423.7h1.6v1.6h-1.6zM415.4,432.6h1.6v1.6h-1.6zM421.9,420.1h1.6v1.6h-1.6zM419.4,422.3h1.6v1.6h-1.6zM424.5,430.9h1.6v1.6h-1.6zM418.0,437.3h1.6v1.6h-1.6zM416.7,436.3h1.6v1.6h-1.6zM420.1,428.4h1.6v1.6h-1.6zM415.0,438.2h1.6v1.6h-1.6zM418.8,423.0h1.6v1.6h-1.6zM417.3,424.0h1.6v1.6h-1.6zM409.1,435.8h1.6v1.6h-1.6zM424.9,435.8h1.6v1.6h-1.6zM408.8,430.0h1.6v1.6h-1.6zM407.4,425.8h1.6v1.6h-1.6zM426.9,420.4h1.6v1.6h-1.6zM414.3,428.4h1.6v1.6h-1.6zM421.7,423.1h1.6v1.6h-1.6zM416.8,436.2h1.6v1.6h-1.6zM421.5,427.4h1.6v1.6h-1.6zM424.9,421.5h1.6v1.6h-1.6zM420.0,419.4h1.6v1.6h-1.6zM419.9,428.3h1.6v1.6h-1.6zM409.6,429.0h1.6v1.6h-1.6zM423.6,435.4h1.6v1.6h-1.6zM423.6,439.2h1.6v1.6h-1.6zM420.1,425.7h1.6v1.6h-1.6zM423.9,424.4h1.6v1.6h-1.6zM424.2,423.0h1.6v1.6h-1.6zM418.6,423.5h1.6v1.6h-1.6zM414.0,434.1h1.6v1.6h-1.6zM423.1,427.4h1.6v1.6h-1.6zM419.2,418.5h1.6v1.6h-1.6zM429.7,424.2h1.6v1.6h-1.6zM417.8,429.3h1.6v1.6h-1.6zM430.8,425.9h1.6v1.6h-1.6zM416.2,424.2h1.6v1.6h-1.6zM427.0,432.1h1.6v1.6h-1.6zM422.7,427.9h1.6v1.6h-1.6zM422.2,434.8h1.6v1.6h-1.6zM427.5,420.0h1.6v1.6h-1.6zM427.4,426.2h1.6v1.6h-1.6zM412.4,425.0h1.6v1.6h-1.6zM412.3,428.4h1.6v1.6h-1.6zM421.2,427.1h1.6v1.6h-1.6zM422.0,422.4h1.6v1.6h-1.6zM421.6,414.8h1.6v1.6h-1.6zM419.7,432.5h1.6v1.6h-1.6zM419.5,428.9h1.6v1.6h-1.6zM416.0,428.1h1.6v1.6h-1.6zM411.7,436.3h1.6v1.6h-1.6zM425.5,420.4h1.6v1.6h-1.6zM409.5,439.1h1.6v1.6h-1.6zM412.0,419.6h1.6v1.6h-1.6zM418.1,429.0h1.6v1.6h-1.6zM423.7,423.4h1.6v1.6h-1.6zM409.1,427.3h1.6v1.6h-1.6zM425.3,427.7h1.6v1.6h-1.6zM411.4,428.7h1.6v1.6h-1.6zM417.0,432.7h1.6v1.6h-1.6zM421.1,425.7h1.6v1.6h-1.6zM420.3,431.2h1.6v1.6h-1.6zM418.8,421.5h1.6v1.6h-1.6zM416.7,420.4h1.6v1.6h-1.6zM414.5,417.5h1.6v1.6h-1.6zM423.8,430.1h1.6v1.6h-1.6zM418.5,437.4h1.6v1.6h-1.6zM431.0,436.1h1.6v1.6h-1.6zM426.0,435.1h1.6v1.6h-1.6zM418.1,428.3h1.6v1.6h-1.6zM424.3,434.4h1.6v1.6h-1.6zM419.1,425.8h1.6v1.6h-1.6zM417.9,430.0h1.6v1.6h-1.6zM422.7,437.7h1.6v1.6h-1.6zM416.6,431.3h1.6v1.6h-1.6zM425.2,437.2h1.6v1.6h-1.6zM413.3,437.0h1.6v1.6h-1.6zM418.8,436.8h1.6v1.6h-1.6zM430.2,421.5h1.6v1.6h-1.6zM418.0,433.6h1.6v1.6h-1.6zM434.3,426.6h1.6v1.6h-1.6zM411.1,437.3h1.6v1.6h-1.6zM410.3,415.2h1.6v1.6h-1.6zM418.1,427.6h1.6v1.6h-1.6zM418.0,430.5h1.6v1.6h-1.6zM424.2,419.3h1.6v1.6h-1.6zM424.0,435.5h1.6v1.6h-1.6zM420.4,423.3h1.6v1.6h-1.6zM417.4,429.5h1.6v1.6h-1.6zM417.6,429.6h1.6v1.6h-1.6zM430.4,423.7h1.6v1.6h-1.6zM415.3,423.4h1.6v1.6h-1.6zM430.4,424.9h1.6v1.6h-1.6zM418.9,424.1h1.6v1.6h-1.6zM429.5,437.2h1.6v1.6h-1.6zM411.1,428.4h1.6v1.6h-1.6zM413.3,437.9h1.6v1.6h-1.6zM410.8,420.9h1.6v1.6h-1.6zM411.6,435.3h1.6v1.6h-1.6zM418.5,431.9h1.6v1.6h-1.6zM418.0,437.5h1.6v1.6h-1.6zM421.1,438.0h1.6v1.6h-1.6zM417.2,431.0h1.6v1.6h-1.6zM425.6,430.8h1.6v1.6h-1.6zM416.9,427.9h1.6v1.6h-1.6zM420.6,436.3h1.6v1.6h-1.6zM416.4,430.5h1.6v1.6h-1.6zM422.6,427.1h1.6v1.6h-1.6zM419.9,418.7h1.6v1.6h-1.6zM423.0,421.2h1.6v1.6h-1.6zM411.9,432.6h1.6v1.6h-1.6zM425.4,434.9h1.6v1.6h-1.6zM408.5,434.6h1.6v1.6h-1.6zM411.9,433.2h1.6v1.6h-1.6zM417.3,424.5h1.6v1.6h-1.6zM430.0,429.6h1.6v1.6h-1.6zM419.6,434.9h1.6v1.6h-1.6zM429.6,423.5h1.6v1.6h-1.6zM419.8,435.5h1.6v1.6h-1.6zM426.9,428.1h1.6v1.6h-1.6zM411.0,432.5h1.6v1.6h-1.6zM421.4,439.2h1.6v1.6h-1.6zM424.1,428.6h1.6v1.6h-1.6zM415.5,419.1h1.6v1.6h-1.6zM413.6,424.3h1.6v1.6h-1.6zM425.8,418.1h1.6v1.6h-1.6zM421.2,433.2h1.6v1.6h-1.6zM419.1,435.3h1.6v1.6h-1.6zM418.4,431.9h1.6v1.6h-1.6zM421.0,419.7h1.6v1.6h-1.6zM419.5,437.6h1.6v1.6h-1.6zM410.0,417.8h1.6v1.6h-1.6zM414.2,422.6h1.6v1.6h-1.6zM425.3,436.7h1.6v1.6h-1.6zM425.7,417.9h1.6v1.6h-1.6zM418.2,433.1h1.6v1.6h-1.6zM413.4,412.8h1.6v1.6h-1.6zM416.6,425.2h1.6v1.6h-1.6zM410.6,425.8h1.6v1.6h-1.6zM405.5,425.8h1.6v1.6h-1.6zM419.2,437.5h1.6v1.6h-1.6zM423.1,425.0h1.6v1.6h-1.6zM410.3,435.6h1.6v1.6h-1.6zM409.3,420.2h1.6v1.6h-1.6zM416.8,425.1h1.6v1.6h-1.6zM425.7,427.0h1.6v1.6h-1.6zM424.6,431.4h1.6v1.6h-1.6zM421.2,427.3h1.6v1.6h-1.6zM426.2,432.8h1.6v1.6h-1.6zM415.4,419.4h1.6v1.6h-1.6zM426.5,437.0h1.6v1.6h-1.6zM423.8,427.1h1.6v1.6h-1.6zM422.6,428.3h1.6v1.6h-1.6zM416.0,436.2h1.6v1.6h-1.6zM421.1,420.3h1.6v1.6h-1.6zM430.3,431.9h1.6v1.6h-1.6zM409.1,427.2h1.6v1.6h-1.6zM405.9,429.9h1.6v1.6h-1.6zM422.0,429.5h1.6v1.6h-1.6zM422.0,420.7h1.6v1.6h-1.6zM423.9,431.7h1.6v1.6h-1.6zM421.1,432.4h1.6v1.6h-1.6zM419.3,432.7h1.6v1.6h-1.6zM417.6,437.4h1.6v1.6h-1.6zM410.6,433.9h1.6v1.6h-1.6zM406.0,427.6h1.6v1.6h-1.6zM424.8,434.0h1.6v1.6h-1.6zM423.5,429.2h1.6v1.6h-1.6zM425.1,435.0h1.6v1.6h-1.6zM412.7,425.4h1.6v1.6h-1.6zM414.0,421.6h1.6v1.6h-1.6zM417.2,414.8h1.6v1.6h-1.6zM417.8,433.3h1.6v1.6h-1.6zM422.4,419.6h1.6v1.6h-1.6zM417.8,434.4h1.6v1.6h-1.6zM425.4,424.0h1.6v1.6h-1.6zM417.5,425.9h1.6v1.6h-1.6zM429.6,432.5h1.6v1.6h-1.6zM407.2,420.6h1.6v1.6h-1.6zM421.5,437.1h1.6v1.6h-1.6zM419.3,418.5h1.6v1.6h-1.6zM422.2,438.5h1.6v1.6h-1.6zM417.2,426.8h1.6v1.6h-1.6zM419.9,414.3h1.6v1.6h-1.6zM417.3,434.0h1.6v1.6h-1.6zM426.8,432.1h1.6v1.6h-1.6zM412.3,438.4h1.6v1.6h-1.6zM410.9,431.1h1.6v1.6h-1.6zM418.0,434.2h1.6v1.6h-1.6zM421.3,438.0h1.6v1.6h-1.6zM428.5,427.5h1.6v1.6h-1.6zM418.0,427.7h1.6v1.6h-1.6zM416.6,428.6h1.6v1.6h-1.6zM422.5,436.3h1.6v1.6h-1.6zM424.5,422.9h1.6v1.6h-1.6zM425.6,433.1h1.6v1.6h-1.6zM415.4,420.6h1.6v1.6h-1.6zM434.4,420.7h1.6v1.6h-1.6zM421.4,428.7h1.6v1.6h-1.6zM430.3,427.6h1.6v1.6h-1.6zM419.7,429.7h1.6v1.6h-1.6zM418.8,423.7h1.6v1.6h-1.6zM421.5,427.8h1.6v1.6h-1.6zM411.5,429.3h1.6v1.6h-1.6zM421.7,438.0h1.6v1.6h-1.6zM424.9,420.6h1.6v1.6h-1.6zM429.8,434.4h1.6v1.6h-1.6zM424.0,425.8h1.6v1.6h-1.6zM416.9,433.6h1.6v1.6h-1.6zM424.6,416.8h1.6v1.6h-1.6zM415.3,413.0h1.6v1.6h-1.6zM417.2,432.5h1.6v1.6h-1.6zM419.7,420.6h1.6v1.6h-1.6zM411.6,428.8h1.6v1.6h-1.6zM418.2,425.5h1.6v1.6h-1.6zM418.5,427.4h1.6v1.6h-1.6zM422.7,434.3h1.6v1.6h-1.6zM414.7,424.0h1.6v1.6h-1.6zM417.4,426.3h1.6v1.6h-1.6zM420.9,419.6h1.6v1.6h-1.6zM414.1,427.6h1.6v1.6h-1.6zM416.5,435.0h1.6v1.6h-1.6zM419.8,422.6h1.6v1.6h-1.6zM423.6,435.0h1.6v1.6h-1.6zM416.6,436.4h1.6v1.6h-1.6zM414.4,437.1h1.6v1.6h-1.6zM420.8,430.4h1.6v1.6h-1.6zM432.4,424.0h1.6v1.6h-1.6zM414.7,433.6h1.6v1.6h-1.6zM418.1,432.7h1.6v1.6h-1.6zM423.2,428.2h1.6v1.6h-1.6zM415.4,430.7h1.6v1.6h-1.6zM413.7,425.9h1.6v1.6h-1.6zM410.5,433.8h1.6v1.6h-1.6zM419.5,427.4h1.6v1.6h-1.6zM425.9,414.7h1.6v1.6h-1.6zM419.4,417.8h1.6v1.6h-1.6zM412.6,423.9h1.6v1.6h-1.6zM426.1,423.5h1.6v1.6h-1.6zM417.1,414.2h1.6v1.6h-1.6zM416.9,426.2h1.6v1.6h-1.6zM418.4,424.8h1.6v1.6h-1.6zM421.4,424.6h1.6v1.6h-1.6zM430.1,426.7h1.6v1.6h-1.6zM419.6,413.4h1.6v1.6h-1.6zM425.9,418.5h1.6v1.6h-1.6zM422.0,417.1h1.6v1.6h-1.6zM421.1,421.9h1.6v1.6h-1.6zM424.7,428.2h1.6v1.6h-1.6zM419.9,417.1h1.6v1.6h-1.6zM420.4,434.2h1.6v1.6h-1.6zM426.2,423.6h1.6v1.6h-1.6zM409.8,430.4h1.6v1.6h-1.6zM406.5,433.9h1.6v1.6h-1.6zM420.5,427.0h1.6v1.6h-1.6zM420.4,420.7h1.6v1.6h-1.6zM424.1,432.3h1.6v1.6h-1.6zM421.8,422.7h1.6v1.6h-1.6zM422.5,437.7h1.6v1.6h-1.6zM421.3,432.2h1.6v1.6h-1.6zM419.0,430.7h1.6v1.6h-1.6zM408.6,433.8h1.6v1.6h-1.6zM419.5,418.1h1.6v1.6h-1.6zM429.9,406.7h1.6v1.6h-1.6zM415.3,438.6h1.6v1.6h-1.6zM416.7,425.7h1.6v1.6h-1.6zM416.2,423.2h1.6v1.6h-1.6zM420.8,436.3h1.6v1.6h-1.6zM425.1,428.7h1.6v1.6h-1.6zM413.1,420.6h1.6v1.6h-1.6zM418.3,434.4h1.6v1.6h-1.6zM419.8,429.6h1.6v1.6h-1.6zM409.8,429.1h1.6v1.6h-1.6zM411.0,428.5h1.6v1.6h-1.6zM421.5,429.5h1.6v1.6h-1.6zM419.6,427.8h1.6v1.6h-1.6zM424.7,437.8h1.6v1.6h-1.6zM422.2,419.9h1.6v1.6h-1.6zM419.7,438.2h1.6v1.6h-1.6zM424.8,428.0h1.6v1.6h-1.6zM419.4,436.2h1.6v1.6h-1.6zM418.4,431.9h1.6v1.6h-1.6zM428.8,432.5h1.6v1.6h-1.6zM413.1,425.1h1.6v1.6h-1.6zM435.3,414.2h1.6v1.6h-1.6zM414.0,436.3h1.6v1.6h-1.6zM418.6,433.7h1.6v1.6h-1.6zM420.5,424.7h1.6v1.6h-1.6zM423.1,430.1h1.6v1.6h-1.6zM418.6,433.5h1.6v1.6h-1.6zM415.2,426.7h1.6v1.6h-1.6zM412.6,435.8h1.6v1.6h-1.6zM422.2,427.8h1.6v1.6h-1.6zM416.1,436.1h1.6v1.6h-1.6zM411.1,427.9h1.6v1.6h-1.6zM428.2,433.3h1.6v1.6h-1.6zM413.4,431.8h1.6v1.6h-1.6zM412.8,434.4h1.6v1.6h-1.6zM411.7,430.4h1.6v1.6h-1.6zM416.8,439.0h1.6v1.6h-1.6zM418.5,421.4h1.6v1.6h-1.6zM420.3,417.2h1.6v1.6h-1.6zM412.3,435.5h1.6v1.6h-1.6zM419.6,423.2h1.6v1.6h-1.6zM420.5,414.9h1.6v1.6h-1.6zM417.2,431.2h1.6v1.6h-1.6zM425.6,422.5h1.6v1.6h-1.6zM416.0,420.5h1.6v1.6h-1.6zM410.6,437.5h1.6v1.6h-1.6zM426.3,413.5h1.6v1.6h-1.6zM424.4,422.2h1.6v1.6h-1.6zM414.3,425.7h1.6v1.6h-1.6zM415.2,419.5h1.6v1.6h-1.6zM425.1,428.6h1.6v1.6h-1.6zM413.8,436.3h1.6v1.6h-1.6zM416.4,429.8h1.6v1.6h-1.6zM416.9,422.7h1.6v1.6h-1.6zM412.6,420.7h1.6v1.6h-1.6zM431.6,438.4h1.6v1.6h-1.6zM429.1,419.9h1.6v1.6h-1.6zM418.9,427.1h1.6v1.6h-1.6zM426.1,414.7h1.6v1.6h-1.6zM413.9,424.4h1.6v1.6h-1.6zM407.0,419.9h1.6v1.6h-1.6zM417.1,433.6h1.6v1.6h-1.6zM419.9,429.0h1.6v1.6h-1.6zM417.4,423.6h1.6v1.6h-1.6zM424.5,417.4h1.6v1.6h-1.6zM423.6,435.6h1.6v1.6h-1.6zM417.3,429.2h1.6v1.6h-1.6zM422.4,422.7h1.6v1.6h-1.6zM414.9,435.1h1.6v1.6h-1.6zM430.1,425.7h1.6v1.6h-1.6zM428.0,439.3h1.6v1.6h-1.6zM423.5,434.1h1.6v1.6h-1.6zM419.5,419.2h1.6v1.6h-1.6zM420.7,432.7h1.6v1.6h-1.6zM407.4,422.8h1.6v1.6h-1.6zM413.9,428.2h1.6v1.6h-1.6zM411.5,426.6h1.6v1.6h-1.6zM411.3,429.1h1.6v1.6h-1.6zM418.4,423.2h1.6v1.6h-1.6zM413.2,435.8h1.6v1.6h-1.6zM410.3,432.7h1.6v1.6h-1.6zM413.0,435.1h1.6v1.6h-1.6zM421.9,436.6h1.6v1.6h-1.6zM421.8,417.3h1.6v1.6h-1.6zM426.5,430.6h1.6v1.6h-1.6zM418.6,428.5h1.6v1.6h-1.6zM420.8,424.6h1.6v1.6h-1.6zM429.1,416.0h1.6v1.6h-1.6zM410.7,428.2h1.6v1.6h-1.6zM411.9,422.2h1.6v1.6h-1.6zM408.8,437.4h1.6v1.6h-1.6zM418.0,422.5h1.6v1.6h-1.6zM423.6,423.8h1.6v1.6h-1.6zM417.7,431.0h1.6v1.6h-1.6zM420.4,432.5h1.6v1.6h-1.6zM410.7,422.9h1.6v1.6h-1.6zM439.2,430.1h1.6v1.6h-1.6zM416.6,428.1h1.6v1.6h-1.6zM413.1,430.7h1.6v1.6h-1.6zM430.0,429.2h1.6v1.6h-1.6zM426.7,424.5h1.6v1.6h-1.6zM420.2,431.7h1.6v1.6h-1.6zM424.8,437.4h1.6v1.6h-1.6zM422.6,418.8h1.6v1.6h-1.6zM420.0,437.9h1.6v1.6h-1.6zM423.5,431.4h1.6v1.6h-1.6zM416.7,427.2h1.6v1.6h-1.6zM423.4,433.9h1.6v1.6h-1.6zM418.7,428.5h1.6v1.6h-1.6zM413.8,431.2h1.6v1.6h-1.6zM421.4,432.0h1.6v1.6h-1.6zM416.2,423.9h1.6v1.6h-1.6zM410.0,435.2h1.6v1.6h-1.6zM419.8,436.4h1.6v1.6h-1.6zM422.0,422.4h1.6v1.6h-1.6zM425.4,438.5h1.6v1.6h-1.6zM409.9,419.1h1.6v1.6h-1.6zM417.4,421.6h1.6v1.6h-1.6zM423.7,432.2h1.6v1.6h-1.6zM421.1,413.0h1.6v1.6h-1.6zM425.0,431.9h1.6v1.6h-1.6zM410.8,422.2h1.6v1.6h-1.6zM418.9,425.2h1.6v1.6h-1.6zM412.3,435.5h1.6v1.6h-1.6zM430.3,432.6h1.6v1.6h-1.6zM427.5,435.6h1.6v1.6h-1.6zM418.0,434.7h1.6v1.6h-1.6zM418.4,429.5h1.6v1.6h-1.6zM429.1,434.8h1.6v1.6h-1.6zM413.1,430.7h1.6v1.6h-1.6zM432.0,420.6h1.6v1.6h-1.6zM420.8,429.6h1.6v1.6h-1.6zM419.3,424.5h1.6v1.6h-1.6zM428.6,417.8h1.6v1.6h-1.6zM428.9,426.3h1.6v1.6h-1.6zM421.1,430.8h1.6v1.6h-1.6zM423.9,425.4h1.6v1.6h-1.6zM414.6,426.2h1.6v1.6h-1.6zM414.2,434.6h1.6v1.6h-1.6zM422.2,429.1h1.6v1.6h-1.6zM412.6,432.2h1.6v1.6h-1.6zM425.1,421.9h1.6v1.6h-1.6zM420.7,422.1h1.6v1.6h-1.6zM417.7,435.5h1.6v1.6h-1.6zM422.3,429.1h1.6v1.6h-1.6zM419.8,427.8h1.6v1.6h-1.6zM419.3,435.6h1.6v1.6h-1.6zM428.1,427.2h1.6v1.6h-1.6zM426.9,437.9h1.6v1.6h-1.6zM412.4,425.9h1.6v1.6h-1.6zM418.0,437.4h1.6v1.6h-1.6zM420.3,431.4h1.6v1.6h-1.6zM412.7,416.4h1.6v1.6h-1.6zM422.9,436.8h1.6v1.6h-1.6zM412.4,420.6h1.6v1.6h-1.6zM420.3,437.1h1.6v1.6h-1.6zM419.9,424.3h1.6v1.6h-1.6zM414.2,425.4h1.6v1.6h-1.6zM423.8,433.5h1.6v1.6h-1.6zM426.5,435.6h1.6v1.6h-1.6zM419.6,427.1h1.6v1.6h-1.6zM409.1,439.1h1.6v1.6h-1.6zM408.6,420.7h1.6v1.6h-1.6zM426.8,432.7h1.6v1.6h-1.6zM422.9,428.7h1.6v1.6h-1.6zM419.5,423.7h1.6v1.6h-1.6zM420.0,422.3h1.6v1.6h-1.6zM409.7,428.7h1.6v1.6h-1.6zM406.4,428.1h1.6v1.6h-1.6zM419.6,425.9h1.6v1.6h-1.6zM414.2,433.1h1.6v1.6h-1.6zM414.9,433.5h1.6v1.6h-1.6zM429.6,424.3h1.6v1.6h-1.6zM432.2,414.3h1.6v1.6h-1.6zM431.2,436.4h1.6v1.6h-1.6zM430.5,424.7h1.6v1.6h-1.6zM417.1,427.1h1.6v1.6h-1.6zM424.9,428.0h1.6v1.6h-1.6zM416.7,425.5h1.6v1.6h-1.6zM422.0,401.9h1.6v1.6h-1.6zM426.7,419.2h1.6v1.6h-1.6zM419.8,424.4h1.6v1.6h-1.6zM419.0,436.7h1.6v1.6h-1.6zM431.2,425.6h1.6v1.6h-1.6zM436.0,424.0h1.6v1.6h-1.6zM427.9,423.6h1.6v1.6h-1.6zM426.0,429.8h1.6v1.6h-1.6zM425.7,417.2h1.6v1.6h-1.6zM444.0,438.5h1.6v1.6h-1.6zM426.4,413.1h1.6v1.6h-1.6zM415.6,400.3h1.6v1.6h-1.6zM421.4,404.1h1.6v1.6h-1.6zM434.1,438.4h1.6v1.6h-1.6zM449.4,425.0h1.6v1.6h-1.6zM442.4,421.6h1.6v1.6h-1.6zM421.5,418.1h1.6v1.6h-1.6zM438.2,414.7h1.6v1.6h-1.6zM455.1,423.6h1.6v1.6h-1.6zM430.9,433.6h1.6v1.6h-1.6zM444.2,424.6h1.6v1.6h-1.6zM437.7,427.8h1.6v1.6h-1.6zM438.9,430.9h1.6v1.6h-1.6zM427.2,429.1h1.6v1.6h-1.6zM422.1,428.0h1.6v1.6h-1.6zM422.5,417.6h1.6v1.6h-1.6zM428.0,420.8h1.6v1.6h-1.6zM432.7,432.5h1.6v1.6h-1.6zM451.5,415.2h1.6v1.6h-1.6zM436.8,431.3h1.6v1.6h-1.6zM424.0,412.0h1.6v1.6h-1.6zM440.9,428.0h1.6v1.6h-1.6zM451.1,427.6h1.6v1.6h-1.6zM445.1,415.5h1.6v1.6h-1.6zM417.6,427.3h1.6v1.6h-1.6zM412.8,423.9h1.6v1.6h-1.6zM417.5,429.4h1.6v1.6h-1.6zM428.8,418.2h1.6v1.6h-1.6zM424.1,431.6h1.6v1.6h-1.6zM415.4,428.6h1.6v1.6h-1.6zM417.8,416.8h1.6v1.6h-1.6zM440.5,420.4h1.6v1.6h-1.6zM407.2,412.2h1.6v1.6h-1.6zM425.8,432.7h1.6v1.6h-1.6zM412.0,429.2h1.6v1.6h-1.6zM430.0,435.6h1.6v1.6h-1.6zM416.5,402.4h1.6v1.6h-1.6zM429.9,414.2h1.6v1.6h-1.6zM429.2,410.1h1.6v1.6h-1.6zM426.0,425.4h1.6v1.6h-1.6zM435.1,417.5h1.6v1.6h-1.6zM417.6,421.7h1.6v1.6h-1.6zM448.8,421.2h1.6v1.6h-1.6zM435.7,432.6h1.6v1.6h-1.6zM434.0,430.3h1.6v1.6h-1.6zM406.9,435.1h1.6v1.6h-1.6zM434.3,423.0h1.6v1.6h-1.6zM431.1,430.0h1.6v1.6h-1.6zM424.2,425.0h1.6v1.6h-1.6zM418.0,429.5h1.6v1.6h-1.6zM410.7,423.6h1.6v1.6h-1.6zM419.5,431.9h1.6v1.6h-1.6zM439.8,427.6h1.6v1.6h-1.6zM429.7,430.2h1.6v1.6h-1.6zM410.3,426.0h1.6v1.6h-1.6zM412.6,425.7h1.6v1.6h-1.6zM420.2,419.7h1.6v1.6h-1.6zM434.3,437.5h1.6v1.6h-1.6zM416.5,418.9h1.6v1.6h-1.6zM424.7,418.7h1.6v1.6h-1.6zM424.6,424.8h1.6v1.6h-1.6zM415.1,435.4h1.6v1.6h-1.6zM406.9,424.2h1.6v1.6h-1.6zM440.1,427.3h1.6v1.6h-1.6zM415.1,419.8h1.6v1.6h-1.6zM420.5,418.7h1.6v1.6h-1.6zM410.0,413.6h1.6v1.6h-1.6zM429.8,424.7h1.6v1.6h-1.6zM423.9,435.7h1.6v1.6h-1.6zM438.0,415.3h1.6v1.6h-1.6zM432.1,416.1h1.6v1.6h-1.6zM419.5,399.2h1.6v1.6h-1.6zM427.7,418.5h1.6v1.6h-1.6zM420.3,428.9h1.6v1.6h-1.6zM436.0,411.3h1.6v1.6h-1.6zM434.1,435.2h1.6v1.6h-1.6zM423.7,407.6h1.6v1.6h-1.6zM439.1,409.1h1.6v1.6h-1.6zM435.8,414.6h1.6v1.6h-1.6zM418.9,411.8h1.6v1.6h-1.6zM429.8,431.3h1.6v1.6h-1.6zM428.9,415.3h1.6v1.6h-1.6zM423.7,432.9h1.6v1.6h-1.6zM430.6,415.4h1.6v1.6h-1.6zM440.5,427.4h1.6v1.6h-1.6zM417.8,409.1h1.6v1.6h-1.6zM422.9,421.2h1.6v1.6h-1.6zM471.2,415.1h1.6v1.6h-1.6zM469.2,408.2h1.6v1.6h-1.6zM472.8,437.7h1.6v1.6h-1.6zM469.1,412.8h1.6v1.6h-1.6zM466.8,414.8h1.6v1.6h-1.6zM470.8,423.6h1.6v1.6h-1.6zM467.8,418.4h1.6v1.6h-1.6zM469.2,432.2h1.6v1.6h-1.6zM467.0,420.1h1.6v1.6h-1.6zM472.2,411.8h1.6v1.6h-1.6zM469.8,417.5h1.6v1.6h-1.6zM468.7,423.1h1.6v1.6h-1.6zM468.2,422.7h1.6v1.6h-1.6zM465.3,438.5h1.6v1.6h-1.6zM467.6,415.0h1.6v1.6h-1.6zM466.5,421.0h1.6v1.6h-1.6zM467.0,414.6h1.6v1.6h-1.6zM467.2,434.7h1.6v1.6h-1.6zM473.4,416.0h1.6v1.6h-1.6zM467.8,420.8h1.6v1.6h-1.6zM469.2,413.0h1.6v1.6h-1.6zM472.8,417.4h1.6v1.6h-1.6zM470.0,425.5h1.6v1.6h-1.6zM466.7,410.7h1.6v1.6h-1.6zM469.4,409.5h1.6v1.6h-1.6zM465.5,421.3h1.6v1.6h-1.6zM468.6,431.1h1.6v1.6h-1.6zM468.7,415.5h1.6v1.6h-1.6zM473.0,428.9h1.6v1.6h-1.6zM468.7,414.0h1.6v1.6h-1.6zM469.4,415.1h1.6v1.6h-1.6zM466.8,425.1h1.6v1.6h-1.6zM466.2,419.2h1.6v1.6h-1.6zM467.8,436.5h1.6v1.6h-1.6zM469.6,417.7h1.6v1.6h-1.6zM471.4,414.4h1.6v1.6h-1.6zM466.9,412.4h1.6v1.6h-1.6zM470.6,427.8h1.6v1.6h-1.6zM470.7,421.5h1.6v1.6h-1.6zM462.5,436.9h1.6v1.6h-1.6zM463.8,410.1h1.6v1.6h-1.6zM466.2,408.4h1.6v1.6h-1.6zM430.4,495.7h1.6v1.6h-1.6zM427.1,496.4h1.6v1.6h-1.6zM427.6,500.3h1.6v1.6h-1.6zM427.2,499.9h1.6v1.6h-1.6zM422.9,498.4h1.6v1.6h-1.6zM427.1,502.1h1.6v1.6h-1.6zM425.1,498.0h1.6v1.6h-1.6zM421.5,498.1h1.6v1.6h-1.6zM416.7,496.3h1.6v1.6h-1.6zM430.1,495.4h1.6v1.6h-1.6zM422.7,498.9h1.6v1.6h-1.6zM420.6,497.8h1.6v1.6h-1.6zM419.4,496.0h1.6v1.6h-1.6zM429.4,493.7h1.6v1.6h-1.6zM415.5,492.8h1.6v1.6h-1.6zM426.9,495.7h1.6v1.6h-1.6zM430.3,492.7h1.6v1.6h-1.6zM425.4,491.3h1.6v1.6h-1.6zM434.1,498.9h1.6v1.6h-1.6zM422.4,495.6h1.6v1.6h-1.6zM423.8,491.6h1.6v1.6h-1.6zM414.7,493.6h1.6v1.6h-1.6zM421.5,493.9h1.6v1.6h-1.6zM430.2,491.2h1.6v1.6h-1.6zM426.6,494.1h1.6v1.6h-1.6zM422.7,495.2h1.6v1.6h-1.6zM424.8,498.2h1.6v1.6h-1.6zM418.5,500.2h1.6v1.6h-1.6zM419.8,493.0h1.6v1.6h-1.6zM423.1,499.2h1.6v1.6h-1.6zM425.6,496.1h1.6v1.6h-1.6zM430.6,494.1h1.6v1.6h-1.6zM420.2,501.3h1.6v1.6h-1.6zM429.5,495.8h1.6v1.6h-1.6zM424.4,495.6h1.6v1.6h-1.6zM425.2,496.8h1.6v1.6h-1.6zM419.1,493.7h1.6v1.6h-1.6zM423.5,495.1h1.6v1.6h-1.6zM421.6,495.9h1.6v1.6h-1.6zM423.3,501.3h1.6v1.6h-1.6zM425.4,495.4h1.6v1.6h-1.6zM425.8,493.8h1.6v1.6h-1.6zM419.7,497.5h1.6v1.6h-1.6zM420.0,494.4h1.6v1.6h-1.6zM430.9,501.4h1.6v1.6h-1.6zM428.2,494.1h1.6v1.6h-1.6zM416.2,494.7h1.6v1.6h-1.6zM418.2,494.8h1.6v1.6h-1.6zM421.9,497.9h1.6v1.6h-1.6zM433.9,494.5h1.6v1.6h-1.6zM422.7,492.9h1.6v1.6h-1.6zM430.5,499.4h1.6v1.6h-1.6zM425.5,494.9h1.6v1.6h-1.6zM423.3,497.7h1.6v1.6h-1.6zM413.7,497.0h1.6v1.6h-1.6zM426.4,494.3h1.6v1.6h-1.6zM429.4,495.5h1.6v1.6h-1.6zM426.4,499.2h1.6v1.6h-1.6zM426.9,493.8h1.6v1.6h-1.6zM425.4,498.6h1.6v1.6h-1.6zM421.7,494.1h1.6v1.6h-1.6zM424.4,498.8h1.6v1.6h-1.6zM430.4,500.7h1.6v1.6h-1.6zM425.9,492.4h1.6v1.6h-1.6zM423.7,496.0h1.6v1.6h-1.6zM430.3,498.9h1.6v1.6h-1.6zM418.3,493.4h1.6v1.6h-1.6zM424.6,494.3h1.6v1.6h-1.6zM416.0,492.6h1.6v1.6h-1.6zM430.0,498.0h1.6v1.6h-1.6zM418.8,496.5h1.6v1.6h-1.6zM421.4,494.8h1.6v1.6h-1.6zM428.7,500.3h1.6v1.6h-1.6zM428.8,496.0h1.6v1.6h-1.6zM429.7,493.2h1.6v1.6h-1.6zM415.5,495.1h1.6v1.6h-1.6zM421.6,499.1h1.6v1.6h-1.6zM419.0,497.2h1.6v1.6h-1.6zM425.3,497.9h1.6v1.6h-1.6zM421.6,495.9h1.6v1.6h-1.6zM419.9,496.6h1.6v1.6h-1.6zM420.4,498.3h1.6v1.6h-1.6zM425.1,496.6h1.6v1.6h-1.6zM424.5,497.3h1.6v1.6h-1.6zM427.7,499.9h1.6v1.6h-1.6zM415.5,500.3h1.6v1.6h-1.6zM425.6,499.3h1.6v1.6h-1.6zM428.9,495.9h1.6v1.6h-1.6zM420.0,499.5h1.6v1.6h-1.6zM432.1,495.6h1.6v1.6h-1.6zM416.4,499.3h1.6v1.6h-1.6zM428.1,496.6h1.6v1.6h-1.6zM418.8,501.7h1.6v1.6h-1.6zM422.5,497.6h1.6v1.6h-1.6zM421.2,500.8h1.6v1.6h-1.6zM425.5,500.2h1.6v1.6h-1.6zM427.8,498.7h1.6v1.6h-1.6zM423.1,496.1h1.6v1.6h-1.6zM421.1,496.1h1.6v1.6h-1.6zM417.7,498.5h1.6v1.6h-1.6zM428.9,497.2h1.6v1.6h-1.6zM411.7,494.9h1.6v1.6h-1.6zM414.9,496.1h1.6v1.6h-1.6zM430.7,493.5h1.6v1.6h-1.6zM421.5,496.8h1.6v1.6h-1.6zM423.6,498.1h1.6v1.6h-1.6zM428.4,498.2h1.6v1.6h-1.6zM422.4,493.0h1.6v1.6h-1.6zM424.4,495.3h1.6v1.6h-1.6zM424.7,497.5h1.6v1.6h-1.6zM420.3,497.0h1.6v1.6h-1.6zM423.7,492.6h1.6v1.6h-1.6zM422.4,498.8h1.6v1.6h-1.6zM415.1,496.9h1.6v1.6h-1.6zM429.6,494.3h1.6v1.6h-1.6zM422.4,493.3h1.6v1.6h-1.6zM430.9,497.7h1.6v1.6h-1.6zM424.9,497.0h1.6v1.6h-1.6zM424.4,499.2h1.6v1.6h-1.6zM424.7,493.0h1.6v1.6h-1.6zM426.3,503.9h1.6v1.6h-1.6zM429.5,497.4h1.6v1.6h-1.6zM425.0,495.9h1.6v1.6h-1.6zM421.7,495.4h1.6v1.6h-1.6zM423.0,496.8h1.6v1.6h-1.6zM423.7,493.6h1.6v1.6h-1.6zM421.6,497.6h1.6v1.6h-1.6zM427.1,498.8h1.6v1.6h-1.6zM421.0,498.6h1.6v1.6h-1.6zM424.1,499.9h1.6v1.6h-1.6zM421.5,500.6h1.6v1.6h-1.6zM423.3,497.4h1.6v1.6h-1.6zM424.3,497.3h1.6v1.6h-1.6zM419.8,498.6h1.6v1.6h-1.6zM422.1,500.1h1.6v1.6h-1.6zM423.4,494.1h1.6v1.6h-1.6zM415.5,494.1h1.6v1.6h-1.6zM427.5,497.0h1.6v1.6h-1.6zM428.5,499.0h1.6v1.6h-1.6zM426.7,493.8h1.6v1.6h-1.6zM424.5,494.4h1.6v1.6h-1.6zM430.4,495.6h1.6v1.6h-1.6zM425.4,495.8h1.6v1.6h-1.6zM425.7,500.9h1.6v1.6h-1.6zM425.4,501.0h1.6v1.6h-1.6zM412.4,494.8h1.6v1.6h-1.6zM418.6,497.6h1.6v1.6h-1.6zM418.8,501.5h1.6v1.6h-1.6zM424.7,498.1h1.6v1.6h-1.6zM435.0,495.0h1.6v1.6h-1.6zM422.8,498.4h1.6v1.6h-1.6zM421.4,498.1h1.6v1.6h-1.6zM417.7,498.0h1.6v1.6h-1.6zM418.6,498.2h1.6v1.6h-1.6zM419.3,500.0h1.6v1.6h-1.6zM421.0,498.2h1.6v1.6h-1.6zM419.2,498.4h1.6v1.6h-1.6zM414.6,488.5h1.6v1.6h-1.6zM420.4,499.5h1.6v1.6h-1.6zM427.6,501.0h1.6v1.6h-1.6zM425.5,492.3h1.6v1.6h-1.6zM424.3,500.6h1.6v1.6h-1.6zM419.1,500.1h1.6v1.6h-1.6zM429.4,493.9h1.6v1.6h-1.6zM437.4,493.4h1.6v1.6h-1.6zM420.5,497.5h1.6v1.6h-1.6zM422.9,493.3h1.6v1.6h-1.6zM435.4,498.0h1.6v1.6h-1.6zM419.9,493.2h1.6v1.6h-1.6zM427.7,499.0h1.6v1.6h-1.6zM419.1,499.5h1.6v1.6h-1.6zM439.3,498.1h1.6v1.6h-1.6zM412.6,500.8h1.6v1.6h-1.6zM436.7,497.3h1.6v1.6h-1.6zM418.3,500.8h1.6v1.6h-1.6zM421.7,502.6h1.6v1.6h-1.6zM427.1,499.1h1.6v1.6h-1.6zM420.8,502.1h1.6v1.6h-1.6zM425.6,495.3h1.6v1.6h-1.6zM427.4,495.2h1.6v1.6h-1.6zM434.4,498.6h1.6v1.6h-1.6zM423.3,501.5h1.6v1.6h-1.6zM419.2,496.0h1.6v1.6h-1.6zM430.4,505.7h1.6v1.6h-1.6zM429.3,488.4h1.6v1.6h-1.6zM423.4,503.0h1.6v1.6h-1.6zM417.7,499.0h1.6v1.6h-1.6zM421.9,503.7h1.6v1.6h-1.6zM431.1,502.0h1.6v1.6h-1.6zM405.7,507.1h1.6v1.6h-1.6zM420.2,537.2h1.6v1.6h-1.6zM414.2,530.8h1.6v1.6h-1.6zM427.1,528.7h1.6v1.6h-1.6zM422.1,542.8h1.6v1.6h-1.6zM419.5,548.6h1.6v1.6h-1.6zM415.5,533.4h1.6v1.6h-1.6zM423.9,523.3h1.6v1.6h-1.6zM418.3,538.7h1.6v1.6h-1.6zM423.1,543.1h1.6v1.6h-1.6zM419.1,540.9h1.6v1.6h-1.6zM427.9,538.5h1.6v1.6h-1.6zM414.3,538.9h1.6v1.6h-1.6zM433.7,531.1h1.6v1.6h-1.6zM417.2,540.9h1.6v1.6h-1.6zM419.9,529.4h1.6v1.6h-1.6zM422.1,546.7h1.6v1.6h-1.6zM422.6,545.4h1.6v1.6h-1.6zM420.9,529.6h1.6v1.6h-1.6zM426.7,536.1h1.6v1.6h-1.6zM427.5,543.4h1.6v1.6h-1.6zM423.2,537.4h1.6v1.6h-1.6zM419.4,516.5h1.6v1.6h-1.6zM419.8,533.6h1.6v1.6h-1.6zM419.2,542.3h1.6v1.6h-1.6zM419.1,529.1h1.6v1.6h-1.6zM425.1,527.5h1.6v1.6h-1.6zM425.9,538.8h1.6v1.6h-1.6zM425.7,548.4h1.6v1.6h-1.6zM428.8,540.7h1.6v1.6h-1.6zM422.2,537.8h1.6v1.6h-1.6zM419.4,531.9h1.6v1.6h-1.6zM427.9,546.9h1.6v1.6h-1.6zM427.2,524.6h1.6v1.6h-1.6zM425.1,524.2h1.6v1.6h-1.6zM412.7,547.7h1.6v1.6h-1.6zM430.3,524.1h1.6v1.6h-1.6zM416.0,533.8h1.6v1.6h-1.6zM424.0,545.7h1.6v1.6h-1.6zM425.1,526.0h1.6v1.6h-1.6zM421.4,536.6h1.6v1.6h-1.6zM428.9,531.9h1.6v1.6h-1.6zM428.0,545.7h1.6v1.6h-1.6zM421.0,534.0h1.6v1.6h-1.6zM414.7,521.4h1.6v1.6h-1.6zM420.6,540.8h1.6v1.6h-1.6zM419.2,523.5h1.6v1.6h-1.6zM417.0,541.6h1.6v1.6h-1.6zM415.3,544.6h1.6v1.6h-1.6zM422.4,535.1h1.6v1.6h-1.6zM409.8,520.1h1.6v1.6h-1.6zM421.1,539.6h1.6v1.6h-1.6zM425.1,548.4h1.6v1.6h-1.6zM421.2,535.2h1.6v1.6h-1.6zM423.4,547.6h1.6v1.6h-1.6zM419.5,547.7h1.6v1.6h-1.6zM427.2,510.6h1.6v1.6h-1.6zM421.5,546.4h1.6v1.6h-1.6zM421.3,539.9h1.6v1.6h-1.6zM419.9,537.1h1.6v1.6h-1.6zM413.3,526.9h1.6v1.6h-1.6zM415.8,545.3h1.6v1.6h-1.6zM426.8,538.9h1.6v1.6h-1.6zM425.3,527.5h1.6v1.6h-1.6zM418.3,541.1h1.6v1.6h-1.6zM415.4,522.3h1.6v1.6h-1.6zM409.7,548.1h1.6v1.6h-1.6zM420.7,536.5h1.6v1.6h-1.6zM422.8,548.0h1.6v1.6h-1.6zM413.7,528.5h1.6v1.6h-1.6zM413.2,525.1h1.6v1.6h-1.6zM420.9,531.3h1.6v1.6h-1.6zM427.5,537.7h1.6v1.6h-1.6zM420.7,548.2h1.6v1.6h-1.6zM410.8,524.5h1.6v1.6h-1.6zM427.1,524.3h1.6v1.6h-1.6zM418.3,532.6h1.6v1.6h-1.6zM431.3,538.4h1.6v1.6h-1.6zM423.1,544.3h1.6v1.6h-1.6zM416.0,544.8h1.6v1.6h-1.6zM423.2,517.0h1.6v1.6h-1.6zM415.2,526.6h1.6v1.6h-1.6zM424.7,539.6h1.6v1.6h-1.6zM428.6,542.0h1.6v1.6h-1.6zM411.8,521.5h1.6v1.6h-1.6zM415.5,536.2h1.6v1.6h-1.6zM410.7,525.5h1.6v1.6h-1.6zM421.7,526.4h1.6v1.6h-1.6zM421.1,536.8h1.6v1.6h-1.6zM411.5,541.4h1.6v1.6h-1.6zM426.5,534.2h1.6v1.6h-1.6zM422.3,537.3h1.6v1.6h-1.6zM423.5,522.0h1.6v1.6h-1.6zM420.7,528.7h1.6v1.6h-1.6zM417.9,524.3h1.6v1.6h-1.6zM418.9,525.7h1.6v1.6h-1.6zM429.5,530.0h1.6v1.6h-1.6zM415.3,541.7h1.6v1.6h-1.6zM427.7,533.0h1.6v1.6h-1.6zM423.5,535.5h1.6v1.6h-1.6zM419.7,537.2h1.6v1.6h-1.6zM424.9,537.8h1.6v1.6h-1.6zM421.0,532.6h1.6v1.6h-1.6zM428.1,546.3h1.6v1.6h-1.6zM415.9,537.2h1.6v1.6h-1.6zM425.9,534.7h1.6v1.6h-1.6zM422.6,526.8h1.6v1.6h-1.6zM418.3,529.4h1.6v1.6h-1.6zM419.7,537.5h1.6v1.6h-1.6zM422.5,533.5h1.6v1.6h-1.6zM413.5,529.3h1.6v1.6h-1.6zM424.8,535.9h1.6v1.6h-1.6zM420.6,534.5h1.6v1.6h-1.6zM430.2,534.9h1.6v1.6h-1.6zM423.6,532.5h1.6v1.6h-1.6zM425.2,527.9h1.6v1.6h-1.6zM423.4,540.8h1.6v1.6h-1.6zM419.3,533.7h1.6v1.6h-1.6zM429.1,535.4h1.6v1.6h-1.6zM429.6,526.9h1.6v1.6h-1.6zM422.2,546.2h1.6v1.6h-1.6zM419.5,540.5h1.6v1.6h-1.6zM426.7,533.7h1.6v1.6h-1.6zM426.3,517.3h1.6v1.6h-1.6zM420.6,538.7h1.6v1.6h-1.6zM417.1,528.1h1.6v1.6h-1.6zM419.8,537.0h1.6v1.6h-1.6zM421.1,536.5h1.6v1.6h-1.6zM424.0,539.3h1.6v1.6h-1.6zM425.6,544.0h1.6v1.6h-1.6zM432.4,535.2h1.6v1.6h-1.6zM442.4,541.4h1.6v1.6h-1.6zM421.0,526.3h1.6v1.6h-1.6zM420.8,545.8h1.6v1.6h-1.6zM431.1,540.3h1.6v1.6h-1.6zM416.8,542.1h1.6v1.6h-1.6zM415.2,525.0h1.6v1.6h-1.6zM430.2,531.2h1.6v1.6h-1.6zM429.3,529.8h1.6v1.6h-1.6zM422.6,527.0h1.6v1.6h-1.6zM426.3,547.9h1.6v1.6h-1.6zM421.3,533.2h1.6v1.6h-1.6zM415.0,524.6h1.6v1.6h-1.6zM428.2,531.6h1.6v1.6h-1.6zM415.4,542.6h1.6v1.6h-1.6zM419.9,538.6h1.6v1.6h-1.6zM414.8,539.3h1.6v1.6h-1.6zM411.6,537.1h1.6v1.6h-1.6zM420.7,541.2h1.6v1.6h-1.6zM415.2,536.8h1.6v1.6h-1.6zM442.6,544.8h1.6v1.6h-1.6zM411.1,524.4h1.6v1.6h-1.6zM427.4,533.0h1.6v1.6h-1.6zM420.4,538.8h1.6v1.6h-1.6zM420.9,541.9h1.6v1.6h-1.6zM415.3,541.3h1.6v1.6h-1.6zM429.2,527.5h1.6v1.6h-1.6zM416.1,529.9h1.6v1.6h-1.6zM431.0,524.0h1.6v1.6h-1.6zM419.0,525.2h1.6v1.6h-1.6zM422.4,541.6h1.6v1.6h-1.6zM427.4,528.1h1.6v1.6h-1.6zM416.1,547.0h1.6v1.6h-1.6zM422.2,537.8h1.6v1.6h-1.6zM409.6,533.0h1.6v1.6h-1.6zM405.8,535.3h1.6v1.6h-1.6zM422.7,540.4h1.6v1.6h-1.6zM420.5,544.1h1.6v1.6h-1.6zM427.6,534.8h1.6v1.6h-1.6zM425.1,548.3h1.6v1.6h-1.6zM432.5,524.0h1.6v1.6h-1.6zM425.5,547.3h1.6v1.6h-1.6zM426.1,527.7h1.6v1.6h-1.6zM422.7,536.1h1.6v1.6h-1.6zM422.0,535.8h1.6v1.6h-1.6zM414.2,534.7h1.6v1.6h-1.6zM422.7,542.6h1.6v1.6h-1.6zM427.4,537.0h1.6v1.6h-1.6zM423.0,531.0h1.6v1.6h-1.6zM420.9,536.5h1.6v1.6h-1.6zM413.6,544.5h1.6v1.6h-1.6zM429.1,536.3h1.6v1.6h-1.6zM423.7,537.0h1.6v1.6h-1.6zM422.3,520.2h1.6v1.6h-1.6zM420.3,526.6h1.6v1.6h-1.6zM424.6,535.7h1.6v1.6h-1.6zM415.7,540.4h1.6v1.6h-1.6zM427.8,535.7h1.6v1.6h-1.6zM412.7,541.4h1.6v1.6h-1.6zM427.7,540.4h1.6v1.6h-1.6zM433.7,530.0h1.6v1.6h-1.6zM415.3,539.9h1.6v1.6h-1.6zM415.2,538.5h1.6v1.6h-1.6zM420.9,542.5h1.6v1.6h-1.6zM424.3,536.4h1.6v1.6h-1.6zM417.0,530.3h1.6v1.6h-1.6zM424.8,538.1h1.6v1.6h-1.6zM420.7,535.4h1.6v1.6h-1.6zM417.8,543.8h1.6v1.6h-1.6zM418.2,543.2h1.6v1.6h-1.6zM429.9,537.3h1.6v1.6h-1.6zM420.0,539.0h1.6v1.6h-1.6zM414.8,524.4h1.6v1.6h-1.6zM428.7,538.4h1.6v1.6h-1.6zM420.7,546.5h1.6v1.6h-1.6zM423.4,525.0h1.6v1.6h-1.6zM420.6,532.3h1.6v1.6h-1.6zM426.6,530.6h1.6v1.6h-1.6zM420.5,543.0h1.6v1.6h-1.6zM417.5,534.0h1.6v1.6h-1.6zM426.8,539.3h1.6v1.6h-1.6zM424.0,534.4h1.6v1.6h-1.6zM414.4,536.9h1.6v1.6h-1.6zM428.1,525.5h1.6v1.6h-1.6zM420.7,540.6h1.6v1.6h-1.6zM422.5,536.7h1.6v1.6h-1.6zM424.9,547.8h1.6v1.6h-1.6zM417.3,532.1h1.6v1.6h-1.6zM426.1,529.3h1.6v1.6h-1.6zM427.6,526.7h1.6v1.6h-1.6zM421.7,542.6h1.6v1.6h-1.6zM428.3,542.8h1.6v1.6h-1.6zM416.3,531.4h1.6v1.6h-1.6zM426.5,536.7h1.6v1.6h-1.6zM416.8,540.4h1.6v1.6h-1.6zM423.1,528.6h1.6v1.6h-1.6zM417.7,538.0h1.6v1.6h-1.6zM425.5,537.7h1.6v1.6h-1.6zM417.2,520.0h1.6v1.6h-1.6zM416.6,525.6h1.6v1.6h-1.6zM420.5,527.5h1.6v1.6h-1.6zM423.0,524.7h1.6v1.6h-1.6zM422.5,546.9h1.6v1.6h-1.6zM420.0,528.0h1.6v1.6h-1.6zM418.7,526.2h1.6v1.6h-1.6zM428.0,535.9h1.6v1.6h-1.6zM413.2,530.4h1.6v1.6h-1.6zM427.3,525.1h1.6v1.6h-1.6zM416.6,546.0h1.6v1.6h-1.6zM418.3,525.3h1.6v1.6h-1.6zM420.5,544.8h1.6v1.6h-1.6zM411.6,544.9h1.6v1.6h-1.6zM422.4,539.5h1.6v1.6h-1.6zM424.6,535.2h1.6v1.6h-1.6zM410.4,535.6h1.6v1.6h-1.6zM417.9,527.2h1.6v1.6h-1.6zM425.8,526.6h1.6v1.6h-1.6zM419.0,530.3h1.6v1.6h-1.6zM417.3,533.0h1.6v1.6h-1.6zM420.3,523.2h1.6v1.6h-1.6zM416.5,540.6h1.6v1.6h-1.6zM420.8,527.8h1.6v1.6h-1.6zM417.9,542.3h1.6v1.6h-1.6zM423.3,517.6h1.6v1.6h-1.6zM426.5,543.0h1.6v1.6h-1.6zM418.8,540.1h1.6v1.6h-1.6zM419.0,512.0h1.6v1.6h-1.6zM421.8,536.8h1.6v1.6h-1.6zM406.0,534.5h1.6v1.6h-1.6zM424.7,537.9h1.6v1.6h-1.6zM419.7,531.5h1.6v1.6h-1.6zM418.7,541.2h1.6v1.6h-1.6zM426.7,536.2h1.6v1.6h-1.6zM416.9,534.7h1.6v1.6h-1.6zM414.7,535.1h1.6v1.6h-1.6zM426.3,534.3h1.6v1.6h-1.6zM425.3,521.5h1.6v1.6h-1.6zM434.0,539.1h1.6v1.6h-1.6zM416.8,534.7h1.6v1.6h-1.6zM414.3,536.0h1.6v1.6h-1.6zM416.2,547.2h1.6v1.6h-1.6zM425.4,539.8h1.6v1.6h-1.6zM418.4,529.0h1.6v1.6h-1.6zM416.5,546.9h1.6v1.6h-1.6zM413.8,537.5h1.6v1.6h-1.6zM418.7,536.2h1.6v1.6h-1.6zM424.0,542.6h1.6v1.6h-1.6zM425.5,537.3h1.6v1.6h-1.6zM416.8,528.6h1.6v1.6h-1.6zM418.0,539.1h1.6v1.6h-1.6zM425.7,538.0h1.6v1.6h-1.6zM425.9,536.6h1.6v1.6h-1.6zM416.2,529.3h1.6v1.6h-1.6zM428.5,539.2h1.6v1.6h-1.6zM422.1,533.9h1.6v1.6h-1.6zM423.5,538.0h1.6v1.6h-1.6zM418.0,536.1h1.6v1.6h-1.6zM418.0,530.9h1.6v1.6h-1.6zM421.6,527.6h1.6v1.6h-1.6zM425.1,533.1h1.6v1.6h-1.6zM426.1,527.9h1.6v1.6h-1.6zM429.1,538.3h1.6v1.6h-1.6zM429.3,540.5h1.6v1.6h-1.6zM423.6,538.8h1.6v1.6h-1.6zM429.6,544.2h1.6v1.6h-1.6zM414.5,537.2h1.6v1.6h-1.6zM411.7,533.2h1.6v1.6h-1.6zM419.8,541.9h1.6v1.6h-1.6zM425.8,533.2h1.6v1.6h-1.6zM421.2,545.6h1.6v1.6h-1.6zM421.3,531.7h1.6v1.6h-1.6zM419.8,547.8h1.6v1.6h-1.6zM421.6,537.8h1.6v1.6h-1.6zM421.1,540.1h1.6v1.6h-1.6zM420.7,545.7h1.6v1.6h-1.6zM428.9,538.6h1.6v1.6h-1.6zM412.6,545.8h1.6v1.6h-1.6zM422.3,536.6h1.6v1.6h-1.6zM409.1,541.2h1.6v1.6h-1.6zM423.4,511.8h1.6v1.6h-1.6zM429.7,539.2h1.6v1.6h-1.6zM420.0,531.1h1.6v1.6h-1.6zM430.1,541.7h1.6v1.6h-1.6zM417.7,525.7h1.6v1.6h-1.6zM424.5,533.1h1.6v1.6h-1.6zM431.9,544.0h1.6v1.6h-1.6zM422.1,541.0h1.6v1.6h-1.6zM423.3,528.6h1.6v1.6h-1.6zM424.1,545.2h1.6v1.6h-1.6zM418.2,533.0h1.6v1.6h-1.6zM423.4,534.6h1.6v1.6h-1.6zM428.1,542.9h1.6v1.6h-1.6zM427.0,538.4h1.6v1.6h-1.6zM420.6,547.2h1.6v1.6h-1.6zM423.9,540.2h1.6v1.6h-1.6zM428.9,530.3h1.6v1.6h-1.6zM412.6,533.6h1.6v1.6h-1.6zM423.1,544.3h1.6v1.6h-1.6zM420.0,532.7h1.6v1.6h-1.6zM417.9,535.5h1.6v1.6h-1.6zM418.8,546.8h1.6v1.6h-1.6zM435.2,535.2h1.6v1.6h-1.6zM421.6,533.9h1.6v1.6h-1.6zM422.7,530.5h1.6v1.6h-1.6zM420.5,531.0h1.6v1.6h-1.6zM420.5,531.1h1.6v1.6h-1.6zM425.3,527.5h1.6v1.6h-1.6zM429.0,537.3h1.6v1.6h-1.6zM414.5,525.4h1.6v1.6h-1.6zM416.9,523.8h1.6v1.6h-1.6zM420.4,541.6h1.6v1.6h-1.6zM422.1,534.6h1.6v1.6h-1.6zM431.2,539.9h1.6v1.6h-1.6zM414.1,536.7h1.6v1.6h-1.6zM414.3,534.6h1.6v1.6h-1.6zM422.0,546.5h1.6v1.6h-1.6zM422.3,530.6h1.6v1.6h-1.6zM422.2,539.5h1.6v1.6h-1.6zM417.4,535.1h1.6v1.6h-1.6zM423.8,530.4h1.6v1.6h-1.6zM426.1,530.7h1.6v1.6h-1.6zM417.2,534.8h1.6v1.6h-1.6zM423.0,536.5h1.6v1.6h-1.6zM424.9,526.8h1.6v1.6h-1.6zM406.4,540.2h1.6v1.6h-1.6zM425.0,535.5h1.6v1.6h-1.6zM417.1,538.9h1.6v1.6h-1.6zM417.8,545.8h1.6v1.6h-1.6zM420.8,542.0h1.6v1.6h-1.6zM411.4,529.6h1.6v1.6h-1.6zM416.9,539.3h1.6v1.6h-1.6zM416.0,530.8h1.6v1.6h-1.6zM414.0,533.4h1.6v1.6h-1.6zM411.8,526.8h1.6v1.6h-1.6zM423.9,541.5h1.6v1.6h-1.6zM430.2,545.4h1.6v1.6h-1.6zM428.5,540.7h1.6v1.6h-1.6zM417.1,529.2h1.6v1.6h-1.6zM425.4,544.1h1.6v1.6h-1.6zM416.0,544.3h1.6v1.6h-1.6zM421.8,539.6h1.6v1.6h-1.6zM415.9,519.6h1.6v1.6h-1.6zM413.8,533.6h1.6v1.6h-1.6zM425.2,534.0h1.6v1.6h-1.6zM427.9,526.4h1.6v1.6h-1.6zM430.2,538.4h1.6v1.6h-1.6zM418.0,532.5h1.6v1.6h-1.6zM426.3,528.0h1.6v1.6h-1.6zM414.3,536.0h1.6v1.6h-1.6zM424.5,534.4h1.6v1.6h-1.6zM419.6,545.0h1.6v1.6h-1.6zM421.0,536.1h1.6v1.6h-1.6zM416.0,528.1h1.6v1.6h-1.6zM414.8,540.7h1.6v1.6h-1.6zM424.4,533.8h1.6v1.6h-1.6zM420.2,530.2h1.6v1.6h-1.6zM422.4,543.8h1.6v1.6h-1.6zM413.5,531.0h1.6v1.6h-1.6zM425.3,538.3h1.6v1.6h-1.6zM419.6,534.8h1.6v1.6h-1.6zM406.5,526.3h1.6v1.6h-1.6zM419.2,533.9h1.6v1.6h-1.6zM416.6,533.8h1.6v1.6h-1.6zM420.8,526.6h1.6v1.6h-1.6zM420.9,536.1h1.6v1.6h-1.6zM420.9,538.5h1.6v1.6h-1.6zM421.6,541.6h1.6v1.6h-1.6zM419.4,538.5h1.6v1.6h-1.6zM418.8,535.6h1.6v1.6h-1.6zM432.4,539.6h1.6v1.6h-1.6zM415.5,545.6h1.6v1.6h-1.6zM419.8,527.5h1.6v1.6h-1.6zM413.6,542.4h1.6v1.6h-1.6zM421.1,541.4h1.6v1.6h-1.6zM412.5,525.3h1.6v1.6h-1.6zM420.0,540.8h1.6v1.6h-1.6zM418.6,546.2h1.6v1.6h-1.6zM420.2,527.8h1.6v1.6h-1.6zM424.1,541.3h1.6v1.6h-1.6zM423.4,538.3h1.6v1.6h-1.6zM413.1,539.9h1.6v1.6h-1.6zM419.3,523.9h1.6v1.6h-1.6zM421.0,535.2h1.6v1.6h-1.6zM417.2,540.9h1.6v1.6h-1.6zM417.2,527.9h1.6v1.6h-1.6zM428.2,538.8h1.6v1.6h-1.6zM427.0,545.0h1.6v1.6h-1.6zM422.8,547.1h1.6v1.6h-1.6zM410.2,534.3h1.6v1.6h-1.6zM431.5,525.9h1.6v1.6h-1.6zM410.9,532.1h1.6v1.6h-1.6zM417.9,530.7h1.6v1.6h-1.6zM419.6,531.4h1.6v1.6h-1.6zM422.4,534.7h1.6v1.6h-1.6zM424.6,534.2h1.6v1.6h-1.6zM418.9,538.2h1.6v1.6h-1.6zM415.0,533.9h1.6v1.6h-1.6zM423.6,532.3h1.6v1.6h-1.6zM425.9,533.7h1.6v1.6h-1.6zM420.6,538.2h1.6v1.6h-1.6zM421.9,536.2h1.6v1.6h-1.6zM410.8,536.1h1.6v1.6h-1.6zM434.4,521.7h1.6v1.6h-1.6zM417.9,531.6h1.6v1.6h-1.6zM423.2,528.7h1.6v1.6h-1.6zM419.3,532.9h1.6v1.6h-1.6zM412.8,536.0h1.6v1.6h-1.6zM428.0,537.1h1.6v1.6h-1.6zM420.5,534.3h1.6v1.6h-1.6zM418.2,523.6h1.6v1.6h-1.6zM421.0,541.5h1.6v1.6h-1.6zM410.6,521.0h1.6v1.6h-1.6zM428.7,538.8h1.6v1.6h-1.6zM421.0,529.5h1.6v1.6h-1.6zM415.2,546.2h1.6v1.6h-1.6zM420.8,543.4h1.6v1.6h-1.6zM415.2,539.8h1.6v1.6h-1.6zM416.8,544.1h1.6v1.6h-1.6zM412.1,544.2h1.6v1.6h-1.6zM416.1,533.6h1.6v1.6h-1.6zM414.3,547.8h1.6v1.6h-1.6zM420.6,536.1h1.6v1.6h-1.6zM416.9,532.6h1.6v1.6h-1.6zM420.7,534.9h1.6v1.6h-1.6zM419.7,538.3h1.6v1.6h-1.6zM426.7,541.1h1.6v1.6h-1.6zM421.9,536.7h1.6v1.6h-1.6zM416.1,542.5h1.6v1.6h-1.6zM414.1,531.3h1.6v1.6h-1.6zM428.3,520.5h1.6v1.6h-1.6zM419.1,536.5h1.6v1.6h-1.6zM423.0,543.6h1.6v1.6h-1.6zM417.1,530.6h1.6v1.6h-1.6zM416.3,539.3h1.6v1.6h-1.6zM428.3,539.8h1.6v1.6h-1.6zM420.2,541.4h1.6v1.6h-1.6zM425.1,547.3h1.6v1.6h-1.6zM412.0,537.5h1.6v1.6h-1.6zM427.4,538.1h1.6v1.6h-1.6zM414.6,541.7h1.6v1.6h-1.6zM418.3,538.2h1.6v1.6h-1.6zM433.5,532.6h1.6v1.6h-1.6zM418.7,541.1h1.6v1.6h-1.6zM416.8,539.7h1.6v1.6h-1.6zM415.8,539.5h1.6v1.6h-1.6zM426.9,537.5h1.6v1.6h-1.6zM431.1,538.9h1.6v1.6h-1.6zM421.2,529.7h1.6v1.6h-1.6zM422.2,531.8h1.6v1.6h-1.6zM416.8,513.9h1.6v1.6h-1.6zM422.8,539.9h1.6v1.6h-1.6zM424.8,526.5h1.6v1.6h-1.6zM420.9,522.3h1.6v1.6h-1.6zM425.5,532.2h1.6v1.6h-1.6zM416.2,528.9h1.6v1.6h-1.6zM416.5,541.7h1.6v1.6h-1.6zM415.9,526.6h1.6v1.6h-1.6zM427.1,523.1h1.6v1.6h-1.6zM419.2,536.2h1.6v1.6h-1.6zM419.1,542.4h1.6v1.6h-1.6zM418.5,537.7h1.6v1.6h-1.6zM423.5,546.4h1.6v1.6h-1.6zM424.1,530.0h1.6v1.6h-1.6zM420.2,538.1h1.6v1.6h-1.6zM419.2,523.1h1.6v1.6h-1.6zM421.3,532.1h1.6v1.6h-1.6zM423.0,533.4h1.6v1.6h-1.6zM423.4,527.6h1.6v1.6h-1.6zM414.9,534.5h1.6v1.6h-1.6zM424.5,530.5h1.6v1.6h-1.6zM417.3,528.1h1.6v1.6h-1.6zM407.1,541.5h1.6v1.6h-1.6zM418.0,522.6h1.6v1.6h-1.6zM423.2,537.3h1.6v1.6h-1.6zM432.1,541.3h1.6v1.6h-1.6zM426.5,539.2h1.6v1.6h-1.6zM430.9,538.1h1.6v1.6h-1.6zM425.1,538.1h1.6v1.6h-1.6zM417.7,524.9h1.6v1.6h-1.6zM427.7,541.4h1.6v1.6h-1.6zM430.3,529.4h1.6v1.6h-1.6zM406.9,542.0h1.6v1.6h-1.6zM407.7,533.3h1.6v1.6h-1.6zM415.1,529.7h1.6v1.6h-1.6zM410.2,529.3h1.6v1.6h-1.6zM412.6,536.0h1.6v1.6h-1.6zM416.5,537.4h1.6v1.6h-1.6zM429.6,539.1h1.6v1.6h-1.6zM424.4,547.4h1.6v1.6h-1.6zM415.3,536.3h1.6v1.6h-1.6zM431.2,516.8h1.6v1.6h-1.6zM424.2,539.4h1.6v1.6h-1.6zM419.1,541.1h1.6v1.6h-1.6zM423.2,532.1h1.6v1.6h-1.6zM423.8,534.1h1.6v1.6h-1.6zM426.4,539.9h1.6v1.6h-1.6zM419.1,539.0h1.6v1.6h-1.6zM419.6,545.5h1.6v1.6h-1.6zM416.9,529.9h1.6v1.6h-1.6zM423.8,523.6h1.6v1.6h-1.6zM420.3,541.6h1.6v1.6h-1.6zM430.3,524.2h1.6v1.6h-1.6zM412.7,530.5h1.6v1.6h-1.6zM423.8,542.9h1.6v1.6h-1.6zM418.2,546.0h1.6v1.6h-1.6zM417.4,539.9h1.6v1.6h-1.6zM428.7,545.5h1.6v1.6h-1.6zM418.0,523.4h1.6v1.6h-1.6zM418.6,531.9h1.6v1.6h-1.6zM417.0,530.3h1.6v1.6h-1.6zM418.7,540.0h1.6v1.6h-1.6zM427.8,544.5h1.6v1.6h-1.6zM429.6,519.3h1.6v1.6h-1.6zM427.0,542.9h1.6v1.6h-1.6zM426.2,535.3h1.6v1.6h-1.6zM419.5,532.1h1.6v1.6h-1.6zM418.3,534.2h1.6v1.6h-1.6zM417.3,548.7h1.6v1.6h-1.6zM424.6,544.0h1.6v1.6h-1.6zM430.6,538.7h1.6v1.6h-1.6zM426.7,530.7h1.6v1.6h-1.6zM423.3,542.0h1.6v1.6h-1.6zM414.5,542.3h1.6v1.6h-1.6zM421.5,532.4h1.6v1.6h-1.6zM428.9,537.4h1.6v1.6h-1.6zM420.9,543.4h1.6v1.6h-1.6zM417.9,524.9h1.6v1.6h-1.6zM426.0,545.1h1.6v1.6h-1.6zM418.1,538.6h1.6v1.6h-1.6zM421.4,538.7h1.6v1.6h-1.6zM427.1,537.6h1.6v1.6h-1.6zM425.3,543.3h1.6v1.6h-1.6zM419.5,539.5h1.6v1.6h-1.6zM419.1,535.4h1.6v1.6h-1.6zM428.5,530.1h1.6v1.6h-1.6zM425.5,535.2h1.6v1.6h-1.6zM418.6,537.8h1.6v1.6h-1.6zM418.0,523.6h1.6v1.6h-1.6zM427.2,542.6h1.6v1.6h-1.6zM418.7,526.4h1.6v1.6h-1.6zM415.0,523.1h1.6v1.6h-1.6zM447.4,508.0h1.6v1.6h-1.6zM412.7,519.9h1.6v1.6h-1.6zM418.9,507.1h1.6v1.6h-1.6zM427.2,515.9h1.6v1.6h-1.6zM410.2,534.2h1.6v1.6h-1.6zM414.8,535.2h1.6v1.6h-1.6zM416.5,548.8h1.6v1.6h-1.6zM412.2,533.7h1.6v1.6h-1.6zM412.8,546.1h1.6v1.6h-1.6zM427.0,526.1h1.6v1.6h-1.6zM423.5,525.0h1.6v1.6h-1.6zM419.5,533.8h1.6v1.6h-1.6zM446.7,536.0h1.6v1.6h-1.6zM430.5,523.7h1.6v1.6h-1.6zM415.6,531.5h1.6v1.6h-1.6zM425.3,548.4h1.6v1.6h-1.6zM423.0,543.7h1.6v1.6h-1.6zM411.6,533.2h1.6v1.6h-1.6zM423.7,529.3h1.6v1.6h-1.6zM434.5,520.6h1.6v1.6h-1.6zM431.0,513.3h1.6v1.6h-1.6zM409.1,539.4h1.6v1.6h-1.6zM440.5,519.4h1.6v1.6h-1.6zM431.8,526.9h1.6v1.6h-1.6zM443.6,534.9h1.6v1.6h-1.6zM445.9,526.4h1.6v1.6h-1.6zM446.8,524.0h1.6v1.6h-1.6zM445.1,538.8h1.6v1.6h-1.6zM409.1,542.8h1.6v1.6h-1.6zM428.0,540.7h1.6v1.6h-1.6zM415.7,526.4h1.6v1.6h-1.6zM411.3,548.9h1.6v1.6h-1.6zM425.3,504.1h1.6v1.6h-1.6zM434.5,532.7h1.6v1.6h-1.6zM455.7,527.7h1.6v1.6h-1.6zM431.3,526.4h1.6v1.6h-1.6zM419.7,539.1h1.6v1.6h-1.6zM426.2,505.1h1.6v1.6h-1.6zM424.2,540.9h1.6v1.6h-1.6zM436.8,541.7h1.6v1.6h-1.6zM419.7,516.8h1.6v1.6h-1.6zM430.0,518.7h1.6v1.6h-1.6zM440.7,528.6h1.6v1.6h-1.6zM434.3,534.8h1.6v1.6h-1.6zM435.4,535.6h1.6v1.6h-1.6zM430.6,533.0h1.6v1.6h-1.6zM416.6,512.5h1.6v1.6h-1.6zM406.7,544.1h1.6v1.6h-1.6zM417.6,535.4h1.6v1.6h-1.6zM433.4,533.7h1.6v1.6h-1.6zM412.2,531.3h1.6v1.6h-1.6zM420.2,497.7h1.6v1.6h-1.6zM427.0,542.6h1.6v1.6h-1.6zM419.1,518.4h1.6v1.6h-1.6zM441.3,524.2h1.6v1.6h-1.6zM422.9,525.3h1.6v1.6h-1.6zM422.8,533.0h1.6v1.6h-1.6zM435.7,535.5h1.6v1.6h-1.6zM450.2,518.0h1.6v1.6h-1.6zM428.8,528.7h1.6v1.6h-1.6zM452.4,512.3h1.6v1.6h-1.6zM424.8,541.7h1.6v1.6h-1.6zM416.7,531.3h1.6v1.6h-1.6zM427.3,536.0h1.6v1.6h-1.6zM428.0,517.9h1.6v1.6h-1.6zM435.1,503.5h1.6v1.6h-1.6zM414.7,521.1h1.6v1.6h-1.6zM423.7,532.6h1.6v1.6h-1.6zM465.1,548.0h1.6v1.6h-1.6zM425.0,534.1h1.6v1.6h-1.6zM441.9,537.4h1.6v1.6h-1.6zM423.8,508.5h1.6v1.6h-1.6zM438.5,529.7h1.6v1.6h-1.6zM454.7,534.4h1.6v1.6h-1.6zM412.1,536.3h1.6v1.6h-1.6zM413.2,544.9h1.6v1.6h-1.6zM421.3,526.1h1.6v1.6h-1.6zM424.9,547.6h1.6v1.6h-1.6zM409.1,545.5h1.6v1.6h-1.6zM444.1,540.8h1.6v1.6h-1.6zM425.5,542.1h1.6v1.6h-1.6zM419.8,521.8h1.6v1.6h-1.6zM439.3,513.9h1.6v1.6h-1.6zM430.1,525.0h1.6v1.6h-1.6zM421.6,530.7h1.6v1.6h-1.6zM419.6,545.6h1.6v1.6h-1.6zM417.0,518.1h1.6v1.6h-1.6zM410.0,531.3h1.6v1.6h-1.6zM427.5,530.2h1.6v1.6h-1.6zM427.2,518.0h1.6v1.6h-1.6zM429.5,540.4h1.6v1.6h-1.6zM408.6,527.7h1.6v1.6h-1.6zM425.3,527.0h1.6v1.6h-1.6zM416.1,523.5h1.6v1.6h-1.6zM410.9,518.9h1.6v1.6h-1.6zM407.9,532.7h1.6v1.6h-1.6zM413.9,537.6h1.6v1.6h-1.6zM426.4,534.9h1.6v1.6h-1.6zM434.0,530.5h1.6v1.6h-1.6zM466.9,530.9h1.6v1.6h-1.6zM470.9,524.9h1.6v1.6h-1.6zM467.3,540.6h1.6v1.6h-1.6zM469.1,538.3h1.6v1.6h-1.6zM470.1,519.8h1.6v1.6h-1.6zM467.0,522.4h1.6v1.6h-1.6zM468.8,529.6h1.6v1.6h-1.6zM470.2,532.0h1.6v1.6h-1.6zM467.0,537.5h1.6v1.6h-1.6zM464.2,519.8h1.6v1.6h-1.6zM470.8,533.1h1.6v1.6h-1.6zM470.0,524.6h1.6v1.6h-1.6zM470.1,534.4h1.6v1.6h-1.6zM468.2,530.5h1.6v1.6h-1.6zM467.6,533.1h1.6v1.6h-1.6zM464.0,538.8h1.6v1.6h-1.6zM465.4,523.9h1.6v1.6h-1.6zM471.7,530.0h1.6v1.6h-1.6zM463.4,531.5h1.6v1.6h-1.6zM466.5,532.9h1.6v1.6h-1.6zM464.6,529.8h1.6v1.6h-1.6zM466.9,540.6h1.6v1.6h-1.6zM465.1,536.8h1.6v1.6h-1.6zM470.8,532.7h1.6v1.6h-1.6zM467.2,533.6h1.6v1.6h-1.6zM465.7,536.9h1.6v1.6h-1.6zM463.1,539.0h1.6v1.6h-1.6zM466.9,526.8h1.6v1.6h-1.6zM468.9,540.9h1.6v1.6h-1.6zM467.9,543.1h1.6v1.6h-1.6zM467.8,532.7h1.6v1.6h-1.6zM464.2,530.3h1.6v1.6h-1.6zM467.8,526.7h1.6v1.6h-1.6zM464.1,527.0h1.6v1.6h-1.6zM469.1,534.7h1.6v1.6h-1.6zM473.2,517.7h1.6v1.6h-1.6zM473.3,536.0h1.6v1.6h-1.6zM468.0,538.3h1.6v1.6h-1.6zM469.0,520.3h1.6v1.6h-1.6zM470.1,521.7h1.6v1.6h-1.6zM468.9,529.7h1.6v1.6h-1.6zM469.4,526.1h1.6v1.6h-1.6zM471.7,547.6h1.6v1.6h-1.6zM467.0,542.2h1.6v1.6h-1.6zM470.3,544.9h1.6v1.6h-1.6zM464.2,543.7h1.6v1.6h-1.6zM469.8,526.8h1.6v1.6h-1.6zM469.2,537.8h1.6v1.6h-1.6zM467.7,543.7h1.6v1.6h-1.6zM465.5,545.0h1.6v1.6h-1.6zM467.4,530.9h1.6v1.6h-1.6zM465.1,532.2h1.6v1.6h-1.6z" fill="#000"/>
</svg>
</body></html>
